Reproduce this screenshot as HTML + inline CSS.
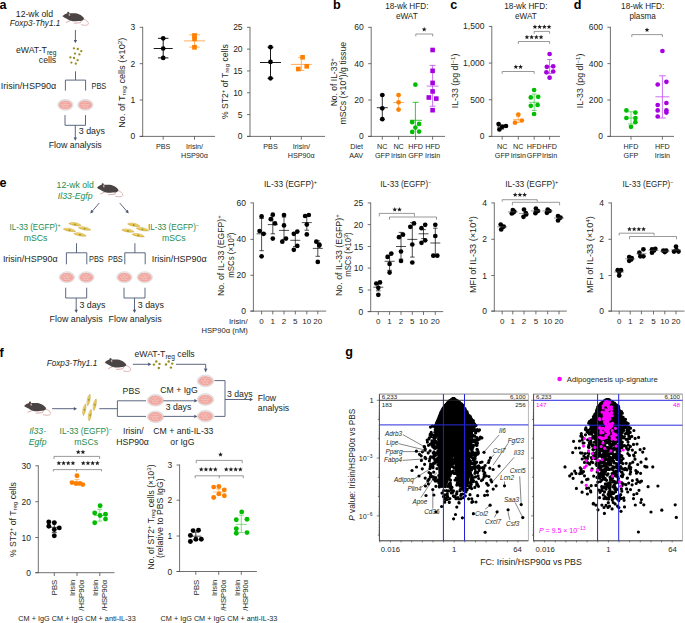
<!DOCTYPE html>
<html><head><meta charset="utf-8"><style>
html,body{margin:0;padding:0;background:#fff;width:685px;height:623px;overflow:hidden}
svg{display:block}
text{font-family:"Liberation Sans", sans-serif}
</style></head><body>
<svg width="685" height="623" viewBox="0 0 685 623">

<defs>
<polygon id="star" points="0.00,-2.25 0.65,-0.64 2.38,-0.52 1.05,0.59 1.47,2.27 0.00,1.35 -1.47,2.27 -1.05,0.59 -2.38,-0.52 -0.65,-0.64" fill="#231f20"/>
<g id="mouse">
<path d="M21.6,7.8 C24,8.6 26.6,10.4 26.4,12.4 C26.2,14 23.5,14.4 19,13.4" fill="none" stroke="#d6a2a2" stroke-width="0.8"/>
<path d="M12.3,11.9 L18.5,11.4 L19.5,9.3" fill="none" stroke="#d6a2a2" stroke-width="0.9" stroke-linecap="round" stroke-linejoin="round"/>
<path d="M4.3,11 L8.5,9.2" fill="none" stroke="#d6a2a2" stroke-width="0.9" stroke-linecap="round"/>
<path d="M0.7,4.7 C1.8,3.5 3,2.6 4.5,2.2 C6.5,1.9 8,2.0 9.5,2.0 C11.5,1.9 13.5,1.9 15,2.3 C17.5,3 20,4.4 21.5,6.2 C22.4,7.4 22,8.5 20.5,9.1 C19,9.6 17.5,9.7 16,9.8 C13.5,10.2 11,10.2 9,9.5 C7.5,9.1 6,8.3 4.8,7.4 C3.5,6.6 2,5.9 1.2,5.4 C0.8,5.2 0.6,5 0.7,4.7 Z" fill="#4a4444"/>
<ellipse cx="6.3" cy="1.8" rx="1.05" ry="1.25" fill="#4a4444"/>
<ellipse cx="7.4" cy="3.4" rx="0.8" ry="1.25" fill="#d99c9c" transform="rotate(-15 7.4 3.4)"/>
<circle cx="0.8" cy="4.9" r="0.45" fill="#d99c9c"/>
</g>
<g id="dish">
<ellipse cx="0" cy="0" rx="7.7" ry="5.5" fill="#eceff0" stroke="#c3cbd0" stroke-width="0.5"/>
<ellipse cx="0" cy="0.2" rx="6.9" ry="4.6" fill="#f2b0a9"/>
<path d="M-5.2,-1.2 q0.8,-1.2 1.6,0 t1.6,0 t1.6,0 t1.6,0 t1.6,0 t1.6,0 M-5.6,1.0 q0.8,-1.2 1.6,0 t1.6,0 t1.6,0 t1.6,0 t1.6,0 t1.6,0 t1.6,0 M-3.8,-3.1 q0.8,-1 1.6,0 t1.6,0 t1.6,0 t1.6,0 M-4.2,3.0 q0.8,-1 1.6,0 t1.6,0 t1.6,0 t1.6,0 t1.6,0" fill="none" stroke="#e58d87" stroke-width="0.45"/>
<path d="M-4.4,-0.1 q0.8,-1 1.6,0 t1.6,0 t1.6,0 t1.6,0 t1.6,0 M-2.8,-2.2 q0.8,-1 1.6,0 t1.6,0 t1.6,0 M-3.4,2.1 q0.8,-1 1.6,0 t1.6,0 t1.6,0 t1.6,0" fill="none" stroke="#fbe0dc" stroke-width="0.45"/>
<path d="M-6.6,2.2 q3,2.6 6.6,2.5 q3.6,0 6.6,-2.5" fill="none" stroke="#f7d6d2" stroke-width="0.5"/>
</g>
<g id="cell">
<path d="M-6.3,0.2 C-3.5,-2.1 3,-2.2 6.3,0.4 C3.2,1.9 -3,1.9 -6.3,0.2 Z" fill="#eac44c" stroke="#b3912b" stroke-width="0.35"/>
<path d="M-4.5,-0.2 C-2,-1.3 2,-1.3 4.5,-0.2" fill="none" stroke="#f7e08e" stroke-width="0.5"/>
<ellipse cx="0" cy="0.2" rx="0.9" ry="0.9" fill="#8c9a3c"/>
</g>
</defs>

<rect width="685" height="623" fill="#fff"/>
<text x="-0.60" y="8.90" font-size="12.6" text-anchor="start" fill="#000" font-weight="bold">a</text>
<text x="15.80" y="16.80" font-size="8.7" text-anchor="start" fill="#231f20" textLength="37.2" lengthAdjust="spacingAndGlyphs">12-wk old</text>
<text x="9.80" y="26.00" font-size="8.7" text-anchor="start" fill="#231f20" font-style="italic" textLength="50.5" lengthAdjust="spacingAndGlyphs">Foxp3-Thy1.1</text>
<use href="#mouse" transform="translate(62.00,11.30) scale(1.0)"/>
<line x1="75.40" y1="30.00" x2="75.40" y2="40.50" stroke="#4a5773" stroke-width="0.9"/>
<polygon points="75.40,43.20 73.70,40.00 77.10,40.00" fill="#4a5773"/>
<text x="16" y="52.5" font-size="8.7" fill="#231f20">eWAT-T<tspan font-size="6.6" dy="2.2">reg</tspan></text>
<text x="56.20" y="62.50" font-size="8.7" text-anchor="end" fill="#231f20">cells</text>
<circle cx="73.90" cy="48.30" r="1.15" fill="#978d22"/>
<circle cx="77.80" cy="49.00" r="1.15" fill="#978d22"/>
<circle cx="81.30" cy="51.20" r="1.15" fill="#978d22"/>
<circle cx="75.00" cy="53.60" r="1.15" fill="#978d22"/>
<circle cx="79.40" cy="54.40" r="1.15" fill="#978d22"/>
<circle cx="70.40" cy="57.40" r="1.15" fill="#978d22"/>
<circle cx="74.00" cy="58.00" r="1.15" fill="#978d22"/>
<circle cx="77.60" cy="60.20" r="1.15" fill="#978d22"/>
<circle cx="71.40" cy="62.60" r="1.15" fill="#978d22"/>
<circle cx="75.80" cy="63.70" r="1.15" fill="#978d22"/>
<line x1="75.50" y1="71.30" x2="75.50" y2="80.10" stroke="#4a5773" stroke-width="0.9"/>
<polyline points="65.40,90.60 65.40,80.10 85.60,80.10 85.60,90.60" fill="none" stroke="#4a5773" stroke-width="0.9"/>
<text x="0.80" y="89.00" font-size="8.7" text-anchor="start" fill="#231f20" textLength="55.4" lengthAdjust="spacingAndGlyphs">Irisin/HSP90α</text>
<text x="91.50" y="89.00" font-size="8.7" text-anchor="start" fill="#231f20" textLength="14.8" lengthAdjust="spacingAndGlyphs">PBS</text>
<use href="#dish" transform="translate(65.40,104.80) scale(1.0)"/>
<use href="#dish" transform="translate(85.40,104.80) scale(1.0)"/>
<polyline points="65.00,115.10 65.00,125.30 85.50,125.30 85.50,115.10" fill="none" stroke="#4a5773" stroke-width="0.9"/>
<line x1="75.30" y1="125.30" x2="75.30" y2="138.00" stroke="#4a5773" stroke-width="0.9"/>
<polygon points="75.30,140.70 73.60,137.50 77.00,137.50" fill="#4a5773"/>
<text x="78.80" y="134.30" font-size="8.7" text-anchor="start" fill="#231f20" textLength="26.1" lengthAdjust="spacingAndGlyphs">3 days</text>
<text x="48.70" y="147.80" font-size="8.7" text-anchor="start" fill="#231f20" textLength="53.1" lengthAdjust="spacingAndGlyphs">Flow analysis</text>
<line x1="142.70" y1="136.80" x2="142.70" y2="26.89" stroke="#4d4d4d" stroke-width="0.8"/>
<line x1="139.70" y1="136.40" x2="142.70" y2="136.40" stroke="#4d4d4d" stroke-width="0.8"/>
<text x="135.30" y="139.40" font-size="8.5" text-anchor="end" fill="#231f20">0</text>
<line x1="139.70" y1="100.03" x2="142.70" y2="100.03" stroke="#4d4d4d" stroke-width="0.8"/>
<text x="135.30" y="103.03" font-size="8.5" text-anchor="end" fill="#231f20">1</text>
<line x1="139.70" y1="63.66" x2="142.70" y2="63.66" stroke="#4d4d4d" stroke-width="0.8"/>
<text x="135.30" y="66.66" font-size="8.5" text-anchor="end" fill="#231f20">2</text>
<line x1="139.70" y1="27.29" x2="142.70" y2="27.29" stroke="#4d4d4d" stroke-width="0.8"/>
<text x="135.30" y="30.29" font-size="8.5" text-anchor="end" fill="#231f20">3</text>
<line x1="139.70" y1="136.40" x2="215.00" y2="136.40" stroke="#4d4d4d" stroke-width="0.8"/>
<line x1="163.20" y1="136.40" x2="163.20" y2="139.70" stroke="#4d4d4d" stroke-width="0.8"/>
<line x1="194.50" y1="136.40" x2="194.50" y2="139.70" stroke="#4d4d4d" stroke-width="0.8"/>
<text x="163.20" y="149.20" font-size="7.2" text-anchor="middle" fill="#231f20">PBS</text>
<text x="194.50" y="149.20" font-size="7.2" text-anchor="middle" fill="#231f20">Irisin/</text>
<text x="194.50" y="158.40" font-size="7.2" text-anchor="middle" fill="#231f20">HSP90α</text>
<text transform="translate(124.6,82.7) rotate(-90)" font-size="8.2" text-anchor="middle" textLength="90.2" lengthAdjust="spacingAndGlyphs" fill="#231f20">No. of T<tspan font-size="5.8" dy="1.8">reg</tspan><tspan dy="-1.8"> cells (×10</tspan><tspan font-size="5.8" dy="-3">2</tspan><tspan dy="3">)</tspan></text>
<line x1="163.20" y1="38.30" x2="163.20" y2="57.90" stroke="#000" stroke-width="0.9"/>
<line x1="153.70" y1="48.50" x2="172.70" y2="48.50" stroke="#000" stroke-width="0.9"/>
<line x1="157.95" y1="38.30" x2="168.45" y2="38.30" stroke="#000" stroke-width="0.9"/>
<line x1="157.95" y1="57.90" x2="168.45" y2="57.90" stroke="#000" stroke-width="0.9"/>
<circle cx="163.20" cy="38.30" r="2.35" fill="#000"/>
<circle cx="163.20" cy="48.50" r="2.35" fill="#000"/>
<circle cx="163.20" cy="57.90" r="2.35" fill="#000"/>
<line x1="194.50" y1="34.80" x2="194.50" y2="47.10" stroke="#ffa64d" stroke-width="0.9"/>
<line x1="184.00" y1="40.90" x2="205.00" y2="40.90" stroke="#ffa64d" stroke-width="0.9"/>
<line x1="189.25" y1="34.80" x2="199.75" y2="34.80" stroke="#ffa64d" stroke-width="0.9"/>
<line x1="189.25" y1="47.10" x2="199.75" y2="47.10" stroke="#ffa64d" stroke-width="0.9"/>
<rect x="192.15" y="33.15" width="4.7" height="4.7" fill="#ff7f00"/>
<rect x="192.15" y="36.45" width="4.7" height="4.7" fill="#ff7f00"/>
<rect x="192.15" y="44.95" width="4.7" height="4.7" fill="#ff7f00"/>
<line x1="250.00" y1="136.80" x2="250.00" y2="26.90" stroke="#4d4d4d" stroke-width="0.8"/>
<line x1="247.00" y1="136.40" x2="250.00" y2="136.40" stroke="#4d4d4d" stroke-width="0.8"/>
<text x="242.60" y="139.40" font-size="8.5" text-anchor="end" fill="#231f20">0</text>
<line x1="247.00" y1="114.58" x2="250.00" y2="114.58" stroke="#4d4d4d" stroke-width="0.8"/>
<text x="242.60" y="117.58" font-size="8.5" text-anchor="end" fill="#231f20">5</text>
<line x1="247.00" y1="92.76" x2="250.00" y2="92.76" stroke="#4d4d4d" stroke-width="0.8"/>
<text x="242.60" y="95.76" font-size="8.5" text-anchor="end" fill="#231f20">10</text>
<line x1="247.00" y1="70.94" x2="250.00" y2="70.94" stroke="#4d4d4d" stroke-width="0.8"/>
<text x="242.60" y="73.94" font-size="8.5" text-anchor="end" fill="#231f20">15</text>
<line x1="247.00" y1="49.12" x2="250.00" y2="49.12" stroke="#4d4d4d" stroke-width="0.8"/>
<text x="242.60" y="52.12" font-size="8.5" text-anchor="end" fill="#231f20">20</text>
<line x1="247.00" y1="27.30" x2="250.00" y2="27.30" stroke="#4d4d4d" stroke-width="0.8"/>
<text x="242.60" y="30.30" font-size="8.5" text-anchor="end" fill="#231f20">25</text>
<line x1="247.00" y1="136.40" x2="325.00" y2="136.40" stroke="#4d4d4d" stroke-width="0.8"/>
<line x1="270.50" y1="136.40" x2="270.50" y2="139.70" stroke="#4d4d4d" stroke-width="0.8"/>
<line x1="301.30" y1="136.40" x2="301.30" y2="139.70" stroke="#4d4d4d" stroke-width="0.8"/>
<text x="270.50" y="149.20" font-size="7.2" text-anchor="middle" fill="#231f20">PBS</text>
<text x="301.30" y="149.20" font-size="7.2" text-anchor="middle" fill="#231f20">Irisin/</text>
<text x="301.30" y="158.40" font-size="7.2" text-anchor="middle" fill="#231f20">HSP90α</text>
<text transform="translate(227.6,81.7) rotate(-90)" font-size="8.2" text-anchor="middle" textLength="74.8" lengthAdjust="spacingAndGlyphs" fill="#231f20">% ST2<tspan font-size="5.8" dy="-3">+</tspan><tspan dy="3"> of T</tspan><tspan font-size="5.8" dy="1.8">reg</tspan><tspan dy="-1.8"> cells</tspan></text>
<line x1="270.50" y1="47.20" x2="270.50" y2="78.30" stroke="#000" stroke-width="0.9"/>
<line x1="260.00" y1="62.50" x2="281.00" y2="62.50" stroke="#000" stroke-width="0.9"/>
<line x1="267.50" y1="47.20" x2="273.50" y2="47.20" stroke="#000" stroke-width="0.9"/>
<line x1="267.50" y1="78.30" x2="273.50" y2="78.30" stroke="#000" stroke-width="0.9"/>
<circle cx="270.50" cy="47.20" r="2.35" fill="#000"/>
<circle cx="270.50" cy="61.90" r="2.35" fill="#000"/>
<circle cx="270.50" cy="78.30" r="2.35" fill="#000"/>
<line x1="301.30" y1="57.30" x2="301.30" y2="70.40" stroke="#ffa64d" stroke-width="0.9"/>
<line x1="290.80" y1="64.40" x2="311.80" y2="64.40" stroke="#ffa64d" stroke-width="0.9"/>
<line x1="298.30" y1="57.30" x2="304.30" y2="57.30" stroke="#ffa64d" stroke-width="0.9"/>
<line x1="298.30" y1="70.40" x2="304.30" y2="70.40" stroke="#ffa64d" stroke-width="0.9"/>
<rect x="300.30" y="55.00" width="4.6" height="4.6" fill="#ff7f00"/>
<rect x="304.40" y="64.00" width="4.6" height="4.6" fill="#ff7f00"/>
<rect x="296.00" y="66.70" width="4.6" height="4.6" fill="#ff7f00"/>
<text x="333.10" y="8.80" font-size="12.6" text-anchor="start" fill="#000" font-weight="bold">b</text>
<text x="406.80" y="8.70" font-size="8.2" text-anchor="middle" fill="#231f20">18-wk HFD:</text>
<text x="406.80" y="18.80" font-size="8.2" text-anchor="middle" fill="#231f20">eWAT</text>
<line x1="371.20" y1="136.80" x2="371.20" y2="26.92" stroke="#4d4d4d" stroke-width="0.8"/>
<line x1="368.20" y1="136.40" x2="371.20" y2="136.40" stroke="#4d4d4d" stroke-width="0.8"/>
<text x="363.80" y="139.40" font-size="8.5" text-anchor="end" fill="#231f20">0</text>
<line x1="368.20" y1="100.04" x2="371.20" y2="100.04" stroke="#4d4d4d" stroke-width="0.8"/>
<text x="363.80" y="103.04" font-size="8.5" text-anchor="end" fill="#231f20">20</text>
<line x1="368.20" y1="63.68" x2="371.20" y2="63.68" stroke="#4d4d4d" stroke-width="0.8"/>
<text x="363.80" y="66.68" font-size="8.5" text-anchor="end" fill="#231f20">40</text>
<line x1="368.20" y1="27.32" x2="371.20" y2="27.32" stroke="#4d4d4d" stroke-width="0.8"/>
<text x="363.80" y="30.32" font-size="8.5" text-anchor="end" fill="#231f20">60</text>
<line x1="368.20" y1="136.40" x2="445.00" y2="136.40" stroke="#4d4d4d" stroke-width="0.8"/>
<line x1="382.30" y1="136.40" x2="382.30" y2="139.70" stroke="#4d4d4d" stroke-width="0.8"/>
<line x1="398.60" y1="136.40" x2="398.60" y2="139.70" stroke="#4d4d4d" stroke-width="0.8"/>
<line x1="415.60" y1="136.40" x2="415.60" y2="139.70" stroke="#4d4d4d" stroke-width="0.8"/>
<line x1="432.60" y1="136.40" x2="432.60" y2="139.70" stroke="#4d4d4d" stroke-width="0.8"/>
<text x="363.00" y="149.00" font-size="7.2" text-anchor="end" fill="#231f20">Diet</text>
<text x="363.00" y="158.30" font-size="7.2" text-anchor="end" fill="#231f20">AAV</text>
<text x="382.30" y="149.00" font-size="7.2" text-anchor="middle" fill="#231f20">NC</text>
<text x="382.30" y="158.30" font-size="7.2" text-anchor="middle" fill="#231f20">GFP</text>
<text x="398.60" y="149.00" font-size="7.2" text-anchor="middle" fill="#231f20">NC</text>
<text x="398.60" y="158.30" font-size="7.2" text-anchor="middle" fill="#231f20">Irisin</text>
<text x="415.60" y="149.00" font-size="7.2" text-anchor="middle" fill="#231f20">HFD</text>
<text x="415.60" y="158.30" font-size="7.2" text-anchor="middle" fill="#231f20">GFP</text>
<text x="432.60" y="149.00" font-size="7.2" text-anchor="middle" fill="#231f20">HFD</text>
<text x="432.60" y="158.30" font-size="7.2" text-anchor="middle" fill="#231f20">Irisin</text>
<text transform="translate(337.2,82.3) rotate(-90)" font-size="8.2" text-anchor="middle" textLength="48" lengthAdjust="spacingAndGlyphs" fill="#231f20">No. of IL-33<tspan font-size="5.8" dy="-3">+</tspan></text>
<text transform="translate(345.5,83.2) rotate(-90)" font-size="8.2" text-anchor="middle" textLength="82.8" lengthAdjust="spacingAndGlyphs" fill="#231f20">mSCs (×10<tspan font-size="5.8" dy="-3">4</tspan><tspan dy="3">)/g tissue</tspan></text>
<line x1="382.30" y1="95.00" x2="382.30" y2="119.20" stroke="#000" stroke-width="0.8"/>
<line x1="376.80" y1="107.70" x2="387.80" y2="107.70" stroke="#000" stroke-width="0.8"/>
<line x1="379.80" y1="95.00" x2="384.80" y2="95.00" stroke="#000" stroke-width="0.8"/>
<line x1="379.80" y1="119.20" x2="384.80" y2="119.20" stroke="#000" stroke-width="0.8"/>
<circle cx="382.30" cy="95.00" r="2.35" fill="#000"/>
<circle cx="382.30" cy="108.30" r="2.35" fill="#000"/>
<circle cx="382.30" cy="119.20" r="2.35" fill="#000"/>
<line x1="398.60" y1="95.00" x2="398.60" y2="109.60" stroke="#ffa64d" stroke-width="0.8"/>
<line x1="393.10" y1="102.50" x2="404.10" y2="102.50" stroke="#ffa64d" stroke-width="0.8"/>
<line x1="396.10" y1="95.00" x2="401.10" y2="95.00" stroke="#ffa64d" stroke-width="0.8"/>
<line x1="396.10" y1="109.60" x2="401.10" y2="109.60" stroke="#ffa64d" stroke-width="0.8"/>
<circle cx="398.60" cy="95.00" r="2.35" fill="#ff7f00"/>
<circle cx="398.60" cy="102.30" r="2.35" fill="#ff7f00"/>
<circle cx="398.60" cy="109.60" r="2.35" fill="#ff7f00"/>
<line x1="415.40" y1="102.30" x2="415.40" y2="136.40" stroke="#00bd00" stroke-width="0.8"/>
<line x1="409.80" y1="120.30" x2="421.90" y2="120.30" stroke="#00bd00" stroke-width="0.8"/>
<line x1="412.70" y1="102.30" x2="418.70" y2="102.30" stroke="#00bd00" stroke-width="0.8"/>
<circle cx="415.40" cy="84.70" r="2.35" fill="#00bd00"/>
<circle cx="412.20" cy="122.20" r="2.35" fill="#00bd00"/>
<circle cx="419.10" cy="123.90" r="2.35" fill="#00bd00"/>
<circle cx="415.40" cy="127.60" r="2.35" fill="#00bd00"/>
<circle cx="412.20" cy="131.90" r="2.35" fill="#00bd00"/>
<circle cx="419.10" cy="131.60" r="2.35" fill="#00bd00"/>
<line x1="432.60" y1="65.40" x2="432.60" y2="106.20" stroke="#c04df0" stroke-width="0.8"/>
<line x1="426.75" y1="86.10" x2="438.45" y2="86.10" stroke="#c04df0" stroke-width="0.8"/>
<line x1="429.60" y1="65.40" x2="435.60" y2="65.40" stroke="#c04df0" stroke-width="0.8"/>
<line x1="429.60" y1="106.20" x2="435.60" y2="106.20" stroke="#c04df0" stroke-width="0.8"/>
<rect x="430.30" y="47.70" width="4.6" height="4.6" fill="#a600e0"/>
<rect x="430.30" y="68.50" width="4.6" height="4.6" fill="#a600e0"/>
<rect x="430.30" y="80.60" width="4.6" height="4.6" fill="#a600e0"/>
<rect x="430.30" y="89.10" width="4.6" height="4.6" fill="#a600e0"/>
<rect x="426.50" y="95.20" width="4.6" height="4.6" fill="#a600e0"/>
<rect x="434.00" y="96.30" width="4.6" height="4.6" fill="#a600e0"/>
<rect x="430.30" y="107.90" width="4.6" height="4.6" fill="#a600e0"/>
<polyline points="415.80,36.40 415.80,34.00 432.70,34.00 432.70,36.40" fill="none" stroke="#555" stroke-width="0.6"/>
<use href="#star" x="424.20" y="29.20"/>
<text x="450.30" y="9.00" font-size="12.6" text-anchor="start" fill="#000" font-weight="bold">c</text>
<text x="525.90" y="8.70" font-size="8.2" text-anchor="middle" fill="#231f20">18-wk HFD:</text>
<text x="525.90" y="18.80" font-size="8.2" text-anchor="middle" fill="#231f20">eWAT</text>
<line x1="491.80" y1="136.80" x2="491.80" y2="26.05" stroke="#4d4d4d" stroke-width="0.8"/>
<line x1="488.80" y1="136.40" x2="491.80" y2="136.40" stroke="#4d4d4d" stroke-width="0.8"/>
<text x="484.40" y="139.40" font-size="8.5" text-anchor="end" fill="#231f20">0</text>
<line x1="488.80" y1="99.75" x2="491.80" y2="99.75" stroke="#4d4d4d" stroke-width="0.8"/>
<text x="484.40" y="102.75" font-size="8.5" text-anchor="end" fill="#231f20">500</text>
<line x1="488.80" y1="63.10" x2="491.80" y2="63.10" stroke="#4d4d4d" stroke-width="0.8"/>
<text x="484.40" y="66.10" font-size="8.5" text-anchor="end" fill="#231f20">1,000</text>
<line x1="488.80" y1="26.45" x2="491.80" y2="26.45" stroke="#4d4d4d" stroke-width="0.8"/>
<text x="484.40" y="29.45" font-size="8.5" text-anchor="end" fill="#231f20">1,500</text>
<line x1="488.80" y1="136.40" x2="560.00" y2="136.40" stroke="#4d4d4d" stroke-width="0.8"/>
<line x1="502.20" y1="136.40" x2="502.20" y2="139.70" stroke="#4d4d4d" stroke-width="0.8"/>
<line x1="518.30" y1="136.40" x2="518.30" y2="139.70" stroke="#4d4d4d" stroke-width="0.8"/>
<line x1="534.20" y1="136.40" x2="534.20" y2="139.70" stroke="#4d4d4d" stroke-width="0.8"/>
<line x1="549.60" y1="136.40" x2="549.60" y2="139.70" stroke="#4d4d4d" stroke-width="0.8"/>
<text x="502.20" y="149.00" font-size="7.2" text-anchor="middle" fill="#231f20">NC</text>
<text x="502.20" y="158.30" font-size="7.2" text-anchor="middle" fill="#231f20">GFP</text>
<text x="518.30" y="149.00" font-size="7.2" text-anchor="middle" fill="#231f20">NC</text>
<text x="518.30" y="158.30" font-size="7.2" text-anchor="middle" fill="#231f20">Irisin</text>
<text x="534.20" y="149.00" font-size="7.2" text-anchor="middle" fill="#231f20">HFD</text>
<text x="534.20" y="158.30" font-size="7.2" text-anchor="middle" fill="#231f20">GFP</text>
<text x="549.60" y="149.00" font-size="7.2" text-anchor="middle" fill="#231f20">HFD</text>
<text x="549.60" y="158.30" font-size="7.2" text-anchor="middle" fill="#231f20">Irisin</text>
<text transform="translate(458.4,80.9) rotate(-90)" font-size="8.2" text-anchor="middle" textLength="54.7" lengthAdjust="spacingAndGlyphs" fill="#231f20">IL-33 (pg dl<tspan font-size="5.8" dy="-3">−1</tspan><tspan dy="3">)</tspan></text>
<line x1="502.20" y1="125.00" x2="502.20" y2="129.00" stroke="#000" stroke-width="0.8"/>
<line x1="497.20" y1="127.00" x2="507.20" y2="127.00" stroke="#000" stroke-width="0.8"/>
<line x1="500.20" y1="125.00" x2="504.20" y2="125.00" stroke="#000" stroke-width="0.8"/>
<line x1="500.20" y1="129.00" x2="504.20" y2="129.00" stroke="#000" stroke-width="0.8"/>
<circle cx="498.60" cy="124.10" r="2.35" fill="#000"/>
<circle cx="506.00" cy="126.00" r="2.35" fill="#000"/>
<circle cx="499.40" cy="129.50" r="2.35" fill="#000"/>
<circle cx="502.20" cy="126.80" r="2.35" fill="#000"/>
<line x1="518.30" y1="116.50" x2="518.30" y2="122.50" stroke="#ffa64d" stroke-width="0.8"/>
<line x1="513.30" y1="119.50" x2="523.30" y2="119.50" stroke="#ffa64d" stroke-width="0.8"/>
<line x1="516.30" y1="116.50" x2="520.30" y2="116.50" stroke="#ffa64d" stroke-width="0.8"/>
<line x1="516.30" y1="122.50" x2="520.30" y2="122.50" stroke="#ffa64d" stroke-width="0.8"/>
<circle cx="518.30" cy="114.50" r="2.35" fill="#ff7f00"/>
<circle cx="521.80" cy="120.50" r="2.35" fill="#ff7f00"/>
<circle cx="515.00" cy="122.70" r="2.35" fill="#ff7f00"/>
<line x1="534.20" y1="94.00" x2="534.20" y2="110.50" stroke="#4dd24d" stroke-width="0.8"/>
<line x1="529.20" y1="102.30" x2="539.20" y2="102.30" stroke="#4dd24d" stroke-width="0.8"/>
<line x1="531.70" y1="94.00" x2="536.70" y2="94.00" stroke="#4dd24d" stroke-width="0.8"/>
<line x1="531.70" y1="110.50" x2="536.70" y2="110.50" stroke="#4dd24d" stroke-width="0.8"/>
<circle cx="534.10" cy="90.00" r="2.35" fill="#00bd00"/>
<circle cx="538.20" cy="96.80" r="2.35" fill="#00bd00"/>
<circle cx="530.80" cy="97.40" r="2.35" fill="#00bd00"/>
<circle cx="537.60" cy="105.00" r="2.35" fill="#00bd00"/>
<circle cx="530.80" cy="105.80" r="2.35" fill="#00bd00"/>
<circle cx="534.10" cy="114.00" r="2.35" fill="#00bd00"/>
<line x1="549.60" y1="59.50" x2="549.60" y2="73.60" stroke="#c04df0" stroke-width="0.8"/>
<line x1="544.60" y1="66.80" x2="554.60" y2="66.80" stroke="#c04df0" stroke-width="0.8"/>
<line x1="547.10" y1="59.50" x2="552.10" y2="59.50" stroke="#c04df0" stroke-width="0.8"/>
<line x1="547.10" y1="73.60" x2="552.10" y2="73.60" stroke="#c04df0" stroke-width="0.8"/>
<circle cx="549.60" cy="54.00" r="2.35" fill="#a600e0"/>
<circle cx="553.20" cy="66.30" r="2.35" fill="#a600e0"/>
<circle cx="546.90" cy="66.80" r="2.35" fill="#a600e0"/>
<circle cx="553.20" cy="71.50" r="2.35" fill="#a600e0"/>
<circle cx="546.40" cy="72.30" r="2.35" fill="#a600e0"/>
<circle cx="549.60" cy="77.70" r="2.35" fill="#a600e0"/>
<polyline points="502.20,73.90 502.20,71.50 534.20,71.50 534.20,73.90" fill="none" stroke="#555" stroke-width="0.6"/>
<use href="#star" x="515.85" y="66.70"/>
<use href="#star" x="520.55" y="66.70"/>
<polyline points="518.30,43.90 518.30,41.50 549.60,41.50 549.60,43.90" fill="none" stroke="#555" stroke-width="0.6"/>
<use href="#star" x="526.95" y="36.90"/>
<use href="#star" x="531.65" y="36.90"/>
<use href="#star" x="536.35" y="36.90"/>
<use href="#star" x="541.05" y="36.90"/>
<polyline points="534.20,33.80 534.20,31.40 549.60,31.40 549.60,33.80" fill="none" stroke="#555" stroke-width="0.6"/>
<use href="#star" x="534.95" y="26.70"/>
<use href="#star" x="539.65" y="26.70"/>
<use href="#star" x="544.35" y="26.70"/>
<use href="#star" x="549.05" y="26.70"/>
<text x="573.80" y="9.00" font-size="12.6" text-anchor="start" fill="#000" font-weight="bold">d</text>
<text x="642.70" y="8.70" font-size="8.2" text-anchor="middle" fill="#231f20">18-wk HFD:</text>
<text x="642.70" y="18.80" font-size="8.2" text-anchor="middle" fill="#231f20">plasma</text>
<line x1="610.40" y1="136.80" x2="610.40" y2="26.86" stroke="#4d4d4d" stroke-width="0.8"/>
<line x1="607.40" y1="136.40" x2="610.40" y2="136.40" stroke="#4d4d4d" stroke-width="0.8"/>
<text x="603.00" y="139.40" font-size="8.5" text-anchor="end" fill="#231f20">0</text>
<line x1="607.40" y1="100.02" x2="610.40" y2="100.02" stroke="#4d4d4d" stroke-width="0.8"/>
<text x="603.00" y="103.02" font-size="8.5" text-anchor="end" fill="#231f20">200</text>
<line x1="607.40" y1="63.64" x2="610.40" y2="63.64" stroke="#4d4d4d" stroke-width="0.8"/>
<text x="603.00" y="66.64" font-size="8.5" text-anchor="end" fill="#231f20">400</text>
<line x1="607.40" y1="27.26" x2="610.40" y2="27.26" stroke="#4d4d4d" stroke-width="0.8"/>
<text x="603.00" y="30.26" font-size="8.5" text-anchor="end" fill="#231f20">600</text>
<line x1="607.40" y1="136.40" x2="674.00" y2="136.40" stroke="#4d4d4d" stroke-width="0.8"/>
<line x1="631.00" y1="136.40" x2="631.00" y2="139.70" stroke="#4d4d4d" stroke-width="0.8"/>
<line x1="662.40" y1="136.40" x2="662.40" y2="139.70" stroke="#4d4d4d" stroke-width="0.8"/>
<text x="631.00" y="149.00" font-size="7.2" text-anchor="middle" fill="#231f20">HFD</text>
<text x="631.00" y="158.30" font-size="7.2" text-anchor="middle" fill="#231f20">GFP</text>
<text x="662.40" y="149.00" font-size="7.2" text-anchor="middle" fill="#231f20">HFD</text>
<text x="662.40" y="158.30" font-size="7.2" text-anchor="middle" fill="#231f20">Irisin</text>
<text transform="translate(582.5,80.9) rotate(-90)" font-size="8.2" text-anchor="middle" textLength="54.7" lengthAdjust="spacingAndGlyphs" fill="#231f20">IL-33 (pg dl<tspan font-size="5.8" dy="-3">−1</tspan><tspan dy="3">)</tspan></text>
<line x1="631.00" y1="111.80" x2="631.00" y2="124.00" stroke="#4dd24d" stroke-width="0.8"/>
<line x1="624.50" y1="118.00" x2="637.50" y2="118.00" stroke="#4dd24d" stroke-width="0.8"/>
<line x1="628.00" y1="111.80" x2="634.00" y2="111.80" stroke="#4dd24d" stroke-width="0.8"/>
<line x1="628.00" y1="124.00" x2="634.00" y2="124.00" stroke="#4dd24d" stroke-width="0.8"/>
<circle cx="626.40" cy="110.40" r="2.35" fill="#00bd00"/>
<circle cx="635.40" cy="112.60" r="2.35" fill="#00bd00"/>
<circle cx="626.40" cy="118.00" r="2.35" fill="#00bd00"/>
<circle cx="635.40" cy="118.00" r="2.35" fill="#00bd00"/>
<circle cx="635.40" cy="122.20" r="2.35" fill="#00bd00"/>
<circle cx="631.00" cy="126.80" r="2.35" fill="#00bd00"/>
<line x1="662.40" y1="75.80" x2="662.40" y2="118.00" stroke="#c04df0" stroke-width="0.8"/>
<line x1="655.40" y1="96.80" x2="669.40" y2="96.80" stroke="#c04df0" stroke-width="0.8"/>
<line x1="658.90" y1="75.80" x2="665.90" y2="75.80" stroke="#c04df0" stroke-width="0.8"/>
<line x1="658.90" y1="118.00" x2="665.90" y2="118.00" stroke="#c04df0" stroke-width="0.8"/>
<circle cx="662.40" cy="51.00" r="2.35" fill="#a600e0"/>
<circle cx="657.70" cy="84.50" r="2.35" fill="#a600e0"/>
<circle cx="666.40" cy="81.80" r="2.35" fill="#a600e0"/>
<circle cx="657.70" cy="105.00" r="2.35" fill="#a600e0"/>
<circle cx="666.40" cy="103.00" r="2.35" fill="#a600e0"/>
<circle cx="657.70" cy="110.40" r="2.35" fill="#a600e0"/>
<circle cx="666.40" cy="110.40" r="2.35" fill="#a600e0"/>
<circle cx="657.70" cy="116.50" r="2.35" fill="#a600e0"/>
<circle cx="666.40" cy="112.60" r="2.35" fill="#a600e0"/>
<polyline points="631.80,37.00 631.80,34.60 662.40,34.60 662.40,37.00" fill="none" stroke="#555" stroke-width="0.6"/>
<use href="#star" x="647.00" y="29.70"/>
<text x="-0.60" y="186.80" font-size="12.6" text-anchor="start" fill="#000" font-weight="bold">e</text>
<text x="75.20" y="188.30" font-size="8.7" text-anchor="middle" fill="#1c8c50">12-wk old</text>
<text x="75.20" y="198.60" font-size="8.7" text-anchor="middle" fill="#1c8c50" font-style="italic">Il33-Egfp</text>
<use href="#mouse" transform="translate(96.40,182.80) scale(1.0)"/>
<line x1="99.30" y1="203.00" x2="92.07" y2="211.36" stroke="#4a5773" stroke-width="0.9"/>
<polygon points="90.30,213.40 91.11,209.87 93.68,212.09" fill="#4a5773"/>
<line x1="119.70" y1="203.00" x2="126.93" y2="211.36" stroke="#4a5773" stroke-width="0.9"/>
<polygon points="128.70,213.40 125.32,212.09 127.89,209.87" fill="#4a5773"/>
<use href="#cell" transform="translate(75.00,224.20) rotate(8) scale(1.0)"/>
<use href="#cell" transform="translate(84.60,228.50) rotate(10) scale(1.0)"/>
<use href="#cell" transform="translate(69.50,229.90) rotate(10) scale(1.0)"/>
<use href="#cell" transform="translate(80.00,234.50) rotate(10) scale(1.0)"/>
<use href="#cell" transform="translate(133.80,224.80) rotate(10) scale(1.0)"/>
<use href="#cell" transform="translate(142.50,229.20) rotate(10) scale(1.0)"/>
<use href="#cell" transform="translate(128.00,230.60) rotate(8) scale(1.0)"/>
<use href="#cell" transform="translate(138.30,235.20) rotate(10) scale(1.0)"/>
<text x="9.6" y="230.4" font-size="8.7" textLength="51" lengthAdjust="spacingAndGlyphs" fill="#1c8c50">IL-33 (EGFP)<tspan font-size="5.8" dy="-3">+</tspan></text>
<text x="35.50" y="240.60" font-size="8.7" text-anchor="middle" fill="#1c8c50">mSCs</text>
<text x="148" y="230.4" font-size="8.7" textLength="51" lengthAdjust="spacingAndGlyphs" fill="#1c8c50">IL-33 (EGFP)<tspan font-size="5.8" dy="-3">−</tspan></text>
<text x="173.80" y="240.60" font-size="8.7" text-anchor="middle" fill="#1c8c50">mSCs</text>
<line x1="76.50" y1="243.20" x2="76.50" y2="252.80" stroke="#4a5773" stroke-width="0.9"/>
<polyline points="66.40,264.30 66.40,252.80 86.80,252.80 86.80,264.30" fill="none" stroke="#4a5773" stroke-width="0.9"/>
<line x1="134.90" y1="243.20" x2="134.90" y2="252.80" stroke="#4a5773" stroke-width="0.9"/>
<polyline points="124.80,264.30 124.80,252.80 145.20,252.80 145.20,264.30" fill="none" stroke="#4a5773" stroke-width="0.9"/>
<text x="2.90" y="261.50" font-size="8.7" text-anchor="start" fill="#231f20" textLength="54.8" lengthAdjust="spacingAndGlyphs">Irisin/HSP90α</text>
<text x="89.00" y="261.50" font-size="8.7" text-anchor="start" fill="#231f20" textLength="14.8" lengthAdjust="spacingAndGlyphs">PBS</text>
<text x="108.00" y="261.50" font-size="8.7" text-anchor="start" fill="#231f20" textLength="14.8" lengthAdjust="spacingAndGlyphs">PBS</text>
<text x="151.80" y="261.50" font-size="8.7" text-anchor="start" fill="#231f20" textLength="54.8" lengthAdjust="spacingAndGlyphs">Irisin/HSP90α</text>
<use href="#dish" transform="translate(66.90,277.20) scale(1.0)"/>
<use href="#dish" transform="translate(86.40,277.20) scale(1.0)"/>
<use href="#dish" transform="translate(124.40,277.20) scale(1.0)"/>
<use href="#dish" transform="translate(144.80,277.20) scale(1.0)"/>
<polyline points="65.70,287.70 65.70,298.00 86.70,298.00 86.70,287.70" fill="none" stroke="#4a5773" stroke-width="0.9"/>
<line x1="76.20" y1="298.00" x2="76.20" y2="310.30" stroke="#4a5773" stroke-width="0.9"/>
<polygon points="76.20,313.00 74.50,309.80 77.90,309.80" fill="#4a5773"/>
<polyline points="124.00,287.70 124.00,298.00 145.00,298.00 145.00,287.70" fill="none" stroke="#4a5773" stroke-width="0.9"/>
<line x1="134.50" y1="298.00" x2="134.50" y2="310.30" stroke="#4a5773" stroke-width="0.9"/>
<polygon points="134.50,313.00 132.80,309.80 136.20,309.80" fill="#4a5773"/>
<text x="79.40" y="307.80" font-size="8.7" text-anchor="start" fill="#231f20" textLength="26.1" lengthAdjust="spacingAndGlyphs">3 days</text>
<text x="137.80" y="307.80" font-size="8.7" text-anchor="start" fill="#231f20" textLength="26.1" lengthAdjust="spacingAndGlyphs">3 days</text>
<text x="49.60" y="321.50" font-size="8.7" text-anchor="start" fill="#231f20" textLength="53.1" lengthAdjust="spacingAndGlyphs">Flow analysis</text>
<text x="108.60" y="321.50" font-size="8.7" text-anchor="start" fill="#231f20" textLength="53.1" lengthAdjust="spacingAndGlyphs">Flow analysis</text>
<line x1="253.40" y1="311.50" x2="253.40" y2="202.50" stroke="#4d4d4d" stroke-width="0.8"/>
<line x1="250.40" y1="311.10" x2="253.40" y2="311.10" stroke="#4d4d4d" stroke-width="0.8"/>
<text x="246.00" y="314.10" font-size="8.5" text-anchor="end" fill="#231f20">0</text>
<line x1="250.40" y1="275.30" x2="253.40" y2="275.30" stroke="#4d4d4d" stroke-width="0.8"/>
<text x="246.00" y="278.30" font-size="8.5" text-anchor="end" fill="#231f20">20</text>
<line x1="250.40" y1="239.40" x2="253.40" y2="239.40" stroke="#4d4d4d" stroke-width="0.8"/>
<text x="246.00" y="242.40" font-size="8.5" text-anchor="end" fill="#231f20">40</text>
<line x1="250.40" y1="202.90" x2="253.40" y2="202.90" stroke="#4d4d4d" stroke-width="0.8"/>
<text x="246.00" y="205.90" font-size="8.5" text-anchor="end" fill="#231f20">60</text>
<line x1="250.40" y1="311.10" x2="326.20" y2="311.10" stroke="#4d4d4d" stroke-width="0.8"/>
<line x1="261.60" y1="311.10" x2="261.60" y2="314.40" stroke="#4d4d4d" stroke-width="0.8"/>
<line x1="272.80" y1="311.10" x2="272.80" y2="314.40" stroke="#4d4d4d" stroke-width="0.8"/>
<line x1="284.00" y1="311.10" x2="284.00" y2="314.40" stroke="#4d4d4d" stroke-width="0.8"/>
<line x1="295.30" y1="311.10" x2="295.30" y2="314.40" stroke="#4d4d4d" stroke-width="0.8"/>
<line x1="306.80" y1="311.10" x2="306.80" y2="314.40" stroke="#4d4d4d" stroke-width="0.8"/>
<line x1="317.80" y1="311.10" x2="317.80" y2="314.40" stroke="#4d4d4d" stroke-width="0.8"/>
<text x="261.60" y="324.40" font-size="8.0" text-anchor="middle" fill="#231f20">0</text>
<text x="272.80" y="324.40" font-size="8.0" text-anchor="middle" fill="#231f20">1</text>
<text x="284.00" y="324.40" font-size="8.0" text-anchor="middle" fill="#231f20">2</text>
<text x="295.30" y="324.40" font-size="8.0" text-anchor="middle" fill="#231f20">5</text>
<text x="306.80" y="324.40" font-size="8.0" text-anchor="middle" fill="#231f20">10</text>
<text x="317.80" y="324.40" font-size="8.0" text-anchor="middle" fill="#231f20">20</text>
<line x1="261.60" y1="218.40" x2="261.60" y2="250.70" stroke="#000" stroke-width="0.7"/>
<line x1="256.60" y1="233.80" x2="266.60" y2="233.80" stroke="#000" stroke-width="0.7"/>
<line x1="259.35" y1="218.40" x2="263.85" y2="218.40" stroke="#000" stroke-width="0.7"/>
<line x1="259.35" y1="250.70" x2="263.85" y2="250.70" stroke="#000" stroke-width="0.7"/>
<circle cx="261.60" cy="216.40" r="2.35" fill="#000"/>
<circle cx="259.60" cy="231.00" r="2.35" fill="#000"/>
<circle cx="263.60" cy="233.80" r="2.35" fill="#000"/>
<circle cx="261.60" cy="256.30" r="2.35" fill="#000"/>
<line x1="272.80" y1="215.60" x2="272.80" y2="233.80" stroke="#000" stroke-width="0.7"/>
<line x1="267.80" y1="224.60" x2="277.80" y2="224.60" stroke="#000" stroke-width="0.7"/>
<line x1="270.55" y1="215.60" x2="275.05" y2="215.60" stroke="#000" stroke-width="0.7"/>
<line x1="270.55" y1="233.80" x2="275.05" y2="233.80" stroke="#000" stroke-width="0.7"/>
<circle cx="272.80" cy="214.70" r="2.35" fill="#000"/>
<circle cx="270.80" cy="219.20" r="2.35" fill="#000"/>
<circle cx="275.00" cy="223.40" r="2.35" fill="#000"/>
<circle cx="272.80" cy="238.60" r="2.35" fill="#000"/>
<line x1="284.00" y1="217.00" x2="284.00" y2="239.40" stroke="#000" stroke-width="0.7"/>
<line x1="279.00" y1="230.40" x2="289.00" y2="230.40" stroke="#000" stroke-width="0.7"/>
<line x1="281.75" y1="217.00" x2="286.25" y2="217.00" stroke="#000" stroke-width="0.7"/>
<line x1="281.75" y1="239.40" x2="286.25" y2="239.40" stroke="#000" stroke-width="0.7"/>
<circle cx="284.00" cy="215.00" r="2.35" fill="#000"/>
<circle cx="284.00" cy="225.40" r="2.35" fill="#000"/>
<circle cx="286.00" cy="238.60" r="2.35" fill="#000"/>
<circle cx="282.30" cy="241.70" r="2.35" fill="#000"/>
<line x1="295.30" y1="233.30" x2="295.30" y2="246.50" stroke="#000" stroke-width="0.7"/>
<line x1="290.30" y1="240.30" x2="300.30" y2="240.30" stroke="#000" stroke-width="0.7"/>
<line x1="293.05" y1="233.30" x2="297.55" y2="233.30" stroke="#000" stroke-width="0.7"/>
<line x1="293.05" y1="246.50" x2="297.55" y2="246.50" stroke="#000" stroke-width="0.7"/>
<circle cx="293.80" cy="233.80" r="2.35" fill="#000"/>
<circle cx="297.30" cy="231.60" r="2.35" fill="#000"/>
<circle cx="297.30" cy="245.90" r="2.35" fill="#000"/>
<circle cx="293.80" cy="249.80" r="2.35" fill="#000"/>
<line x1="306.80" y1="215.60" x2="306.80" y2="230.20" stroke="#000" stroke-width="0.7"/>
<line x1="301.80" y1="222.60" x2="311.80" y2="222.60" stroke="#000" stroke-width="0.7"/>
<line x1="304.55" y1="215.60" x2="309.05" y2="215.60" stroke="#000" stroke-width="0.7"/>
<line x1="304.55" y1="230.20" x2="309.05" y2="230.20" stroke="#000" stroke-width="0.7"/>
<circle cx="305.10" cy="216.00" r="2.35" fill="#000"/>
<circle cx="308.80" cy="215.00" r="2.35" fill="#000"/>
<circle cx="306.80" cy="224.60" r="2.35" fill="#000"/>
<circle cx="306.80" cy="234.40" r="2.35" fill="#000"/>
<line x1="317.80" y1="240.80" x2="317.80" y2="256.30" stroke="#000" stroke-width="0.7"/>
<line x1="312.80" y1="248.40" x2="322.80" y2="248.40" stroke="#000" stroke-width="0.7"/>
<line x1="315.55" y1="240.80" x2="320.05" y2="240.80" stroke="#000" stroke-width="0.7"/>
<line x1="315.55" y1="256.30" x2="320.05" y2="256.30" stroke="#000" stroke-width="0.7"/>
<circle cx="316.30" cy="241.70" r="2.35" fill="#000"/>
<circle cx="319.30" cy="244.50" r="2.35" fill="#000"/>
<circle cx="319.30" cy="245.60" r="2.35" fill="#000"/>
<circle cx="317.80" cy="261.90" r="2.35" fill="#000"/>
<text x="290.50" y="186.20" font-size="7.8" text-anchor="start" fill="#231f20"></text>
<text x="290.5" y="186.6" font-size="8.3" text-anchor="middle" textLength="53" lengthAdjust="spacingAndGlyphs" fill="#231f20">IL-33 (EGFP)<tspan font-size="5.5" dy="-3">+</tspan></text>
<text x="247.60" y="324.40" font-size="7.8" text-anchor="end" fill="#231f20">Irisin/</text>
<text x="247.80" y="333.40" font-size="7.8" text-anchor="end" fill="#231f20" textLength="46.3" lengthAdjust="spacingAndGlyphs">HSP90α (nM)</text>
<text transform="translate(223.7,255.6) rotate(-90)" font-size="8.2" text-anchor="middle" textLength="80.8" lengthAdjust="spacingAndGlyphs" fill="#231f20">No. of IL-33 (EGFP)<tspan font-size="5.8" dy="-3">+</tspan></text>
<text transform="translate(234,255.1) rotate(-90)" font-size="8.2" text-anchor="middle" textLength="45.2" lengthAdjust="spacingAndGlyphs" fill="#231f20">mSCs (×10<tspan font-size="5.8" dy="-3">3</tspan><tspan dy="3">)</tspan></text>
<line x1="370.70" y1="312.00" x2="370.70" y2="202.50" stroke="#4d4d4d" stroke-width="0.8"/>
<line x1="367.70" y1="311.60" x2="370.70" y2="311.60" stroke="#4d4d4d" stroke-width="0.8"/>
<text x="363.30" y="314.60" font-size="8.5" text-anchor="end" fill="#231f20">0</text>
<line x1="367.70" y1="290.00" x2="370.70" y2="290.00" stroke="#4d4d4d" stroke-width="0.8"/>
<text x="363.30" y="293.00" font-size="8.5" text-anchor="end" fill="#231f20">5</text>
<line x1="367.70" y1="268.10" x2="370.70" y2="268.10" stroke="#4d4d4d" stroke-width="0.8"/>
<text x="363.30" y="271.10" font-size="8.5" text-anchor="end" fill="#231f20">10</text>
<line x1="367.70" y1="246.50" x2="370.70" y2="246.50" stroke="#4d4d4d" stroke-width="0.8"/>
<text x="363.30" y="249.50" font-size="8.5" text-anchor="end" fill="#231f20">15</text>
<line x1="367.70" y1="224.60" x2="370.70" y2="224.60" stroke="#4d4d4d" stroke-width="0.8"/>
<text x="363.30" y="227.60" font-size="8.5" text-anchor="end" fill="#231f20">20</text>
<line x1="367.70" y1="202.90" x2="370.70" y2="202.90" stroke="#4d4d4d" stroke-width="0.8"/>
<text x="363.30" y="205.90" font-size="8.5" text-anchor="end" fill="#231f20">25</text>
<line x1="367.70" y1="311.60" x2="443.20" y2="311.60" stroke="#4d4d4d" stroke-width="0.8"/>
<line x1="378.30" y1="311.60" x2="378.30" y2="314.90" stroke="#4d4d4d" stroke-width="0.8"/>
<line x1="389.60" y1="311.60" x2="389.60" y2="314.90" stroke="#4d4d4d" stroke-width="0.8"/>
<line x1="401.00" y1="311.60" x2="401.00" y2="314.90" stroke="#4d4d4d" stroke-width="0.8"/>
<line x1="412.30" y1="311.60" x2="412.30" y2="314.90" stroke="#4d4d4d" stroke-width="0.8"/>
<line x1="423.50" y1="311.60" x2="423.50" y2="314.90" stroke="#4d4d4d" stroke-width="0.8"/>
<line x1="435.30" y1="311.60" x2="435.30" y2="314.90" stroke="#4d4d4d" stroke-width="0.8"/>
<text x="378.30" y="324.40" font-size="8.0" text-anchor="middle" fill="#231f20">0</text>
<text x="389.60" y="324.40" font-size="8.0" text-anchor="middle" fill="#231f20">1</text>
<text x="401.00" y="324.40" font-size="8.0" text-anchor="middle" fill="#231f20">2</text>
<text x="412.30" y="324.40" font-size="8.0" text-anchor="middle" fill="#231f20">5</text>
<text x="423.50" y="324.40" font-size="8.0" text-anchor="middle" fill="#231f20">10</text>
<text x="435.30" y="324.40" font-size="8.0" text-anchor="middle" fill="#231f20">20</text>
<line x1="378.30" y1="283.00" x2="378.30" y2="290.80" stroke="#000" stroke-width="0.7"/>
<line x1="373.30" y1="287.20" x2="383.30" y2="287.20" stroke="#000" stroke-width="0.7"/>
<line x1="376.05" y1="283.00" x2="380.55" y2="283.00" stroke="#000" stroke-width="0.7"/>
<line x1="376.05" y1="290.80" x2="380.55" y2="290.80" stroke="#000" stroke-width="0.7"/>
<circle cx="376.30" cy="283.50" r="2.35" fill="#000"/>
<circle cx="380.00" cy="282.40" r="2.35" fill="#000"/>
<circle cx="378.30" cy="287.80" r="2.35" fill="#000"/>
<circle cx="378.30" cy="294.80" r="2.35" fill="#000"/>
<line x1="389.60" y1="255.40" x2="389.60" y2="270.30" stroke="#000" stroke-width="0.7"/>
<line x1="384.60" y1="261.30" x2="394.60" y2="261.30" stroke="#000" stroke-width="0.7"/>
<line x1="387.35" y1="255.40" x2="391.85" y2="255.40" stroke="#000" stroke-width="0.7"/>
<line x1="387.35" y1="270.30" x2="391.85" y2="270.30" stroke="#000" stroke-width="0.7"/>
<circle cx="387.60" cy="256.90" r="2.35" fill="#000"/>
<circle cx="391.30" cy="253.50" r="2.35" fill="#000"/>
<circle cx="389.60" cy="263.90" r="2.35" fill="#000"/>
<circle cx="389.60" cy="272.60" r="2.35" fill="#000"/>
<line x1="401.00" y1="232.40" x2="401.00" y2="259.10" stroke="#000" stroke-width="0.7"/>
<line x1="396.00" y1="246.50" x2="406.00" y2="246.50" stroke="#000" stroke-width="0.7"/>
<line x1="398.75" y1="232.40" x2="403.25" y2="232.40" stroke="#000" stroke-width="0.7"/>
<line x1="398.75" y1="259.10" x2="403.25" y2="259.10" stroke="#000" stroke-width="0.7"/>
<circle cx="399.00" cy="237.20" r="2.35" fill="#000"/>
<circle cx="403.00" cy="234.70" r="2.35" fill="#000"/>
<circle cx="401.00" cy="251.50" r="2.35" fill="#000"/>
<circle cx="401.00" cy="261.00" r="2.35" fill="#000"/>
<line x1="412.30" y1="222.60" x2="412.30" y2="257.10" stroke="#000" stroke-width="0.7"/>
<line x1="407.30" y1="239.40" x2="417.30" y2="239.40" stroke="#000" stroke-width="0.7"/>
<line x1="410.05" y1="222.60" x2="414.55" y2="222.60" stroke="#000" stroke-width="0.7"/>
<line x1="410.05" y1="257.10" x2="414.55" y2="257.10" stroke="#000" stroke-width="0.7"/>
<circle cx="410.30" cy="226.80" r="2.35" fill="#000"/>
<circle cx="414.00" cy="223.40" r="2.35" fill="#000"/>
<circle cx="412.30" cy="244.50" r="2.35" fill="#000"/>
<circle cx="412.30" cy="262.50" r="2.35" fill="#000"/>
<line x1="423.50" y1="229.60" x2="423.50" y2="238.60" stroke="#000" stroke-width="0.7"/>
<line x1="418.50" y1="233.80" x2="428.50" y2="233.80" stroke="#000" stroke-width="0.7"/>
<line x1="421.25" y1="229.60" x2="425.75" y2="229.60" stroke="#000" stroke-width="0.7"/>
<line x1="421.25" y1="238.60" x2="425.75" y2="238.60" stroke="#000" stroke-width="0.7"/>
<circle cx="421.50" cy="228.20" r="2.35" fill="#000"/>
<circle cx="425.20" cy="224.80" r="2.35" fill="#000"/>
<circle cx="421.50" cy="242.80" r="2.35" fill="#000"/>
<circle cx="425.20" cy="240.30" r="2.35" fill="#000"/>
<line x1="435.30" y1="228.20" x2="435.30" y2="256.30" stroke="#000" stroke-width="0.7"/>
<line x1="430.30" y1="243.00" x2="440.30" y2="243.00" stroke="#000" stroke-width="0.7"/>
<line x1="433.05" y1="228.20" x2="437.55" y2="228.20" stroke="#000" stroke-width="0.7"/>
<line x1="433.05" y1="256.30" x2="437.55" y2="256.30" stroke="#000" stroke-width="0.7"/>
<circle cx="435.30" cy="224.80" r="2.35" fill="#000"/>
<circle cx="435.30" cy="236.00" r="2.35" fill="#000"/>
<circle cx="433.30" cy="255.70" r="2.35" fill="#000"/>
<circle cx="437.30" cy="255.70" r="2.35" fill="#000"/>
<text x="405.8" y="186.6" font-size="8.3" text-anchor="middle" textLength="51" lengthAdjust="spacingAndGlyphs" fill="#231f20">IL-33 (EGFP)<tspan font-size="5.5" dy="-3">−</tspan></text>
<text transform="translate(341.5,255.1) rotate(-90)" font-size="8.2" text-anchor="middle" textLength="81.8" lengthAdjust="spacingAndGlyphs" fill="#231f20">No. of IL-33 (EGFP)<tspan font-size="5.8" dy="-3">+</tspan></text>
<text transform="translate(351,254.6) rotate(-90)" font-size="8.2" text-anchor="middle" textLength="44.2" lengthAdjust="spacingAndGlyphs" fill="#231f20">mSCs (×10<tspan font-size="5.8" dy="-3">3</tspan><tspan dy="3">)</tspan></text>
<polyline points="379.30,216.40 379.30,213.40 414.40,213.40 414.40,216.40" fill="none" stroke="#555" stroke-width="0.6"/>
<polyline points="389.50,219.70 389.50,217.00 436.50,217.00 436.50,219.70" fill="none" stroke="#555" stroke-width="0.6"/>
<use href="#star" x="394.75" y="209.30"/>
<use href="#star" x="399.45" y="209.30"/>
<line x1="494.30" y1="311.50" x2="494.30" y2="202.50" stroke="#4d4d4d" stroke-width="0.8"/>
<line x1="491.30" y1="311.10" x2="494.30" y2="311.10" stroke="#4d4d4d" stroke-width="0.8"/>
<text x="486.90" y="314.10" font-size="8.5" text-anchor="end" fill="#231f20">0</text>
<line x1="491.30" y1="275.50" x2="494.30" y2="275.50" stroke="#4d4d4d" stroke-width="0.8"/>
<text x="486.90" y="278.50" font-size="8.5" text-anchor="end" fill="#231f20">1</text>
<line x1="491.30" y1="239.30" x2="494.30" y2="239.30" stroke="#4d4d4d" stroke-width="0.8"/>
<text x="486.90" y="242.30" font-size="8.5" text-anchor="end" fill="#231f20">2</text>
<line x1="491.30" y1="202.90" x2="494.30" y2="202.90" stroke="#4d4d4d" stroke-width="0.8"/>
<text x="486.90" y="205.90" font-size="8.5" text-anchor="end" fill="#231f20">4</text>
<line x1="491.30" y1="311.10" x2="566.80" y2="311.10" stroke="#4d4d4d" stroke-width="0.8"/>
<line x1="502.20" y1="311.10" x2="502.20" y2="314.40" stroke="#4d4d4d" stroke-width="0.8"/>
<line x1="512.80" y1="311.10" x2="512.80" y2="314.40" stroke="#4d4d4d" stroke-width="0.8"/>
<line x1="524.00" y1="311.10" x2="524.00" y2="314.40" stroke="#4d4d4d" stroke-width="0.8"/>
<line x1="535.90" y1="311.10" x2="535.90" y2="314.40" stroke="#4d4d4d" stroke-width="0.8"/>
<line x1="547.70" y1="311.10" x2="547.70" y2="314.40" stroke="#4d4d4d" stroke-width="0.8"/>
<line x1="559.00" y1="311.10" x2="559.00" y2="314.40" stroke="#4d4d4d" stroke-width="0.8"/>
<text x="502.20" y="324.40" font-size="8.0" text-anchor="middle" fill="#231f20">0</text>
<text x="512.80" y="324.40" font-size="8.0" text-anchor="middle" fill="#231f20">1</text>
<text x="524.00" y="324.40" font-size="8.0" text-anchor="middle" fill="#231f20">2</text>
<text x="535.90" y="324.40" font-size="8.0" text-anchor="middle" fill="#231f20">5</text>
<text x="547.70" y="324.40" font-size="8.0" text-anchor="middle" fill="#231f20">10</text>
<text x="559.00" y="324.40" font-size="8.0" text-anchor="middle" fill="#231f20">20</text>
<circle cx="500.70" cy="224.50" r="2.35" fill="#000"/>
<circle cx="503.70" cy="226.50" r="2.35" fill="#000"/>
<circle cx="501.20" cy="229.50" r="2.35" fill="#000"/>
<circle cx="502.70" cy="227.00" r="2.35" fill="#000"/>
<line x1="497.20" y1="226.88" x2="507.20" y2="226.88" stroke="#555" stroke-width="0.6"/>
<circle cx="512.80" cy="210.00" r="2.35" fill="#000"/>
<circle cx="514.30" cy="211.50" r="2.35" fill="#000"/>
<circle cx="511.80" cy="213.50" r="2.35" fill="#000"/>
<circle cx="513.30" cy="212.50" r="2.35" fill="#000"/>
<line x1="507.80" y1="211.88" x2="517.80" y2="211.88" stroke="#555" stroke-width="0.6"/>
<circle cx="524.00" cy="209.50" r="2.35" fill="#000"/>
<circle cx="525.80" cy="213.00" r="2.35" fill="#000"/>
<circle cx="526.20" cy="214.50" r="2.35" fill="#000"/>
<circle cx="523.50" cy="216.80" r="2.35" fill="#000"/>
<line x1="519.00" y1="213.45" x2="529.00" y2="213.45" stroke="#555" stroke-width="0.6"/>
<circle cx="535.90" cy="208.50" r="2.35" fill="#000"/>
<circle cx="537.90" cy="211.00" r="2.35" fill="#000"/>
<circle cx="535.40" cy="213.20" r="2.35" fill="#000"/>
<circle cx="536.40" cy="210.80" r="2.35" fill="#000"/>
<line x1="530.90" y1="210.88" x2="540.90" y2="210.88" stroke="#555" stroke-width="0.6"/>
<circle cx="547.70" cy="209.50" r="2.35" fill="#000"/>
<circle cx="549.50" cy="211.00" r="2.35" fill="#000"/>
<circle cx="546.90" cy="212.80" r="2.35" fill="#000"/>
<circle cx="548.20" cy="210.50" r="2.35" fill="#000"/>
<line x1="542.70" y1="210.95" x2="552.70" y2="210.95" stroke="#555" stroke-width="0.6"/>
<circle cx="558.00" cy="216.00" r="2.35" fill="#000"/>
<circle cx="560.50" cy="217.50" r="2.35" fill="#000"/>
<circle cx="558.00" cy="220.50" r="2.35" fill="#000"/>
<circle cx="559.50" cy="218.00" r="2.35" fill="#000"/>
<line x1="554.00" y1="218.00" x2="564.00" y2="218.00" stroke="#555" stroke-width="0.6"/>
<text x="531.7" y="186.6" font-size="8.3" text-anchor="middle" textLength="53" lengthAdjust="spacingAndGlyphs" fill="#231f20">IL-33 (EGFP)<tspan font-size="5.5" dy="-3">+</tspan></text>
<text transform="translate(475.5,254.6) rotate(-90)" font-size="8.2" text-anchor="middle" textLength="76.9" lengthAdjust="spacingAndGlyphs" fill="#231f20">MFI of IL-33 (×10<tspan font-size="5.8" dy="-3">4</tspan><tspan dy="3">)</tspan></text>
<polyline points="502.20,201.70 502.20,199.70 537.20,199.70 537.20,201.70" fill="none" stroke="#555" stroke-width="0.6"/>
<polyline points="512.40,205.30 512.40,202.30 559.60,202.30 559.60,205.30" fill="none" stroke="#555" stroke-width="0.6"/>
<use href="#star" x="515.20" y="194.60"/>
<use href="#star" x="519.90" y="194.60"/>
<use href="#star" x="524.60" y="194.60"/>
<line x1="611.40" y1="311.50" x2="611.40" y2="202.50" stroke="#4d4d4d" stroke-width="0.8"/>
<line x1="608.40" y1="311.10" x2="611.40" y2="311.10" stroke="#4d4d4d" stroke-width="0.8"/>
<text x="604.00" y="314.10" font-size="8.5" text-anchor="end" fill="#231f20">0</text>
<line x1="608.40" y1="275.50" x2="611.40" y2="275.50" stroke="#4d4d4d" stroke-width="0.8"/>
<text x="604.00" y="278.50" font-size="8.5" text-anchor="end" fill="#231f20">1</text>
<line x1="608.40" y1="239.30" x2="611.40" y2="239.30" stroke="#4d4d4d" stroke-width="0.8"/>
<text x="604.00" y="242.30" font-size="8.5" text-anchor="end" fill="#231f20">2</text>
<line x1="608.40" y1="202.90" x2="611.40" y2="202.90" stroke="#4d4d4d" stroke-width="0.8"/>
<text x="604.00" y="205.90" font-size="8.5" text-anchor="end" fill="#231f20">4</text>
<line x1="608.40" y1="311.10" x2="684.50" y2="311.10" stroke="#4d4d4d" stroke-width="0.8"/>
<line x1="619.20" y1="311.10" x2="619.20" y2="314.40" stroke="#4d4d4d" stroke-width="0.8"/>
<line x1="630.20" y1="311.10" x2="630.20" y2="314.40" stroke="#4d4d4d" stroke-width="0.8"/>
<line x1="641.40" y1="311.10" x2="641.40" y2="314.40" stroke="#4d4d4d" stroke-width="0.8"/>
<line x1="653.50" y1="311.10" x2="653.50" y2="314.40" stroke="#4d4d4d" stroke-width="0.8"/>
<line x1="664.80" y1="311.10" x2="664.80" y2="314.40" stroke="#4d4d4d" stroke-width="0.8"/>
<line x1="676.00" y1="311.10" x2="676.00" y2="314.40" stroke="#4d4d4d" stroke-width="0.8"/>
<text x="619.20" y="324.40" font-size="8.0" text-anchor="middle" fill="#231f20">0</text>
<text x="630.20" y="324.40" font-size="8.0" text-anchor="middle" fill="#231f20">1</text>
<text x="641.40" y="324.40" font-size="8.0" text-anchor="middle" fill="#231f20">2</text>
<text x="653.50" y="324.40" font-size="8.0" text-anchor="middle" fill="#231f20">5</text>
<text x="664.80" y="324.40" font-size="8.0" text-anchor="middle" fill="#231f20">10</text>
<text x="676.00" y="324.40" font-size="8.0" text-anchor="middle" fill="#231f20">20</text>
<circle cx="617.70" cy="270.20" r="2.35" fill="#000"/>
<circle cx="621.00" cy="270.20" r="2.35" fill="#000"/>
<circle cx="619.20" cy="275.60" r="2.35" fill="#000"/>
<circle cx="619.20" cy="272.00" r="2.35" fill="#000"/>
<line x1="614.20" y1="272.00" x2="624.20" y2="272.00" stroke="#555" stroke-width="0.6"/>
<circle cx="629.20" cy="257.00" r="2.35" fill="#000"/>
<circle cx="631.70" cy="258.00" r="2.35" fill="#000"/>
<circle cx="629.20" cy="260.80" r="2.35" fill="#000"/>
<circle cx="631.20" cy="259.50" r="2.35" fill="#000"/>
<line x1="625.20" y1="258.82" x2="635.20" y2="258.82" stroke="#555" stroke-width="0.6"/>
<circle cx="639.40" cy="252.70" r="2.35" fill="#000"/>
<circle cx="643.40" cy="249.30" r="2.35" fill="#000"/>
<circle cx="640.40" cy="256.30" r="2.35" fill="#000"/>
<circle cx="643.40" cy="256.30" r="2.35" fill="#000"/>
<line x1="636.40" y1="253.65" x2="646.40" y2="253.65" stroke="#555" stroke-width="0.6"/>
<circle cx="652.00" cy="249.30" r="2.35" fill="#000"/>
<circle cx="655.30" cy="248.80" r="2.35" fill="#000"/>
<circle cx="652.00" cy="252.70" r="2.35" fill="#000"/>
<circle cx="654.00" cy="250.50" r="2.35" fill="#000"/>
<line x1="648.50" y1="250.32" x2="658.50" y2="250.32" stroke="#555" stroke-width="0.6"/>
<circle cx="663.30" cy="250.70" r="2.35" fill="#000"/>
<circle cx="666.30" cy="250.70" r="2.35" fill="#000"/>
<circle cx="664.80" cy="252.10" r="2.35" fill="#000"/>
<circle cx="665.30" cy="251.00" r="2.35" fill="#000"/>
<line x1="659.80" y1="251.12" x2="669.80" y2="251.12" stroke="#555" stroke-width="0.6"/>
<circle cx="676.00" cy="246.50" r="2.35" fill="#000"/>
<circle cx="674.00" cy="251.60" r="2.35" fill="#000"/>
<circle cx="678.50" cy="251.60" r="2.35" fill="#000"/>
<circle cx="676.50" cy="250.00" r="2.35" fill="#000"/>
<line x1="671.00" y1="249.93" x2="681.00" y2="249.93" stroke="#555" stroke-width="0.6"/>
<text x="647.9" y="186.6" font-size="8.3" text-anchor="middle" textLength="51" lengthAdjust="spacingAndGlyphs" fill="#231f20">IL-33 (EGFP)<tspan font-size="5.5" dy="-3">−</tspan></text>
<text transform="translate(592.5,254.6) rotate(-90)" font-size="8.2" text-anchor="middle" textLength="76.9" lengthAdjust="spacingAndGlyphs" fill="#231f20">MFI of IL-33 (×10<tspan font-size="5.8" dy="-3">4</tspan><tspan dy="3">)</tspan></text>
<polyline points="619.20,235.50 619.20,233.20 654.10,233.20 654.10,235.50" fill="none" stroke="#555" stroke-width="0.6"/>
<polyline points="629.50,239.30 629.50,236.50 676.50,236.50 676.50,239.30" fill="none" stroke="#555" stroke-width="0.6"/>
<use href="#star" x="629.45" y="228.90"/>
<use href="#star" x="634.15" y="228.90"/>
<use href="#star" x="638.85" y="228.90"/>
<use href="#star" x="643.55" y="228.90"/>
<text x="-0.60" y="356.80" font-size="12.6" text-anchor="start" fill="#000" font-weight="bold">f</text>
<text x="46.70" y="365.60" font-size="8.7" text-anchor="start" fill="#231f20" font-style="italic" textLength="50.5" lengthAdjust="spacingAndGlyphs">Foxp3-Thy1.1</text>
<use href="#mouse" transform="translate(104.20,357.50) scale(1.0)"/>
<line x1="132.80" y1="364.30" x2="148.70" y2="364.30" stroke="#4a5773" stroke-width="0.9"/>
<polygon points="151.40,364.30 148.20,366.00 148.20,362.60" fill="#4a5773"/>
<circle cx="156.30" cy="361.50" r="1.2" fill="#978d22"/>
<circle cx="159.50" cy="363.90" r="1.2" fill="#978d22"/>
<circle cx="153.90" cy="364.60" r="1.2" fill="#978d22"/>
<circle cx="158.80" cy="368.00" r="1.2" fill="#978d22"/>
<circle cx="168.70" cy="361.50" r="1.2" fill="#978d22"/>
<circle cx="172.20" cy="363.60" r="1.2" fill="#978d22"/>
<circle cx="166.00" cy="364.50" r="1.2" fill="#978d22"/>
<circle cx="170.90" cy="367.60" r="1.2" fill="#978d22"/>
<text x="134.5" y="357.2" font-size="8.7" fill="#231f20">eWAT-T<tspan font-size="6.6" dy="2.2">reg</tspan><tspan dy="-2.2"> cells</tspan></text>
<polyline points="176.00,364.30 205.70,364.30 205.70,368.50" fill="none" stroke="#4a5773" stroke-width="0.9"/>
<polygon points="205.7,372.4 204,368.6 207.4,368.6" fill="#4a5773"/>
<use href="#mouse" transform="translate(23.60,401.00) scale(1.02)"/>
<line x1="52.10" y1="408.70" x2="74.30" y2="408.70" stroke="#4a5773" stroke-width="0.9"/>
<polygon points="77.00,408.70 73.80,410.40 73.80,407.00" fill="#4a5773"/>
<use href="#cell" transform="translate(88.60,399.90) rotate(-80) scale(0.95)"/>
<use href="#cell" transform="translate(84.30,409.70) rotate(-80) scale(0.95)"/>
<use href="#cell" transform="translate(94.70,404.70) rotate(-80) scale(0.95)"/>
<use href="#cell" transform="translate(89.90,415.00) rotate(-81) scale(0.95)"/>
<line x1="99.30" y1="408.70" x2="117.40" y2="408.70" stroke="#4a5773" stroke-width="0.9"/>
<polyline points="146.00,400.80 117.40,400.80 117.40,416.40 146.00,416.40" fill="none" stroke="#4a5773" stroke-width="0.9"/>
<text x="131.30" y="394.40" font-size="8.7" text-anchor="middle" fill="#231f20">PBS</text>
<use href="#dish" transform="translate(155.50,400.30) scale(1.07)"/>
<use href="#dish" transform="translate(155.50,416.80) scale(1.07)"/>
<line x1="163.50" y1="400.80" x2="194.80" y2="400.80" stroke="#4a5773" stroke-width="0.9"/>
<polygon points="197.50,400.80 194.30,402.50 194.30,399.10" fill="#4a5773"/>
<line x1="163.50" y1="416.40" x2="194.80" y2="416.40" stroke="#4a5773" stroke-width="0.9"/>
<polygon points="197.50,416.40 194.30,418.10 194.30,414.70" fill="#4a5773"/>
<use href="#dish" transform="translate(205.50,380.90) scale(1.07)"/>
<use href="#dish" transform="translate(205.50,399.50) scale(1.07)"/>
<use href="#dish" transform="translate(205.50,416.10) scale(1.07)"/>
<text x="179.00" y="392.60" font-size="8.7" text-anchor="middle" fill="#231f20">CM + IgG</text>
<text x="178.50" y="410.20" font-size="8.7" text-anchor="middle" fill="#231f20">3 days</text>
<polyline points="214.50,380.60 225.00,380.60 225.00,416.40 214.50,416.40" fill="none" stroke="#4a5773" stroke-width="0.9"/>
<line x1="225.00" y1="399.50" x2="250.30" y2="399.50" stroke="#4a5773" stroke-width="0.9"/>
<polygon points="253.00,399.50 249.80,401.20 249.80,397.80" fill="#4a5773"/>
<text x="239.80" y="396.50" font-size="8.7" text-anchor="middle" fill="#231f20">3 days</text>
<text x="257.80" y="400.60" font-size="8.7" text-anchor="start" fill="#231f20">Flow</text>
<text x="257.80" y="411.20" font-size="8.7" text-anchor="start" fill="#231f20">analysis</text>
<text x="37.60" y="433.80" font-size="8.7" text-anchor="middle" fill="#1c8c50" font-style="italic">Il33-</text>
<text x="37.60" y="444.80" font-size="8.7" text-anchor="middle" fill="#1c8c50" font-style="italic">Egfp</text>
<text x="59.6" y="433.8" font-size="8.7" textLength="52.5" lengthAdjust="spacingAndGlyphs" fill="#1c8c50">IL-33 (EGFP)<tspan font-size="5.8" dy="-3">−</tspan></text>
<text x="86.20" y="444.80" font-size="8.7" text-anchor="middle" fill="#1c8c50">mSCs</text>
<text x="133.40" y="433.80" font-size="8.7" text-anchor="middle" fill="#231f20">Irisin/</text>
<text x="132.60" y="444.80" font-size="8.7" text-anchor="middle" fill="#231f20">HSP90α</text>
<text x="183.40" y="433.80" font-size="8.7" text-anchor="middle" fill="#231f20">CM + anti-IL-33</text>
<text x="182.40" y="444.80" font-size="8.7" text-anchor="middle" fill="#231f20">or IgG</text>
<line x1="38.30" y1="573.10" x2="38.30" y2="465.40" stroke="#4d4d4d" stroke-width="0.8"/>
<line x1="35.30" y1="572.70" x2="38.30" y2="572.70" stroke="#4d4d4d" stroke-width="0.8"/>
<text x="30.90" y="575.70" font-size="8.5" text-anchor="end" fill="#231f20">0</text>
<line x1="35.30" y1="537.50" x2="38.30" y2="537.50" stroke="#4d4d4d" stroke-width="0.8"/>
<text x="30.90" y="540.50" font-size="8.5" text-anchor="end" fill="#231f20">10</text>
<line x1="35.30" y1="501.70" x2="38.30" y2="501.70" stroke="#4d4d4d" stroke-width="0.8"/>
<text x="30.90" y="504.70" font-size="8.5" text-anchor="end" fill="#231f20">20</text>
<line x1="35.30" y1="465.80" x2="38.30" y2="465.80" stroke="#4d4d4d" stroke-width="0.8"/>
<text x="30.90" y="468.80" font-size="8.5" text-anchor="end" fill="#231f20">30</text>
<line x1="35.30" y1="572.70" x2="114.50" y2="572.70" stroke="#4d4d4d" stroke-width="0.8"/>
<line x1="54.30" y1="572.70" x2="54.30" y2="576.00" stroke="#4d4d4d" stroke-width="0.8"/>
<line x1="77.00" y1="572.70" x2="77.00" y2="576.00" stroke="#4d4d4d" stroke-width="0.8"/>
<line x1="99.80" y1="572.70" x2="99.80" y2="576.00" stroke="#4d4d4d" stroke-width="0.8"/>
<text x="57.20" y="579.80" font-size="7.7" text-anchor="end" fill="#231f20" transform="rotate(-90 57.20 579.80)">PBS</text>
<text x="75.40" y="579.80" font-size="7.7" text-anchor="end" fill="#231f20" transform="rotate(-90 75.40 579.80)">Irisin</text>
<text x="84.00" y="579.80" font-size="7.7" text-anchor="end" fill="#231f20" transform="rotate(-90 84.00 579.80)">/HSP90α</text>
<text x="98.20" y="579.80" font-size="7.7" text-anchor="end" fill="#231f20" transform="rotate(-90 98.20 579.80)">Irisin</text>
<text x="106.80" y="579.80" font-size="7.7" text-anchor="end" fill="#231f20" transform="rotate(-90 106.80 579.80)">/HSP90α</text>
<line x1="54.30" y1="522.20" x2="54.30" y2="532.40" stroke="#000" stroke-width="0.7"/>
<line x1="48.80" y1="527.30" x2="59.80" y2="527.30" stroke="#000" stroke-width="0.7"/>
<line x1="51.80" y1="522.20" x2="56.80" y2="522.20" stroke="#000" stroke-width="0.7"/>
<line x1="51.80" y1="532.40" x2="56.80" y2="532.40" stroke="#000" stroke-width="0.7"/>
<circle cx="48.80" cy="521.90" r="2.45" fill="#000"/>
<circle cx="54.30" cy="522.80" r="2.45" fill="#000"/>
<circle cx="48.80" cy="526.20" r="2.45" fill="#000"/>
<circle cx="59.30" cy="527.90" r="2.45" fill="#000"/>
<circle cx="54.30" cy="529.60" r="2.45" fill="#000"/>
<circle cx="54.30" cy="535.70" r="2.45" fill="#000"/>
<line x1="77.00" y1="479.60" x2="77.00" y2="485.50" stroke="#ffa64d" stroke-width="0.7"/>
<line x1="71.50" y1="482.60" x2="82.50" y2="482.60" stroke="#ffa64d" stroke-width="0.7"/>
<line x1="74.50" y1="479.60" x2="79.50" y2="479.60" stroke="#ffa64d" stroke-width="0.7"/>
<line x1="74.50" y1="485.50" x2="79.50" y2="485.50" stroke="#ffa64d" stroke-width="0.7"/>
<circle cx="77.00" cy="475.80" r="2.45" fill="#ff7f00"/>
<circle cx="72.00" cy="482.60" r="2.45" fill="#ff7f00"/>
<circle cx="76.00" cy="483.40" r="2.45" fill="#ff7f00"/>
<circle cx="80.00" cy="483.40" r="2.45" fill="#ff7f00"/>
<circle cx="82.80" cy="484.60" r="2.45" fill="#ff7f00"/>
<line x1="99.80" y1="509.30" x2="99.80" y2="521.10" stroke="#4dd24d" stroke-width="0.7"/>
<line x1="94.30" y1="515.50" x2="105.30" y2="515.50" stroke="#4dd24d" stroke-width="0.7"/>
<line x1="97.30" y1="509.30" x2="102.30" y2="509.30" stroke="#4dd24d" stroke-width="0.7"/>
<line x1="97.30" y1="521.10" x2="102.30" y2="521.10" stroke="#4dd24d" stroke-width="0.7"/>
<circle cx="100.10" cy="505.70" r="2.45" fill="#00bd00"/>
<circle cx="94.70" cy="513.00" r="2.45" fill="#00bd00"/>
<circle cx="100.10" cy="515.50" r="2.45" fill="#00bd00"/>
<circle cx="105.50" cy="514.20" r="2.45" fill="#00bd00"/>
<circle cx="105.50" cy="519.10" r="2.45" fill="#00bd00"/>
<circle cx="94.70" cy="522.80" r="2.45" fill="#00bd00"/>
<text transform="translate(15.6,519.6) rotate(-90)" font-size="8.2" text-anchor="middle" textLength="75" lengthAdjust="spacingAndGlyphs" fill="#231f20">% ST2<tspan font-size="5.8" dy="-3">+</tspan><tspan dy="3"> of T</tspan><tspan font-size="5.8" dy="1.8">reg</tspan><tspan dy="-1.8"> cells</tspan></text>
<polyline points="54.00,459.00 54.00,456.40 99.60,456.40 99.60,459.00" fill="none" stroke="#555" stroke-width="0.6"/>
<use href="#star" x="78.25" y="451.80"/>
<use href="#star" x="82.95" y="451.80"/>
<polyline points="53.30,471.50 53.30,469.60 101.60,469.60 101.60,471.50" fill="none" stroke="#555" stroke-width="0.6"/>
<line x1="76.60" y1="469.60" x2="76.60" y2="471.50" stroke="#555" stroke-width="0.6"/>
<use href="#star" x="58.85" y="463.00"/>
<use href="#star" x="63.55" y="463.00"/>
<use href="#star" x="68.25" y="463.00"/>
<use href="#star" x="72.95" y="463.00"/>
<use href="#star" x="83.25" y="463.00"/>
<use href="#star" x="87.95" y="463.00"/>
<use href="#star" x="92.65" y="463.00"/>
<use href="#star" x="97.35" y="463.00"/>
<text x="77.00" y="620.50" font-size="6.9" text-anchor="middle" fill="#231f20" textLength="117.4" lengthAdjust="spacingAndGlyphs">CM + IgG CM + IgG CM + anti-IL-33</text>
<line x1="179.60" y1="571.90" x2="179.60" y2="464.60" stroke="#4d4d4d" stroke-width="0.8"/>
<line x1="176.60" y1="571.50" x2="179.60" y2="571.50" stroke="#4d4d4d" stroke-width="0.8"/>
<text x="172.20" y="574.50" font-size="8.5" text-anchor="end" fill="#231f20">0</text>
<line x1="176.60" y1="536.00" x2="179.60" y2="536.00" stroke="#4d4d4d" stroke-width="0.8"/>
<text x="172.20" y="539.00" font-size="8.5" text-anchor="end" fill="#231f20">1</text>
<line x1="176.60" y1="500.20" x2="179.60" y2="500.20" stroke="#4d4d4d" stroke-width="0.8"/>
<text x="172.20" y="503.20" font-size="8.5" text-anchor="end" fill="#231f20">2</text>
<line x1="176.60" y1="465.00" x2="179.60" y2="465.00" stroke="#4d4d4d" stroke-width="0.8"/>
<text x="172.20" y="468.00" font-size="8.5" text-anchor="end" fill="#231f20">3</text>
<line x1="176.60" y1="571.50" x2="256.90" y2="571.50" stroke="#4d4d4d" stroke-width="0.8"/>
<line x1="195.80" y1="571.50" x2="195.80" y2="574.80" stroke="#4d4d4d" stroke-width="0.8"/>
<line x1="218.70" y1="571.50" x2="218.70" y2="574.80" stroke="#4d4d4d" stroke-width="0.8"/>
<line x1="241.30" y1="571.50" x2="241.30" y2="574.80" stroke="#4d4d4d" stroke-width="0.8"/>
<text x="198.70" y="579.80" font-size="7.7" text-anchor="end" fill="#231f20" transform="rotate(-90 198.70 579.80)">PBS</text>
<text x="217.10" y="579.80" font-size="7.7" text-anchor="end" fill="#231f20" transform="rotate(-90 217.10 579.80)">Irisin</text>
<text x="225.70" y="579.80" font-size="7.7" text-anchor="end" fill="#231f20" transform="rotate(-90 225.70 579.80)">/HSP90α</text>
<text x="239.70" y="579.80" font-size="7.7" text-anchor="end" fill="#231f20" transform="rotate(-90 239.70 579.80)">Irisin</text>
<text x="248.30" y="579.80" font-size="7.7" text-anchor="end" fill="#231f20" transform="rotate(-90 248.30 579.80)">/HSP90α</text>
<line x1="195.80" y1="532.00" x2="195.80" y2="540.00" stroke="#000" stroke-width="0.7"/>
<line x1="190.30" y1="536.20" x2="201.30" y2="536.20" stroke="#000" stroke-width="0.7"/>
<line x1="193.30" y1="532.00" x2="198.30" y2="532.00" stroke="#000" stroke-width="0.7"/>
<line x1="193.30" y1="540.00" x2="198.30" y2="540.00" stroke="#000" stroke-width="0.7"/>
<circle cx="193.10" cy="530.60" r="2.45" fill="#000"/>
<circle cx="198.50" cy="530.30" r="2.45" fill="#000"/>
<circle cx="190.40" cy="535.40" r="2.45" fill="#000"/>
<circle cx="195.90" cy="539.30" r="2.45" fill="#000"/>
<circle cx="201.30" cy="539.30" r="2.45" fill="#000"/>
<circle cx="190.40" cy="541.50" r="2.45" fill="#000"/>
<line x1="218.70" y1="489.00" x2="218.70" y2="494.50" stroke="#ffa64d" stroke-width="0.7"/>
<line x1="213.20" y1="491.90" x2="224.20" y2="491.90" stroke="#ffa64d" stroke-width="0.7"/>
<line x1="216.20" y1="489.00" x2="221.20" y2="489.00" stroke="#ffa64d" stroke-width="0.7"/>
<line x1="216.20" y1="494.50" x2="221.20" y2="494.50" stroke="#ffa64d" stroke-width="0.7"/>
<circle cx="213.70" cy="487.10" r="2.45" fill="#ff7f00"/>
<circle cx="218.90" cy="486.50" r="2.45" fill="#ff7f00"/>
<circle cx="224.30" cy="489.90" r="2.45" fill="#ff7f00"/>
<circle cx="218.90" cy="493.90" r="2.45" fill="#ff7f00"/>
<circle cx="213.70" cy="497.50" r="2.45" fill="#ff7f00"/>
<circle cx="224.30" cy="495.80" r="2.45" fill="#ff7f00"/>
<line x1="241.30" y1="515.20" x2="241.30" y2="532.50" stroke="#4dd24d" stroke-width="0.7"/>
<line x1="235.80" y1="524.40" x2="246.80" y2="524.40" stroke="#4dd24d" stroke-width="0.7"/>
<line x1="238.80" y1="515.20" x2="243.80" y2="515.20" stroke="#4dd24d" stroke-width="0.7"/>
<line x1="238.80" y1="532.50" x2="243.80" y2="532.50" stroke="#4dd24d" stroke-width="0.7"/>
<circle cx="241.70" cy="511.90" r="2.45" fill="#00bd00"/>
<circle cx="236.30" cy="519.70" r="2.45" fill="#00bd00"/>
<circle cx="247.00" cy="519.20" r="2.45" fill="#00bd00"/>
<circle cx="236.30" cy="528.70" r="2.45" fill="#00bd00"/>
<circle cx="236.30" cy="533.20" r="2.45" fill="#00bd00"/>
<circle cx="247.00" cy="532.60" r="2.45" fill="#00bd00"/>
<text transform="translate(153.6,517) rotate(-90)" font-size="8.2" text-anchor="middle" textLength="105" lengthAdjust="spacingAndGlyphs" fill="#231f20">No. of ST2<tspan font-size="5.8" dy="-3">+</tspan><tspan dy="3"> T</tspan><tspan font-size="5.8" dy="1.8">reg</tspan><tspan dy="-1.8"> cells (×10</tspan><tspan font-size="5.8" dy="-3">3</tspan><tspan dy="3">)</tspan></text>
<text transform="translate(162.6,518.2) rotate(-90)" font-size="8.2" text-anchor="middle" textLength="79.5" lengthAdjust="spacingAndGlyphs" fill="#231f20">(relative to PBS IgG)</text>
<polyline points="196.20,463.20 196.20,460.40 242.20,460.40 242.20,463.20" fill="none" stroke="#555" stroke-width="0.6"/>
<use href="#star" x="220.50" y="454.30"/>
<polyline points="195.20,478.20 195.20,475.80 243.30,475.80 243.30,478.20" fill="none" stroke="#555" stroke-width="0.6"/>
<line x1="219.20" y1="475.80" x2="219.20" y2="478.20" stroke="#555" stroke-width="0.6"/>
<use href="#star" x="201.25" y="469.20"/>
<use href="#star" x="205.95" y="469.20"/>
<use href="#star" x="210.65" y="469.20"/>
<use href="#star" x="215.35" y="469.20"/>
<use href="#star" x="226.25" y="469.20"/>
<use href="#star" x="230.95" y="469.20"/>
<use href="#star" x="235.65" y="469.20"/>
<use href="#star" x="240.35" y="469.20"/>
<text x="219.00" y="620.50" font-size="6.9" text-anchor="middle" fill="#231f20" textLength="116.8" lengthAdjust="spacingAndGlyphs">CM + IgG CM + IgG CM + anti-IL-33</text>
<rect x="379.40" y="394.1" width="148.90" height="146.70" fill="none" stroke="#9a9a9a" stroke-width="0.7"/>
<line x1="379.40" y1="394.10" x2="528.30" y2="394.10" stroke="#b0b0b0" stroke-width="1.3"/>
<line x1="379.40" y1="540.80" x2="528.30" y2="540.80" stroke="#333" stroke-width="0.8"/>
<line x1="379.40" y1="394.10" x2="379.40" y2="540.80" stroke="#333" stroke-width="0.8"/>
<line x1="379.79" y1="540.80" x2="379.79" y2="542.40" stroke="#333" stroke-width="0.6"/>
<line x1="390.42" y1="540.80" x2="390.42" y2="542.40" stroke="#333" stroke-width="0.6"/>
<line x1="401.05" y1="540.80" x2="401.05" y2="542.40" stroke="#333" stroke-width="0.6"/>
<line x1="411.68" y1="540.80" x2="411.68" y2="542.40" stroke="#333" stroke-width="0.6"/>
<line x1="422.31" y1="540.80" x2="422.31" y2="542.40" stroke="#333" stroke-width="0.6"/>
<line x1="432.94" y1="540.80" x2="432.94" y2="542.40" stroke="#333" stroke-width="0.6"/>
<line x1="443.57" y1="540.80" x2="443.57" y2="542.40" stroke="#333" stroke-width="0.6"/>
<line x1="454.20" y1="540.80" x2="454.20" y2="542.40" stroke="#333" stroke-width="0.6"/>
<line x1="464.83" y1="540.80" x2="464.83" y2="542.40" stroke="#333" stroke-width="0.6"/>
<line x1="475.46" y1="540.80" x2="475.46" y2="542.40" stroke="#333" stroke-width="0.6"/>
<line x1="486.09" y1="540.80" x2="486.09" y2="542.40" stroke="#333" stroke-width="0.6"/>
<line x1="496.72" y1="540.80" x2="496.72" y2="542.40" stroke="#333" stroke-width="0.6"/>
<line x1="507.35" y1="540.80" x2="507.35" y2="542.40" stroke="#333" stroke-width="0.6"/>
<line x1="517.98" y1="540.80" x2="517.98" y2="542.40" stroke="#333" stroke-width="0.6"/>
<line x1="376.80" y1="400.30" x2="379.40" y2="400.30" stroke="#333" stroke-width="0.6"/>
<line x1="378.50" y1="406.10" x2="379.40" y2="406.10" stroke="#333" stroke-width="0.35"/>
<line x1="378.50" y1="409.49" x2="379.40" y2="409.49" stroke="#333" stroke-width="0.35"/>
<line x1="378.50" y1="411.90" x2="379.40" y2="411.90" stroke="#333" stroke-width="0.35"/>
<line x1="378.50" y1="413.77" x2="379.40" y2="413.77" stroke="#333" stroke-width="0.35"/>
<line x1="378.50" y1="415.29" x2="379.40" y2="415.29" stroke="#333" stroke-width="0.35"/>
<line x1="378.50" y1="416.59" x2="379.40" y2="416.59" stroke="#333" stroke-width="0.35"/>
<line x1="378.50" y1="417.70" x2="379.40" y2="417.70" stroke="#333" stroke-width="0.35"/>
<line x1="378.50" y1="418.69" x2="379.40" y2="418.69" stroke="#333" stroke-width="0.35"/>
<line x1="377.80" y1="419.57" x2="379.40" y2="419.57" stroke="#333" stroke-width="0.6"/>
<line x1="378.50" y1="425.37" x2="379.40" y2="425.37" stroke="#333" stroke-width="0.35"/>
<line x1="378.50" y1="428.76" x2="379.40" y2="428.76" stroke="#333" stroke-width="0.35"/>
<line x1="378.50" y1="431.17" x2="379.40" y2="431.17" stroke="#333" stroke-width="0.35"/>
<line x1="378.50" y1="433.04" x2="379.40" y2="433.04" stroke="#333" stroke-width="0.35"/>
<line x1="378.50" y1="434.56" x2="379.40" y2="434.56" stroke="#333" stroke-width="0.35"/>
<line x1="378.50" y1="435.86" x2="379.40" y2="435.86" stroke="#333" stroke-width="0.35"/>
<line x1="378.50" y1="436.97" x2="379.40" y2="436.97" stroke="#333" stroke-width="0.35"/>
<line x1="378.50" y1="437.96" x2="379.40" y2="437.96" stroke="#333" stroke-width="0.35"/>
<line x1="377.80" y1="438.84" x2="379.40" y2="438.84" stroke="#333" stroke-width="0.6"/>
<line x1="378.50" y1="444.64" x2="379.40" y2="444.64" stroke="#333" stroke-width="0.35"/>
<line x1="378.50" y1="448.03" x2="379.40" y2="448.03" stroke="#333" stroke-width="0.35"/>
<line x1="378.50" y1="450.44" x2="379.40" y2="450.44" stroke="#333" stroke-width="0.35"/>
<line x1="378.50" y1="452.31" x2="379.40" y2="452.31" stroke="#333" stroke-width="0.35"/>
<line x1="378.50" y1="453.83" x2="379.40" y2="453.83" stroke="#333" stroke-width="0.35"/>
<line x1="378.50" y1="455.13" x2="379.40" y2="455.13" stroke="#333" stroke-width="0.35"/>
<line x1="378.50" y1="456.24" x2="379.40" y2="456.24" stroke="#333" stroke-width="0.35"/>
<line x1="378.50" y1="457.23" x2="379.40" y2="457.23" stroke="#333" stroke-width="0.35"/>
<line x1="376.80" y1="458.11" x2="379.40" y2="458.11" stroke="#333" stroke-width="0.6"/>
<line x1="378.50" y1="463.91" x2="379.40" y2="463.91" stroke="#333" stroke-width="0.35"/>
<line x1="378.50" y1="467.30" x2="379.40" y2="467.30" stroke="#333" stroke-width="0.35"/>
<line x1="378.50" y1="469.71" x2="379.40" y2="469.71" stroke="#333" stroke-width="0.35"/>
<line x1="378.50" y1="471.58" x2="379.40" y2="471.58" stroke="#333" stroke-width="0.35"/>
<line x1="378.50" y1="473.10" x2="379.40" y2="473.10" stroke="#333" stroke-width="0.35"/>
<line x1="378.50" y1="474.40" x2="379.40" y2="474.40" stroke="#333" stroke-width="0.35"/>
<line x1="378.50" y1="475.51" x2="379.40" y2="475.51" stroke="#333" stroke-width="0.35"/>
<line x1="378.50" y1="476.50" x2="379.40" y2="476.50" stroke="#333" stroke-width="0.35"/>
<line x1="377.80" y1="477.38" x2="379.40" y2="477.38" stroke="#333" stroke-width="0.6"/>
<line x1="378.50" y1="483.18" x2="379.40" y2="483.18" stroke="#333" stroke-width="0.35"/>
<line x1="378.50" y1="486.57" x2="379.40" y2="486.57" stroke="#333" stroke-width="0.35"/>
<line x1="378.50" y1="488.98" x2="379.40" y2="488.98" stroke="#333" stroke-width="0.35"/>
<line x1="378.50" y1="490.85" x2="379.40" y2="490.85" stroke="#333" stroke-width="0.35"/>
<line x1="378.50" y1="492.37" x2="379.40" y2="492.37" stroke="#333" stroke-width="0.35"/>
<line x1="378.50" y1="493.67" x2="379.40" y2="493.67" stroke="#333" stroke-width="0.35"/>
<line x1="378.50" y1="494.78" x2="379.40" y2="494.78" stroke="#333" stroke-width="0.35"/>
<line x1="378.50" y1="495.77" x2="379.40" y2="495.77" stroke="#333" stroke-width="0.35"/>
<line x1="377.80" y1="496.65" x2="379.40" y2="496.65" stroke="#333" stroke-width="0.6"/>
<line x1="378.50" y1="502.45" x2="379.40" y2="502.45" stroke="#333" stroke-width="0.35"/>
<line x1="378.50" y1="505.84" x2="379.40" y2="505.84" stroke="#333" stroke-width="0.35"/>
<line x1="378.50" y1="508.25" x2="379.40" y2="508.25" stroke="#333" stroke-width="0.35"/>
<line x1="378.50" y1="510.12" x2="379.40" y2="510.12" stroke="#333" stroke-width="0.35"/>
<line x1="378.50" y1="511.64" x2="379.40" y2="511.64" stroke="#333" stroke-width="0.35"/>
<line x1="378.50" y1="512.94" x2="379.40" y2="512.94" stroke="#333" stroke-width="0.35"/>
<line x1="378.50" y1="514.05" x2="379.40" y2="514.05" stroke="#333" stroke-width="0.35"/>
<line x1="378.50" y1="515.04" x2="379.40" y2="515.04" stroke="#333" stroke-width="0.35"/>
<line x1="376.80" y1="515.92" x2="379.40" y2="515.92" stroke="#333" stroke-width="0.6"/>
<line x1="378.50" y1="521.72" x2="379.40" y2="521.72" stroke="#333" stroke-width="0.35"/>
<line x1="378.50" y1="525.11" x2="379.40" y2="525.11" stroke="#333" stroke-width="0.35"/>
<line x1="378.50" y1="527.52" x2="379.40" y2="527.52" stroke="#333" stroke-width="0.35"/>
<line x1="378.50" y1="529.39" x2="379.40" y2="529.39" stroke="#333" stroke-width="0.35"/>
<line x1="378.50" y1="530.91" x2="379.40" y2="530.91" stroke="#333" stroke-width="0.35"/>
<line x1="378.50" y1="532.21" x2="379.40" y2="532.21" stroke="#333" stroke-width="0.35"/>
<line x1="378.50" y1="533.32" x2="379.40" y2="533.32" stroke="#333" stroke-width="0.35"/>
<line x1="378.50" y1="534.31" x2="379.40" y2="534.31" stroke="#333" stroke-width="0.35"/>
<line x1="377.80" y1="535.19" x2="379.40" y2="535.19" stroke="#333" stroke-width="0.6"/>
<path fill="#000" d="M453.2,398.3 L456.5,399.6 L459.5,401.8 L462.0,404.5 L464.0,407.5 L466.0,411.5 L468.5,415.5 L471.5,419.5 L474.0,423.5 L472.0,427.0 L470.0,431.0 L469.0,437.0 L469.0,445.0 L470.0,455.0 L471.0,465.0 L471.0,474.0 L468.5,482.0 L465.5,487.0 L461.0,488.0 L458.0,483.0 L456.0,474.0 L454.5,465.0 L453.2,456.0 L451.7,465.0 L450.2,474.0 L448.5,482.0 L446.0,486.0 L442.0,487.0 L439.5,482.0 L438.5,474.0 L438.0,465.0 L437.5,455.0 L437.5,445.0 L437.5,436.0 L436.5,430.0 L434.5,426.0 L435.5,422.0 L437.5,417.0 L439.5,412.0 L441.5,408.0 L444.0,404.5 L447.0,401.6 L450.0,399.6 Z"/>
<path stroke="#000" stroke-width="3.2" stroke-linecap="round" d="M454.0 445.2h0M454.8 413.2h0M459.8 404.5h0M466.4 469.9h0M453.6 399.1h0M446.8 413.8h0M464.2 452.0h0M453.0 471.1h0M441.9 477.4h0M473.4 513.7h0M467.7 415.7h0M445.4 405.4h0M456.1 412.5h0M461.3 413.8h0M446.8 416.1h0M443.9 428.8h0M455.7 404.5h0M444.7 462.8h0M448.9 463.1h0M457.1 400.6h0M438.0 462.2h0M472.6 423.3h0M452.7 399.2h0M449.8 402.1h0M464.5 475.1h0M467.7 435.8h0M475.2 442.1h0M452.4 414.6h0M439.8 460.4h0M453.0 411.7h0M451.8 416.2h0M455.8 400.1h0M463.6 477.5h0M442.2 418.6h0M465.2 430.7h0M455.2 399.9h0M439.5 457.4h0M461.1 450.0h0M453.7 422.1h0M441.0 446.6h0M461.1 417.6h0M461.0 431.8h0M443.8 420.0h0M445.6 441.6h0M463.2 418.1h0M437.6 480.0h0M452.0 407.6h0M452.4 399.3h0M430.5 474.3h0M458.8 451.5h0M445.8 413.2h0M459.3 402.3h0M448.6 451.5h0M454.1 399.0h0M453.1 412.9h0M435.4 437.8h0M466.8 467.9h0M454.0 399.6h0M451.2 420.7h0M450.7 414.3h0M470.1 420.1h0M455.4 403.4h0M457.4 401.0h0M455.2 439.7h0M442.1 433.0h0M450.6 400.9h0M459.8 403.2h0M433.9 444.0h0M453.0 471.9h0M436.0 481.1h0M441.5 432.3h0M450.1 400.6h0M461.2 440.2h0M452.9 433.9h0M448.3 403.2h0M478.7 465.8h0M457.0 428.4h0M461.6 405.1h0M455.1 403.9h0M449.6 403.4h0M450.8 403.8h0M438.8 475.5h0M466.9 432.1h0M458.8 406.8h0M472.8 441.8h0M446.5 433.0h0M444.8 502.2h0M457.0 451.6h0M454.4 402.4h0M447.0 404.0h0M460.3 409.3h0M444.8 419.5h0M452.2 415.2h0M457.4 406.6h0M441.9 412.7h0M489.1 460.5h0M447.7 406.1h0M462.5 418.4h0M444.1 417.2h0M461.5 412.0h0M434.1 447.4h0M455.2 453.1h0M453.4 398.9h0M445.3 410.5h0M469.2 421.0h0M453.9 398.5h0M479.2 439.2h0M445.3 426.8h0M452.9 426.1h0M464.7 432.3h0M470.0 494.7h0M466.1 434.4h0M451.3 457.9h0M438.0 464.8h0M438.6 454.7h0M463.7 436.2h0M461.6 414.7h0M471.7 429.1h0M444.4 409.0h0M465.3 495.8h0M443.1 417.5h0M454.2 440.4h0M449.9 429.1h0M452.9 399.3h0M430.3 466.3h0M457.7 419.4h0M463.8 408.5h0M459.5 457.5h0M472.3 424.2h0M421.2 455.8h0M457.5 421.5h0M447.5 445.8h0M448.6 402.9h0M446.1 449.9h0M459.6 475.6h0M449.5 426.2h0M446.3 425.4h0M459.1 432.0h0M455.9 400.1h0M458.6 415.0h0M449.6 403.6h0M460.6 418.4h0M455.3 442.1h0M454.4 401.0h0M466.3 420.1h0M465.8 423.8h0M456.7 423.1h0M470.2 444.7h0M466.1 456.8h0M452.8 418.4h0M444.5 412.7h0M448.9 449.1h0M466.6 421.4h0M458.0 465.5h0M447.6 411.9h0M452.6 402.2h0M470.0 416.4h0M453.1 409.3h0M451.5 400.6h0M451.6 409.0h0M427.2 440.1h0M446.3 417.8h0M449.7 416.3h0M453.6 416.2h0M456.7 403.1h0M465.5 410.2h0M452.8 399.4h0M460.4 403.9h0M460.2 486.2h0M438.4 436.4h0M456.7 409.9h0M450.8 426.9h0M459.2 408.5h0M472.1 479.9h0M447.7 415.2h0M447.7 417.4h0M439.6 416.4h0M459.5 418.3h0M446.8 440.5h0M444.0 435.2h0M440.1 423.2h0M440.4 418.9h0M453.0 399.6h0M452.6 402.3h0M459.6 449.0h0M441.8 428.4h0M461.5 421.3h0M448.5 438.5h0M439.7 450.5h0M460.9 417.7h0M453.5 398.5h0M454.7 418.8h0M464.1 455.8h0M434.0 454.0h0M438.0 428.3h0M444.4 407.6h0M458.4 405.5h0M451.0 401.6h0M463.0 420.2h0M433.7 472.1h0M461.6 439.5h0M425.2 478.1h0M450.5 407.1h0M452.9 455.1h0M449.9 423.7h0M446.1 409.5h0M450.4 407.1h0M443.4 422.6h0M440.6 433.1h0M458.8 402.4h0M449.0 403.5h0M467.1 470.4h0M441.1 412.3h0M444.9 407.0h0M453.6 398.9h0M466.1 437.4h0M451.0 417.6h0M443.7 467.8h0M467.3 429.4h0M443.2 412.5h0M450.6 431.2h0M446.5 449.9h0M457.6 409.7h0M458.4 450.2h0M449.8 471.5h0M458.3 417.9h0M459.6 442.9h0M458.5 402.5h0M466.4 420.1h0M460.8 423.2h0M451.2 412.9h0M450.8 471.9h0M444.5 430.0h0M459.1 423.1h0M443.8 412.8h0M428.5 445.3h0M446.4 481.4h0M465.5 430.8h0M470.2 424.0h0M452.7 402.4h0M472.0 475.6h0M452.0 420.2h0M451.7 404.4h0M453.4 467.1h0M453.3 402.6h0M450.4 415.7h0M468.2 436.5h0M458.4 411.5h0M481.4 480.6h0M456.3 431.3h0M460.3 406.3h0M444.8 408.0h0M467.2 424.8h0M457.3 443.5h0M455.5 514.5h0M462.4 410.2h0M451.3 399.9h0M452.7 401.1h0M453.9 428.7h0M465.7 425.4h0M450.2 433.3h0M450.4 432.2h0M456.9 401.3h0M457.6 453.2h0M441.3 417.1h0M453.7 427.1h0M457.3 483.2h0M481.9 437.9h0M444.4 462.4h0M463.1 463.9h0M449.3 401.6h0M466.9 422.2h0M456.6 401.9h0M465.0 483.7h0M451.0 434.5h0M450.3 406.9h0M448.4 403.0h0M460.9 471.6h0M462.6 407.4h0M453.1 400.1h0M459.2 405.8h0M450.3 411.2h0M445.5 452.1h0M464.4 480.5h0M457.9 402.4h0M452.6 444.0h0M458.9 458.4h0M444.7 416.6h0M453.6 399.4h0M443.3 424.7h0M437.7 447.7h0M463.8 410.8h0M439.3 486.9h0M453.2 418.2h0M442.5 458.2h0M455.6 405.5h0M455.8 402.2h0M455.2 413.2h0M452.7 439.2h0M451.1 400.1h0M453.0 398.5h0M446.3 429.5h0M444.5 412.3h0M473.0 446.9h0M460.3 418.7h0M446.6 413.2h0M466.3 428.8h0M462.1 489.0h0M441.7 434.7h0M453.5 399.1h0M459.1 402.5h0M443.6 414.0h0M445.1 443.7h0M472.9 422.5h0M450.0 413.2h0M439.3 426.3h0M457.0 453.0h0M449.5 403.8h0M450.4 485.1h0M445.6 411.1h0M432.2 445.2h0M444.7 465.2h0M440.4 465.9h0M451.2 454.8h0M460.5 411.9h0M457.7 430.9h0M453.5 398.5h0M465.7 459.2h0M454.1 404.5h0M466.3 418.3h0M470.2 420.5h0M452.2 448.3h0M445.8 414.4h0M455.9 402.4h0M460.1 413.3h0M445.3 448.6h0M452.0 399.6h0M460.0 417.7h0M458.7 475.5h0M441.8 422.5h0M445.2 486.7h0M453.0 452.5h0M447.6 402.9h0M447.9 438.9h0M450.6 403.0h0M455.5 401.1h0M453.3 401.7h0M452.3 403.1h0M459.6 447.9h0M466.9 416.9h0M466.1 420.8h0M444.8 443.1h0M441.4 443.7h0M463.9 417.4h0M453.2 399.2h0M459.3 421.0h0M464.9 482.8h0M457.5 422.6h0M452.8 491.3h0M468.6 431.5h0M463.5 425.5h0M456.4 432.2h0M463.1 434.1h0M443.1 419.9h0M459.2 404.1h0M454.4 421.5h0M455.2 399.9h0M461.1 415.9h0M474.8 429.7h0M440.8 446.3h0M451.2 430.2h0M450.3 411.9h0M450.1 417.5h0M458.0 402.3h0M421.4 460.4h0M454.3 399.5h0M461.7 422.4h0M452.8 428.0h0M443.1 457.5h0M447.3 419.9h0M452.9 399.2h0M454.3 445.7h0M446.9 438.7h0M455.5 445.6h0M452.6 399.5h0M465.4 413.9h0M446.7 443.9h0M472.1 426.6h0M452.5 399.1h0M462.1 461.6h0M452.9 416.5h0M458.7 429.7h0M452.5 399.3h0M440.8 416.2h0M457.0 405.4h0M447.0 409.0h0M458.3 413.2h0M472.8 435.1h0M446.7 413.4h0M467.8 472.1h0M457.3 478.7h0M445.3 448.6h0M444.4 433.7h0M433.6 458.0h0M451.5 400.2h0M476.7 484.9h0M430.1 434.9h0M450.6 400.5h0M442.9 413.8h0M444.6 454.2h0M455.4 458.4h0M449.5 414.1h0M466.1 435.2h0M445.6 423.7h0M451.3 413.3h0M451.9 409.3h0M460.8 408.1h0M465.1 433.0h0M453.3 398.5h0M442.3 439.7h0M466.4 426.9h0M461.1 413.1h0M449.9 498.6h0M451.5 400.0h0M447.3 493.9h0M453.4 398.9h0M456.2 462.9h0M449.4 402.0h0M452.6 424.4h0M446.4 447.5h0M445.3 409.9h0M459.1 415.6h0M437.9 427.5h0M445.4 406.9h0M446.8 432.9h0M449.0 434.1h0M443.7 469.0h0M448.1 420.1h0M432.0 434.5h0M464.8 420.5h0M448.0 414.9h0M464.4 423.0h0M443.1 413.9h0M467.1 489.3h0M460.0 443.7h0M453.0 400.3h0M446.3 405.1h0M451.5 426.6h0M453.6 398.5h0M454.9 438.7h0M446.8 405.9h0M460.3 453.8h0M461.6 412.6h0M440.1 431.5h0M451.4 444.1h0M457.9 428.5h0M452.5 401.0h0M450.8 400.2h0M448.0 427.4h0M456.4 408.6h0M435.2 435.0h0M454.3 399.1h0M482.7 479.6h0M449.0 413.6h0M482.0 462.0h0M463.4 419.5h0M439.9 417.6h0M456.5 438.6h0M437.8 458.0h0M440.8 434.5h0M445.2 425.1h0M453.4 400.0h0M468.1 430.5h0M460.1 453.9h0M470.0 448.2h0M461.9 422.5h0M449.8 429.3h0M446.0 417.7h0M465.4 468.5h0M453.6 518.8h0M448.8 404.6h0M455.8 422.3h0M461.6 428.2h0M456.5 402.2h0M462.1 433.3h0M461.2 473.6h0M453.4 398.6h0M445.3 417.5h0M455.0 399.5h0M453.1 398.9h0M472.2 439.9h0M451.8 402.5h0M449.6 401.8h0M456.0 410.6h0M443.9 421.0h0M455.6 404.5h0M463.1 405.3h0M460.1 478.7h0M454.6 399.9h0M459.0 406.8h0M468.6 428.8h0M455.2 438.8h0M471.8 424.0h0M447.8 486.3h0M454.0 398.5h0M442.3 411.1h0M445.1 418.2h0M453.5 399.9h0M461.2 494.3h0M454.1 400.0h0M455.6 401.4h0M451.1 402.6h0M449.3 502.1h0M437.9 431.9h0M469.1 464.8h0M451.1 419.3h0M453.6 398.6h0M444.6 417.2h0M457.0 423.4h0M450.2 475.4h0M459.1 404.0h0M445.5 408.6h0M449.6 408.6h0M456.6 401.8h0M452.7 403.7h0M447.3 458.6h0M452.8 403.6h0M435.2 461.5h0M445.2 415.4h0M455.2 399.9h0M466.2 424.3h0M460.6 420.8h0M440.5 419.1h0M460.5 409.1h0M448.3 428.2h0M434.5 479.1h0M468.6 456.4h0M433.6 456.4h0M457.9 424.7h0M449.4 404.1h0M445.0 415.1h0M465.8 462.7h0M438.4 464.3h0M475.4 455.9h0M450.3 433.9h0M446.1 465.5h0M453.8 399.3h0M467.5 455.8h0M457.4 404.5h0M454.6 411.4h0M464.8 411.3h0M462.5 443.1h0M450.4 411.2h0M438.7 448.0h0M452.6 418.0h0M441.5 429.5h0M465.2 441.6h0M447.2 441.9h0M457.5 452.5h0M442.0 493.1h0M454.2 412.4h0M452.2 399.4h0M451.6 401.6h0M450.3 418.9h0M463.1 406.2h0M454.2 414.8h0M458.4 422.5h0M443.7 419.1h0M430.1 450.8h0M422.3 468.8h0M454.8 404.0h0M465.4 421.4h0M465.3 419.8h0M454.4 407.8h0M443.1 452.8h0M451.3 420.4h0M454.1 405.8h0M448.2 406.9h0M450.2 402.7h0M441.9 413.2h0M461.1 452.7h0M440.4 419.7h0M459.1 419.8h0M449.6 463.6h0M445.2 427.6h0M457.1 439.3h0M454.5 412.6h0M462.0 424.3h0M453.8 420.6h0M458.8 431.4h0M440.6 420.3h0M471.8 452.8h0M472.2 423.9h0M451.3 410.4h0M447.2 429.4h0M466.1 431.7h0M459.3 438.7h0M444.5 432.9h0M454.0 398.8h0M458.9 418.4h0M456.2 419.2h0M448.8 412.5h0M437.5 424.0h0M473.3 452.7h0M458.6 404.8h0M454.0 408.9h0M473.1 435.9h0M456.0 441.1h0M453.5 462.8h0M451.8 400.8h0M456.8 485.1h0M462.9 430.4h0M448.4 448.3h0M450.8 401.7h0M457.1 422.3h0M434.1 438.6h0M460.2 489.7h0M467.3 412.8h0M450.7 450.6h0M442.2 421.8h0M454.7 400.8h0M466.7 483.0h0M467.4 465.6h0M467.3 433.0h0M452.8 400.6h0M433.0 466.7h0M462.5 415.5h0M451.1 400.4h0M439.5 485.0h0M454.1 399.9h0M435.4 441.8h0M467.4 432.7h0M451.0 402.4h0M469.5 425.1h0M453.4 399.1h0M454.1 399.9h0M439.3 452.5h0M453.8 410.4h0M469.6 460.7h0M457.5 415.2h0M459.9 421.8h0M442.9 412.4h0M441.9 453.7h0M449.5 401.5h0M469.9 434.8h0M464.1 429.9h0M447.5 403.5h0M459.3 404.6h0M444.5 411.9h0M456.1 401.3h0M462.8 405.6h0M462.4 462.0h0M452.8 403.3h0M448.8 402.9h0M464.4 426.8h0M455.1 496.4h0M460.3 424.5h0M445.0 413.4h0M433.6 463.2h0M433.4 456.5h0M446.6 404.0h0M453.3 398.7h0M453.3 399.3h0M445.7 481.9h0M454.9 420.2h0M440.0 425.5h0M465.0 426.8h0M453.2 398.6h0M464.5 436.7h0M456.3 404.6h0M459.7 424.5h0M439.3 479.9h0M447.7 412.1h0M436.6 428.1h0M484.1 474.3h0M477.9 454.0h0M448.6 402.2h0M473.8 460.7h0M450.8 404.5h0M437.1 429.3h0M452.8 408.7h0M449.0 407.7h0M456.8 401.9h0M456.9 406.9h0M456.4 443.3h0M462.1 415.7h0M444.7 416.0h0M459.0 446.0h0M467.3 438.3h0M437.2 443.8h0M438.3 429.8h0M451.4 400.7h0M464.0 412.8h0M484.6 495.4h0M452.6 399.9h0M453.2 398.7h0M464.1 412.2h0M435.6 442.0h0M432.9 467.5h0M471.8 482.0h0M453.3 454.7h0M454.1 398.6h0M441.9 486.5h0M458.4 440.5h0M470.0 426.9h0M433.5 477.1h0M458.4 404.8h0M454.5 424.6h0M452.5 404.6h0M462.5 405.8h0M439.8 419.3h0M432.0 440.8h0M450.7 401.8h0M446.2 427.2h0M466.4 425.0h0M471.6 456.8h0M450.6 405.5h0M452.6 464.2h0M458.4 415.6h0M445.7 405.5h0M467.3 468.2h0M451.0 404.5h0M473.7 445.5h0M470.9 431.7h0M446.5 465.8h0M442.3 424.5h0M447.4 404.3h0M453.6 399.3h0M446.1 406.7h0M434.2 446.4h0M489.0 476.5h0M453.0 399.0h0M459.8 416.6h0M450.2 424.0h0M433.9 495.0h0M458.3 410.3h0M465.0 410.8h0M447.8 442.5h0M456.1 400.3h0M448.0 461.5h0M451.1 400.4h0M469.1 432.1h0M453.4 402.9h0M430.8 473.6h0M468.1 433.4h0M468.2 474.2h0M458.8 499.0h0M458.4 473.5h0M458.1 420.0h0M456.4 465.0h0M441.6 445.1h0M440.3 417.4h0M456.5 464.1h0M452.8 411.3h0M461.4 455.2h0M472.0 478.4h0M448.8 411.5h0M449.7 436.0h0M442.3 417.2h0M457.0 454.3h0M465.4 443.6h0M460.0 420.1h0M458.6 442.3h0M454.2 402.5h0M455.8 432.7h0M453.3 426.0h0M454.9 413.0h0M468.9 416.1h0M450.6 425.9h0M466.1 415.9h0M462.9 455.7h0M453.4 406.5h0M459.0 477.5h0M464.6 418.4h0M439.4 449.6h0M456.9 435.1h0M446.5 414.6h0M454.2 400.5h0M452.2 399.3h0M463.6 474.8h0M490.4 457.8h0M444.5 428.9h0M470.7 486.3h0M453.9 399.4h0M454.9 456.1h0M454.2 403.0h0M443.7 454.0h0M452.5 422.2h0M451.9 403.4h0M443.1 427.4h0M464.7 424.5h0M456.4 422.7h0M465.5 451.9h0M471.0 480.7h0M454.4 398.9h0M460.8 421.5h0M455.7 412.6h0M463.5 407.3h0M456.8 437.3h0M449.2 424.6h0M451.3 400.6h0M443.5 464.1h0M458.4 408.0h0M455.3 430.4h0M446.8 431.3h0M437.5 459.1h0M440.0 417.3h0M452.0 402.2h0M440.7 424.2h0M460.8 411.5h0M454.6 400.4h0M467.8 426.5h0M443.8 434.0h0M449.9 408.3h0M458.4 413.6h0M446.8 452.9h0M449.3 433.1h0M453.1 418.2h0M445.9 475.0h0M456.1 400.7h0M458.8 418.0h0M458.9 502.7h0M450.4 400.5h0M448.6 412.3h0M454.1 496.6h0M466.6 421.8h0M460.0 415.5h0M465.0 419.4h0M453.6 442.7h0M439.3 421.4h0M445.9 410.2h0M443.4 427.1h0M443.1 412.3h0M461.0 498.7h0M461.6 431.9h0M454.5 399.9h0M445.3 415.7h0M457.8 401.1h0M450.7 457.6h0M450.5 411.1h0M475.1 468.8h0M467.2 458.1h0M450.6 401.1h0M452.1 411.5h0M454.5 420.9h0M447.6 405.8h0M445.7 422.3h0M470.6 475.1h0M458.6 478.9h0M455.6 439.1h0M446.5 425.4h0M449.4 411.0h0M439.4 431.5h0M458.5 402.8h0M452.8 399.3h0M444.3 416.0h0M452.4 399.4h0M464.1 455.2h0M452.2 399.4h0M464.7 416.8h0M447.2 408.5h0M458.0 411.3h0M462.9 413.9h0M459.9 412.5h0M471.5 421.8h0M457.2 437.2h0M457.9 412.5h0M464.0 410.8h0M451.5 444.4h0M443.7 418.8h0M435.5 455.3h0M450.5 441.9h0M451.7 400.9h0M467.0 443.9h0M454.0 422.6h0M446.6 406.0h0M447.2 421.4h0M470.1 419.1h0M457.2 480.4h0M454.8 431.7h0M453.8 406.7h0M451.6 407.0h0M464.2 413.3h0M456.4 433.3h0M443.8 433.3h0M446.1 413.5h0M445.4 499.3h0M443.0 416.8h0M443.6 422.3h0M434.4 456.2h0M451.7 399.7h0M446.2 407.9h0M453.3 403.4h0M458.7 428.0h0M449.5 426.1h0M460.3 403.1h0M456.7 424.0h0M453.7 398.5h0M453.5 410.4h0M458.2 404.3h0M453.2 462.3h0M449.2 455.6h0M435.8 477.5h0M445.1 407.1h0M453.5 403.4h0M437.1 447.6h0M467.4 425.6h0M460.8 404.1h0M459.9 412.2h0M450.8 463.3h0M449.4 452.3h0M454.3 399.7h0M456.4 416.5h0M453.6 402.2h0M439.6 424.5h0M440.1 434.5h0M460.3 439.0h0M462.2 475.5h0M460.8 495.4h0M466.9 444.3h0M473.3 420.5h0M444.9 416.7h0M440.4 472.3h0M466.1 478.4h0M443.0 466.4h0M457.7 413.5h0M462.9 417.1h0M457.0 459.0h0M453.6 399.1h0M463.8 410.8h0M462.2 448.6h0M435.2 481.0h0M471.8 502.3h0M456.4 410.4h0M457.5 403.0h0M450.7 462.1h0M441.6 506.5h0M445.8 462.8h0M453.9 433.0h0M454.2 406.4h0M455.2 403.6h0M456.5 431.0h0M440.5 454.8h0M452.0 399.5h0M453.2 401.1h0M447.6 415.2h0M449.9 415.5h0M444.6 427.9h0M452.4 405.1h0M457.7 402.4h0M459.8 403.1h0M467.4 419.6h0M438.7 447.4h0M456.6 420.1h0M452.3 399.2h0M454.3 443.0h0M443.1 420.5h0M455.3 427.5h0M477.0 437.6h0M455.7 413.6h0M460.5 442.0h0M461.9 405.8h0M457.2 404.6h0M455.0 402.1h0M465.9 412.6h0M452.1 399.2h0M465.2 414.0h0M459.3 403.9h0M453.2 444.7h0M475.4 461.9h0M448.3 424.3h0M460.1 404.2h0M444.8 432.5h0M457.9 405.9h0M472.1 447.8h0M455.1 439.8h0M447.8 426.6h0M450.3 456.0h0M456.7 404.5h0M445.5 416.9h0M448.8 407.1h0M461.2 405.5h0M463.4 416.0h0M458.3 451.4h0M472.4 445.5h0M449.5 420.5h0M443.1 448.2h0M467.4 420.5h0M459.0 424.7h0M453.9 401.3h0M456.5 400.5h0M440.7 421.3h0M445.9 413.0h0M451.5 446.3h0M459.0 420.2h0M448.2 415.9h0M461.9 482.2h0M476.0 444.6h0M439.7 422.8h0M461.6 474.3h0M449.0 407.8h0M455.0 400.9h0M458.6 438.6h0M486.6 483.3h0M469.3 423.4h0M452.6 398.9h0M456.7 436.8h0M450.1 401.9h0M449.0 446.1h0M465.8 449.7h0M463.1 436.6h0M459.0 430.0h0M447.2 409.2h0M452.9 415.4h0M436.4 423.6h0M449.2 410.3h0M443.7 429.4h0M471.5 450.3h0M441.7 433.1h0M440.8 423.3h0M454.6 425.8h0M450.1 460.4h0M445.6 426.7h0M453.0 399.2h0M461.4 411.7h0M455.8 412.6h0M493.2 489.1h0M450.5 409.6h0M444.2 415.1h0M447.8 411.8h0M441.8 416.0h0M435.2 429.8h0M455.6 401.0h0M458.5 403.9h0M462.8 431.4h0M469.3 418.1h0M449.5 437.3h0M457.7 405.6h0M446.8 423.0h0M450.1 455.8h0M463.9 411.0h0M444.7 415.8h0M448.8 419.9h0M455.0 399.7h0M456.1 418.9h0M459.3 418.4h0M453.7 398.8h0M463.4 407.1h0M453.5 410.1h0M440.6 415.8h0M458.7 415.4h0M444.6 444.6h0M456.9 407.9h0M456.1 457.8h0M447.6 428.0h0M441.6 422.6h0M448.0 403.9h0M449.8 432.3h0M445.8 459.0h0M468.3 433.8h0M454.1 399.5h0M450.6 413.8h0M457.9 449.0h0M439.3 418.3h0M446.2 419.7h0M443.4 408.9h0M454.0 407.4h0M455.8 473.5h0M462.1 414.7h0M447.2 406.8h0M473.7 422.7h0M461.5 405.6h0M456.3 403.0h0M461.0 422.7h0M459.1 402.5h0M446.5 409.6h0M443.3 430.9h0M450.5 416.3h0M451.8 399.8h0M465.2 432.9h0M458.9 402.3h0M465.1 468.5h0M452.9 409.7h0M453.5 444.9h0M448.1 407.0h0M452.9 398.6h0M478.4 431.0h0M454.8 415.4h0M456.3 409.5h0M444.9 440.4h0M454.6 438.2h0M453.4 400.4h0M451.7 403.4h0M453.2 412.1h0M456.4 408.8h0M455.0 407.6h0M452.2 440.3h0M443.6 424.8h0M462.3 440.8h0M453.6 399.1h0M442.1 420.4h0M454.7 418.4h0M440.6 485.7h0M464.9 488.7h0M469.7 487.6h0M446.3 418.5h0M447.3 417.1h0M447.8 451.0h0M464.6 415.5h0M470.2 424.4h0M448.4 476.8h0M455.5 408.2h0M453.5 401.8h0M458.8 407.7h0M443.7 441.9h0M451.0 438.0h0M444.2 409.7h0M441.6 415.3h0M460.5 414.3h0M450.2 438.3h0M469.6 418.7h0M455.0 416.0h0M442.8 437.7h0M455.3 439.4h0M461.1 480.6h0M446.7 430.1h0M449.0 422.5h0M447.6 415.9h0M454.4 407.3h0M454.9 399.5h0M438.9 419.4h0M468.3 460.8h0M449.6 405.4h0M460.4 439.0h0M454.5 399.2h0M454.5 408.2h0M446.8 411.9h0M463.9 411.6h0M462.4 407.6h0M454.3 447.2h0M453.9 399.4h0M456.2 402.8h0M461.6 416.6h0M472.7 463.4h0M449.8 435.5h0M460.9 403.7h0M450.9 415.1h0M463.1 475.2h0M444.6 407.1h0M453.7 402.3h0M465.8 467.0h0M477.8 440.1h0M439.2 434.6h0M460.2 409.9h0M469.4 432.9h0M460.6 407.6h0M454.0 401.4h0M474.5 468.3h0M453.2 398.7h0M461.9 415.7h0M470.6 445.2h0M455.2 417.5h0M452.3 401.4h0M460.5 452.6h0M438.3 425.0h0M451.7 401.3h0M483.6 468.7h0M455.9 414.2h0M445.5 411.0h0M449.8 413.3h0M453.2 398.6h0M449.8 412.5h0M450.5 402.4h0M450.3 483.1h0M477.2 429.5h0M456.6 405.2h0M469.5 435.6h0M452.4 409.1h0M464.3 417.3h0M476.4 445.3h0M453.9 401.3h0M450.5 400.6h0M451.5 401.4h0M445.0 494.9h0M469.8 439.6h0M454.3 401.3h0M448.8 406.4h0M456.3 401.5h0M466.9 489.9h0M453.1 404.8h0M439.3 443.1h0M453.5 401.8h0M490.9 479.9h0M447.2 499.5h0M451.6 400.5h0M449.7 410.4h0M448.9 409.2h0M472.1 436.1h0M453.0 399.1h0M444.7 433.8h0M453.6 406.1h0M461.0 439.9h0M452.6 401.7h0M451.3 454.8h0M453.0 414.0h0M444.5 419.3h0M463.9 451.6h0M452.3 440.2h0M451.8 403.2h0M454.6 414.9h0M461.8 430.2h0M453.7 401.4h0M471.1 448.9h0M466.0 422.9h0M445.5 408.8h0M460.7 421.8h0M450.7 401.0h0M474.8 439.8h0M493.1 469.5h0M464.9 420.9h0M458.5 416.3h0M452.9 399.1h0M449.2 401.9h0M454.1 425.0h0M450.3 433.9h0M451.9 411.3h0M450.4 413.4h0M471.4 428.9h0M449.3 427.9h0M440.7 417.7h0M471.4 453.4h0M465.9 415.7h0M456.6 401.5h0M465.5 436.2h0M454.0 399.0h0M456.8 458.3h0M483.4 468.6h0M454.5 432.1h0M448.1 403.7h0M463.3 433.3h0M458.3 474.2h0M448.5 407.8h0M455.4 414.2h0M453.5 398.7h0M457.3 469.6h0M427.4 442.1h0M460.1 419.9h0M433.9 447.8h0M468.4 444.5h0M456.8 402.4h0M475.1 455.6h0M463.4 434.5h0M441.1 424.2h0M451.0 440.3h0M453.1 398.5h0M453.7 426.4h0M441.7 412.9h0M439.0 420.0h0M441.6 413.2h0M453.4 495.9h0M456.5 400.9h0M440.8 432.6h0M454.6 448.0h0M439.6 456.7h0M477.0 445.3h0M450.3 416.1h0M459.6 404.5h0M442.7 430.7h0M448.8 403.6h0M449.3 406.0h0M455.4 432.8h0M453.3 408.6h0M450.0 411.9h0M424.2 446.6h0M453.9 424.2h0M454.9 428.3h0M469.0 419.3h0M452.1 400.3h0M450.9 400.0h0M441.4 416.6h0M447.2 405.9h0M464.6 434.2h0M449.2 401.8h0M450.6 415.0h0M467.9 426.4h0M443.2 441.1h0M462.6 494.0h0M449.3 410.0h0M450.6 400.4h0M448.1 408.7h0M462.1 482.9h0M448.8 484.2h0M457.9 403.0h0M452.9 398.7h0M442.9 451.7h0M455.0 419.4h0M471.3 421.9h0M450.8 418.1h0M449.9 408.1h0M459.5 462.8h0M439.7 418.7h0M469.6 429.5h0M448.5 417.1h0M455.2 409.8h0M458.4 404.1h0M456.6 426.9h0M458.0 468.1h0M470.1 486.2h0M439.6 477.0h0M452.3 401.0h0M459.3 411.0h0M454.6 399.1h0M453.5 400.7h0M444.2 439.3h0M452.4 404.4h0M463.9 412.4h0M466.8 479.0h0M441.3 423.1h0M447.1 424.2h0M442.2 421.2h0M460.9 414.5h0M456.6 421.2h0M441.5 414.5h0M454.4 404.9h0M453.1 401.5h0M454.7 399.1h0M445.2 440.5h0M443.1 420.0h0M448.5 419.4h0M477.2 466.8h0M457.1 431.8h0M462.7 406.3h0M452.2 401.2h0M439.7 425.8h0M429.9 458.6h0M452.4 400.0h0M461.8 404.1h0M449.0 402.1h0M431.9 443.0h0M444.7 437.2h0M448.3 406.7h0M454.1 398.7h0M446.5 430.8h0M443.5 409.2h0M446.8 409.1h0M445.5 409.4h0M451.7 401.2h0M453.8 436.2h0M461.0 406.3h0M453.5 463.2h0M467.4 416.5h0M455.6 416.8h0M472.4 454.6h0M442.2 421.6h0M444.5 419.3h0M449.7 400.9h0M439.7 425.1h0M457.8 415.9h0M439.1 456.1h0M446.3 433.7h0M451.0 472.7h0M465.1 414.9h0M437.3 421.6h0M450.6 417.5h0M464.7 423.6h0M441.9 426.1h0M453.9 416.0h0M447.4 405.5h0M463.0 412.6h0M441.5 457.8h0M472.7 501.7h0M456.0 469.9h0M452.6 398.9h0M470.9 418.1h0M444.3 421.9h0M454.0 399.8h0M452.0 399.5h0M462.0 462.1h0M457.6 401.3h0M467.1 489.8h0M441.0 443.5h0M466.7 436.4h0M445.0 407.4h0M451.0 400.2h0M451.2 462.6h0M456.6 423.8h0M443.1 431.0h0M453.2 400.4h0M446.1 498.0h0M487.5 495.0h0M457.6 414.4h0M458.3 406.4h0M453.5 398.9h0M456.7 400.4h0M456.8 461.3h0M458.1 401.9h0M434.4 435.4h0M452.5 435.9h0M447.4 408.8h0M455.0 402.9h0M442.0 412.4h0M453.7 399.9h0M454.8 399.2h0M455.7 402.1h0M453.3 398.5h0M451.7 445.9h0M486.2 475.8h0M438.4 435.7h0M466.5 433.6h0M461.4 410.8h0M470.5 436.8h0M452.2 409.3h0M465.0 421.6h0M452.4 400.3h0M459.7 429.8h0M477.0 449.4h0M447.6 408.8h0M442.4 423.9h0M449.9 412.7h0M455.7 407.6h0M452.6 406.4h0M477.1 438.9h0M467.8 442.7h0M452.9 399.8h0M442.5 441.8h0M463.2 408.9h0M450.3 423.9h0M455.0 414.0h0M458.8 447.6h0M446.8 406.3h0M462.0 465.6h0M466.0 415.6h0M450.8 404.0h0M452.7 399.5h0M452.3 399.4h0M455.0 413.0h0M458.0 406.8h0M453.3 398.6h0M449.0 477.9h0M464.4 437.8h0M453.1 399.7h0M450.3 412.1h0M443.5 496.7h0M464.1 418.0h0M450.2 409.2h0M442.7 448.3h0M453.9 398.6h0M463.9 415.3h0M453.1 415.7h0M446.6 405.6h0M451.1 419.0h0M435.6 441.0h0M451.4 410.8h0M453.0 400.2h0M454.7 402.4h0M450.0 418.7h0M456.3 402.6h0M468.0 423.6h0M468.3 438.9h0M466.9 412.2h0M457.4 422.4h0M464.4 443.6h0M461.3 409.0h0M452.9 400.3h0M453.7 403.3h0M448.0 410.6h0M449.4 439.4h0M454.3 407.4h0M443.9 442.5h0M448.2 408.8h0M434.0 451.9h0M465.8 447.9h0M475.5 471.4h0M457.7 407.7h0M445.4 421.7h0M465.0 408.8h0M452.8 400.5h0M464.0 441.2h0M454.8 443.4h0M468.7 416.2h0M460.8 483.6h0M441.8 419.8h0M460.3 418.6h0M460.5 452.2h0M450.3 416.4h0M450.5 426.6h0M449.7 423.1h0M474.3 430.6h0M457.6 429.8h0M472.3 449.5h0M468.5 423.4h0M463.0 408.7h0M453.6 400.5h0M473.3 424.7h0M463.6 497.6h0M457.1 458.0h0M441.1 414.4h0M453.7 399.1h0M454.9 399.4h0M454.9 443.9h0M442.4 414.5h0M453.2 398.5h0M460.9 427.3h0M468.1 462.3h0M452.9 404.7h0M454.3 409.5h0M448.9 451.3h0M457.1 407.0h0M454.6 399.2h0M453.4 406.5h0M456.5 431.3h0M438.8 482.8h0M462.0 433.2h0M462.0 439.3h0M452.0 400.3h0M453.4 414.8h0M453.2 427.8h0M455.6 443.9h0M469.4 455.7h0M460.9 444.6h0M460.5 424.5h0M470.2 423.0h0M448.5 416.6h0M460.7 468.2h0M435.6 425.2h0M449.9 433.1h0M465.3 421.8h0M475.6 433.0h0M453.9 401.2h0M449.6 413.5h0M466.4 489.3h0M465.9 492.0h0M436.4 425.8h0M440.0 417.5h0M450.3 437.7h0M454.7 404.7h0M466.8 469.2h0M470.4 461.4h0M455.2 400.0h0M451.8 413.2h0M454.1 400.2h0M460.8 447.5h0M446.4 410.5h0M472.5 480.9h0M453.6 401.9h0M454.5 407.4h0M456.9 401.3h0M460.3 412.2h0M449.9 406.9h0M464.6 442.3h0M465.8 421.9h0M452.2 406.5h0M446.3 432.7h0M450.2 439.4h0M465.5 416.4h0M460.0 405.9h0M451.9 401.7h0M446.3 405.8h0M453.4 398.6h0M439.5 479.4h0M461.1 452.6h0M450.0 401.2h0M432.4 426.1h0M454.1 434.1h0M460.7 406.5h0M453.1 398.6h0M456.2 406.0h0M449.8 411.7h0M461.4 453.8h0M445.0 444.5h0M453.0 450.6h0M456.6 425.3h0M466.1 474.8h0M464.5 433.8h0M454.6 451.5h0M477.6 472.6h0M463.6 407.2h0M464.0 410.0h0M444.9 445.9h0M451.2 405.4h0M441.9 427.8h0M461.8 456.8h0M473.5 458.2h0M455.8 436.3h0M453.6 398.9h0M454.8 399.5h0M466.4 417.3h0M451.3 400.2h0M476.6 462.1h0M445.8 447.7h0M450.1 401.0h0M465.9 429.6h0M441.3 445.9h0M457.8 406.5h0M469.0 441.0h0M456.8 493.8h0M456.3 478.1h0M443.0 425.3h0M455.5 400.0h0M440.7 424.4h0M462.4 517.8h0M457.1 402.0h0M466.2 481.3h0M453.2 408.9h0M440.2 442.8h0M451.0 401.3h0M457.3 459.2h0M431.1 436.5h0M450.6 416.2h0M456.7 404.1h0M452.4 403.4h0M488.5 462.5h0M454.7 439.3h0M451.3 411.9h0M460.7 434.7h0M457.1 401.6h0M457.0 413.9h0M453.1 403.8h0M449.8 409.8h0M479.5 429.9h0M442.2 420.0h0M460.7 412.2h0M452.3 412.8h0M455.8 404.1h0M451.2 407.7h0M449.3 402.4h0M480.4 437.0h0M454.6 424.7h0M448.2 412.8h0M449.4 440.7h0M460.6 441.8h0M456.4 439.9h0M441.6 420.4h0M454.8 429.9h0M448.0 431.4h0M463.5 446.8h0M462.3 453.6h0M459.7 411.6h0M466.6 436.6h0M454.1 400.7h0M461.8 442.0h0M480.4 462.5h0M451.0 402.2h0M466.5 417.2h0M456.7 410.6h0M472.0 430.2h0M454.3 400.7h0M468.6 483.1h0M471.2 484.5h0M441.6 485.0h0M461.3 432.6h0M453.3 408.5h0M462.6 426.0h0M450.5 418.3h0M442.6 458.7h0M453.6 398.5h0M464.5 426.8h0M449.9 444.4h0M438.8 451.9h0M440.6 433.1h0M445.7 418.0h0M483.2 471.0h0M450.0 487.5h0M467.6 441.4h0M460.3 404.3h0M454.8 405.2h0M444.7 459.7h0M452.9 398.8h0M451.3 406.5h0M482.5 467.7h0M442.9 418.6h0M456.3 410.7h0M443.8 410.3h0M455.5 416.8h0M452.3 421.3h0M457.9 401.3h0M443.6 419.7h0M465.0 408.7h0M458.8 419.3h0M464.3 416.1h0M445.1 445.6h0M459.1 404.5h0M446.1 428.0h0M451.5 411.1h0M459.5 473.5h0M448.0 402.8h0M454.6 401.0h0M464.7 449.5h0M453.6 433.9h0M444.4 409.3h0M455.4 415.9h0M450.7 400.5h0M457.1 409.8h0M453.0 405.6h0M455.1 403.3h0M465.0 441.8h0M437.2 423.2h0M453.5 400.1h0M466.8 425.2h0M470.4 416.7h0M478.4 453.1h0M454.7 399.7h0M432.0 441.0h0M447.1 434.6h0M453.5 419.5h0M447.0 472.6h0M440.4 445.2h0M455.3 405.7h0M447.1 409.4h0M461.8 416.6h0M475.4 430.3h0M437.4 428.1h0M453.3 417.9h0M457.6 442.0h0M449.3 476.4h0M454.0 440.2h0M462.0 412.1h0M435.2 448.4h0M452.6 472.6h0M452.6 407.1h0M453.9 398.5h0M444.2 436.3h0M430.4 434.0h0M463.4 410.4h0M453.7 399.2h0M457.8 417.0h0M462.0 412.1h0M439.1 444.5h0M453.8 399.5h0M443.4 427.5h0M450.4 483.7h0M450.7 413.4h0M441.1 478.2h0M439.3 482.9h0M448.6 402.4h0M445.0 426.9h0M452.2 402.1h0M469.4 420.1h0M455.2 401.3h0M461.8 408.1h0M454.2 398.7h0M460.6 407.2h0M460.2 411.5h0M448.3 434.7h0M448.1 404.9h0M441.3 418.1h0M454.1 400.0h0M464.0 432.2h0M441.9 431.8h0M453.5 399.9h0M453.1 414.2h0M474.0 467.2h0M460.3 485.8h0M453.4 398.7h0M455.9 400.7h0M450.0 400.6h0M445.8 471.5h0M456.7 400.9h0M460.6 415.7h0M464.7 413.4h0M447.7 409.8h0M447.6 452.2h0M460.0 483.3h0M450.7 434.3h0M458.6 436.2h0M453.1 402.9h0M472.6 448.0h0M454.0 414.1h0M451.7 419.1h0M467.9 477.5h0M468.7 418.9h0M467.6 430.3h0M453.8 401.2h0M447.7 412.6h0M453.5 399.3h0M447.2 417.8h0M469.8 436.3h0M450.6 400.6h0M468.8 441.2h0M452.2 440.8h0M437.3 443.8h0M452.7 399.0h0M442.0 446.5h0M454.2 399.2h0M456.5 403.9h0M454.4 400.3h0M436.3 453.0h0M431.2 457.1h0M449.1 401.2h0M466.5 481.8h0M447.7 417.3h0M453.2 399.1h0M471.7 432.1h0M433.5 441.7h0M458.6 416.7h0M453.2 421.5h0M471.5 470.1h0M456.1 406.5h0M450.6 401.7h0M450.0 411.9h0M453.4 398.6h0M455.5 420.2h0M451.6 404.1h0M444.3 436.1h0M459.3 446.7h0M448.3 404.0h0M452.2 400.2h0M446.4 451.5h0M451.9 401.0h0M460.9 429.2h0M454.7 401.0h0M449.0 401.8h0M466.9 425.2h0M454.6 400.1h0M460.3 404.7h0M440.0 432.4h0M429.0 472.5h0M441.2 419.4h0M474.7 436.2h0M430.3 476.9h0M451.4 492.9h0M462.7 456.9h0M459.7 420.8h0M469.5 453.5h0M465.8 444.3h0M463.4 419.9h0M456.7 448.1h0M454.8 406.3h0M439.4 440.4h0M435.1 463.1h0M459.1 425.7h0M461.6 405.1h0M455.9 409.2h0M430.6 464.1h0M476.0 502.0h0M467.3 485.7h0M454.1 423.8h0M463.9 466.9h0M457.9 437.0h0M451.4 401.8h0M465.8 425.1h0M450.2 417.4h0M422.4 451.8h0M448.8 412.4h0M450.5 480.2h0M434.6 426.8h0M478.1 475.8h0M445.0 435.2h0M458.9 407.8h0M457.4 400.9h0M449.8 400.6h0M454.3 406.9h0M453.7 399.2h0M454.5 399.8h0M444.2 420.1h0M454.6 400.6h0M468.1 432.5h0M450.7 431.4h0M457.2 431.5h0M453.6 398.6h0M448.3 402.6h0M450.1 402.0h0M449.9 434.9h0M455.0 401.7h0M444.1 416.0h0M470.3 447.3h0M447.2 450.1h0M443.2 438.7h0M453.2 399.8h0M459.6 466.2h0M462.7 442.7h0M451.7 401.4h0M455.4 401.0h0M460.9 406.3h0M462.9 432.0h0M457.6 401.4h0M451.2 401.6h0M440.0 445.4h0M460.3 413.2h0M448.9 405.3h0M467.3 418.1h0M463.2 452.1h0M475.1 458.4h0M442.6 436.8h0M440.7 436.8h0M458.3 414.7h0M437.0 432.4h0M469.3 415.6h0M449.9 408.2h0M454.6 410.5h0M449.1 411.8h0M479.9 467.7h0M454.1 399.4h0M464.8 430.9h0M458.0 409.2h0M446.4 412.1h0M453.3 399.9h0M441.9 451.4h0M462.3 475.8h0M449.5 466.1h0M470.9 427.5h0M457.0 403.3h0M433.8 437.7h0M440.7 446.4h0M456.8 422.5h0M458.5 402.5h0M441.4 457.3h0M450.5 421.2h0M453.0 403.5h0M458.9 410.2h0M473.1 477.5h0M436.6 446.4h0M461.8 410.6h0M440.6 454.4h0M447.9 402.7h0M460.0 403.8h0M464.0 443.6h0M453.4 413.8h0M462.9 425.9h0M454.2 400.5h0M455.4 437.7h0M459.2 415.2h0M444.7 426.1h0M452.4 407.6h0M453.1 398.7h0M470.0 446.5h0M455.0 418.1h0M468.1 423.9h0M439.4 427.4h0M474.9 464.2h0M468.2 456.7h0M460.2 403.5h0M436.9 468.6h0M465.3 417.6h0M464.8 410.9h0M452.7 400.2h0M460.8 409.3h0M444.9 410.0h0M465.7 465.4h0M434.8 459.7h0M453.4 416.8h0M470.6 473.2h0M442.5 411.3h0M458.6 414.8h0M448.0 417.1h0M459.1 467.7h0M457.0 412.4h0M449.5 410.1h0M460.1 490.7h0M441.9 436.3h0M467.7 471.8h0M450.2 412.9h0M447.6 406.0h0M449.6 430.3h0M428.2 453.0h0M452.5 452.9h0M467.3 417.2h0M447.8 417.6h0M453.7 424.5h0M459.7 422.9h0M441.7 413.1h0M432.5 446.3h0M478.1 451.5h0M460.2 421.5h0M454.3 398.9h0M457.7 406.2h0M452.3 399.3h0M469.7 431.3h0M441.0 422.3h0M447.9 413.1h0M452.8 399.3h0M451.4 407.2h0M466.4 422.6h0M468.0 474.3h0M456.3 410.6h0M427.9 480.7h0M478.5 486.3h0M443.5 427.2h0M452.4 399.0h0M454.2 408.4h0M441.1 440.1h0M469.4 445.4h0M443.1 432.0h0M445.1 414.1h0M468.4 429.6h0M453.1 427.7h0M459.4 402.5h0M447.2 403.7h0M440.9 430.4h0M458.5 415.0h0M474.9 466.1h0M448.5 421.6h0M450.2 447.9h0M458.4 404.1h0M453.6 413.4h0M445.6 412.2h0M439.4 420.4h0M465.3 436.4h0M457.2 457.2h0M434.3 443.5h0M463.3 428.1h0M456.5 416.6h0M455.2 410.8h0M448.9 433.3h0M453.2 403.6h0M461.3 414.1h0M453.9 401.5h0M449.7 402.6h0M452.6 453.7h0M449.7 402.4h0M459.3 433.8h0M454.5 407.6h0M449.7 401.5h0M452.9 401.1h0M438.2 431.6h0M450.6 421.9h0M471.5 467.6h0M455.4 406.3h0M446.7 438.6h0M468.6 453.7h0M458.3 403.6h0M444.9 446.2h0M458.3 404.7h0M459.5 442.6h0M450.1 432.2h0M456.0 400.0h0M451.8 408.0h0M448.3 460.0h0M455.6 401.3h0M449.3 413.2h0M444.2 467.3h0M455.5 401.8h0M458.4 437.3h0M454.7 403.3h0M446.2 422.1h0M437.8 451.3h0M450.8 400.5h0M454.2 402.1h0M447.3 405.4h0M458.6 412.9h0M428.9 479.4h0M464.9 413.9h0M474.8 487.4h0M462.4 414.7h0M453.2 398.5h0M453.1 398.6h0M449.1 410.9h0M451.6 437.4h0M452.7 399.5h0M454.6 424.7h0M461.5 408.5h0M468.2 419.7h0M453.3 398.5h0M443.1 415.0h0M463.7 417.6h0M459.9 432.5h0M457.7 405.5h0M449.7 401.5h0M464.3 444.2h0M453.2 406.2h0M458.8 436.8h0M453.8 398.8h0M452.7 402.6h0M444.3 445.1h0M450.1 456.3h0M467.4 436.6h0M463.8 490.6h0M443.0 424.6h0M446.8 432.4h0M446.7 416.6h0M470.7 481.8h0M454.2 407.1h0M476.3 482.2h0M444.9 425.8h0M450.0 414.1h0M451.8 430.9h0M452.9 398.7h0M445.5 412.5h0M462.4 428.8h0M458.7 403.0h0M437.3 428.2h0M440.1 425.7h0M459.4 405.6h0M453.7 398.5h0M466.9 432.5h0M474.3 462.1h0M453.1 427.2h0M462.8 411.4h0M465.9 440.8h0M470.1 447.5h0M457.6 428.4h0M455.6 403.3h0M455.1 399.4h0M458.7 407.5h0M454.4 403.6h0M440.2 424.0h0M465.1 487.4h0M460.6 458.3h0M457.9 430.5h0M453.7 405.6h0M463.3 406.5h0M460.8 412.7h0M447.8 404.9h0M447.7 409.3h0M457.9 422.5h0M460.4 403.4h0M449.1 416.2h0M454.1 429.6h0M467.3 421.8h0M452.6 400.9h0M441.3 478.4h0M456.5 408.8h0M461.8 427.0h0M447.2 418.1h0M447.4 412.7h0M448.7 405.8h0M440.7 420.1h0M447.1 450.6h0M453.6 398.6h0M436.9 459.1h0M450.6 442.1h0M458.4 437.5h0M468.9 457.2h0M453.9 421.3h0M476.3 430.7h0M448.8 439.5h0M467.2 449.1h0M457.0 407.5h0M451.5 400.2h0M461.3 413.5h0M455.8 402.3h0M449.3 411.1h0M447.1 446.4h0M454.2 400.1h0M457.9 402.8h0M449.9 402.0h0M441.9 419.3h0M461.1 405.2h0M438.6 434.2h0M448.2 412.6h0M443.8 427.7h0M456.3 409.5h0M458.3 403.9h0M462.1 432.7h0M454.2 399.4h0M455.8 437.7h0M447.5 413.8h0M456.7 435.1h0M450.6 416.1h0M452.7 412.3h0M454.0 405.8h0M463.6 413.1h0M452.2 399.9h0M461.6 445.1h0M459.4 413.4h0M455.9 400.8h0M456.1 411.9h0M440.1 415.8h0M469.6 423.5h0M461.6 417.4h0M452.5 446.3h0M436.5 426.8h0M454.7 400.2h0M459.6 405.7h0M451.0 419.5h0M462.0 443.5h0M462.6 420.7h0M457.0 491.8h0M452.3 466.6h0M452.2 418.1h0M450.0 416.2h0M465.4 421.9h0M456.8 401.4h0M461.6 405.7h0M430.4 444.0h0M455.2 401.5h0M461.2 411.1h0M461.6 433.5h0M458.6 404.3h0M452.6 400.3h0M442.2 450.7h0M449.3 502.4h0M442.3 418.3h0M449.5 414.2h0M478.3 468.0h0M483.3 469.8h0M443.6 419.4h0M455.6 399.9h0M453.6 402.5h0M462.0 429.8h0M471.4 434.2h0M448.7 404.6h0M475.5 476.9h0M456.3 403.9h0M432.5 476.6h0M466.2 437.9h0M447.4 408.7h0M456.6 406.6h0M444.0 436.1h0M454.1 399.5h0M439.4 431.4h0M462.4 429.2h0M451.2 400.0h0M460.2 406.5h0M445.0 410.1h0M459.2 423.4h0M449.0 415.0h0M475.3 440.8h0M441.2 428.6h0M455.6 415.7h0M484.0 467.7h0M452.9 400.2h0M455.0 480.0h0M462.7 407.8h0M462.5 422.4h0M455.0 402.0h0M455.3 415.7h0M448.2 405.6h0M437.0 435.4h0M461.9 423.5h0M452.6 447.3h0M454.6 446.3h0M449.3 401.6h0M433.9 445.6h0M443.7 490.5h0M440.1 480.1h0M464.2 414.8h0M461.9 418.0h0M463.3 441.5h0M452.7 400.9h0M440.5 456.5h0M442.1 440.8h0M425.2 448.9h0M453.9 411.5h0M459.1 402.4h0M454.0 422.2h0M457.1 402.8h0M467.0 447.4h0M450.9 419.1h0M453.6 415.7h0M453.2 399.1h0M451.1 404.3h0M456.8 407.9h0M439.0 421.1h0M458.3 402.8h0M443.4 425.7h0M463.5 415.1h0M458.1 416.4h0M455.1 413.3h0M438.2 428.2h0M473.5 480.6h0M462.5 418.9h0M424.6 464.3h0M471.1 480.2h0M463.6 408.9h0M464.3 466.7h0M449.0 410.1h0M449.1 418.2h0M441.3 421.0h0M458.3 420.1h0M453.2 409.1h0M452.6 399.8h0M454.4 399.1h0M454.3 440.4h0M457.1 423.1h0M453.6 398.6h0M454.6 408.5h0M460.9 419.3h0M465.7 427.1h0M467.2 418.9h0M440.5 420.4h0M466.0 420.2h0M444.3 416.4h0M466.5 463.9h0M436.1 424.5h0M459.7 420.1h0M443.0 421.7h0M453.2 419.9h0M455.9 440.6h0M471.2 455.9h0M437.7 421.3h0M458.9 450.1h0M468.0 428.5h0M448.8 490.9h0M452.7 413.8h0M439.0 430.2h0M455.7 445.1h0M476.1 452.9h0M448.3 443.7h0M438.9 439.0h0M447.8 418.6h0M466.1 451.2h0M439.2 438.7h0M458.6 403.3h0M469.1 427.1h0M440.7 456.7h0M429.4 460.8h0M453.1 399.0h0M442.0 428.2h0M468.7 415.8h0M444.4 431.8h0M455.2 419.0h0M448.2 437.8h0M458.7 417.9h0M447.6 496.4h0M446.2 442.4h0M463.5 464.4h0M467.5 422.8h0M457.6 404.8h0M477.4 449.7h0M445.2 413.3h0M451.9 404.7h0M460.3 468.0h0M452.2 399.7h0M450.3 403.9h0M445.7 420.3h0M456.7 404.1h0M466.8 447.8h0M446.3 420.8h0M463.3 424.8h0M447.4 413.3h0M436.1 424.9h0M450.5 407.5h0M453.8 422.4h0M448.4 412.0h0M441.3 434.4h0M443.4 496.5h0M428.9 479.3h0M452.8 412.4h0M448.1 406.4h0M459.7 415.4h0M430.6 466.8h0M460.5 417.3h0M471.0 464.0h0M454.7 414.6h0M444.3 419.7h0M453.8 402.6h0M451.6 409.7h0M457.6 422.7h0M446.9 413.0h0M467.2 427.5h0M459.3 402.2h0M471.8 498.8h0M465.4 441.9h0M474.2 427.3h0M451.5 399.7h0M442.6 410.8h0M446.0 408.7h0M449.6 401.1h0M453.4 398.8h0M473.2 459.9h0M450.7 473.7h0M459.5 403.0h0M435.1 459.5h0M464.6 424.8h0M469.9 419.0h0M431.9 445.2h0M455.6 407.7h0M454.7 399.4h0M451.9 408.6h0M455.3 407.0h0M451.8 399.8h0M452.3 434.7h0M451.6 401.6h0M461.5 409.0h0M470.4 430.0h0M454.5 399.2h0M454.9 412.9h0M471.9 436.9h0M464.7 416.9h0M456.0 498.7h0M441.9 412.2h0M466.0 430.1h0M438.7 441.8h0M470.0 423.3h0M429.0 439.0h0M433.6 479.1h0M460.8 408.8h0M455.1 399.7h0M468.5 420.3h0M458.8 439.4h0M468.6 498.8h0M471.9 468.8h0M438.8 435.0h0M442.9 423.3h0M446.3 411.3h0M445.2 408.2h0M450.7 425.2h0M455.9 405.8h0M450.6 404.0h0M449.3 451.7h0M455.6 448.2h0M454.6 459.1h0M466.1 477.8h0M457.1 417.5h0M455.2 415.7h0M448.2 404.2h0M453.4 413.3h0M454.2 398.8h0M429.3 437.8h0M447.9 404.5h0M458.0 411.7h0M459.0 409.9h0M454.4 461.8h0M454.1 399.1h0M453.2 437.5h0M469.4 425.9h0M453.8 400.1h0M451.3 406.7h0M452.8 399.0h0M462.8 480.6h0M468.6 415.8h0M452.3 401.2h0M453.6 408.2h0M466.2 413.6h0M438.9 425.7h0M476.0 462.9h0M439.8 421.1h0M466.2 416.6h0M474.2 441.1h0M447.1 414.2h0M453.4 401.5h0M451.4 433.5h0M442.8 438.9h0M451.5 407.6h0M454.7 429.2h0M457.4 412.3h0M470.3 467.5h0M465.9 468.5h0M465.2 426.7h0M452.7 400.3h0M447.8 432.1h0M463.4 437.7h0M451.6 406.8h0M456.7 433.1h0M430.5 427.1h0M448.6 430.3h0M451.8 399.5h0M431.2 432.4h0M478.7 478.5h0M468.1 425.7h0M469.8 469.8h0M451.7 417.3h0M454.2 468.0h0M464.7 419.2h0M453.1 398.5h0M450.8 400.5h0M458.6 410.4h0M463.3 413.3h0M452.8 400.1h0M446.0 408.9h0M447.8 453.2h0M452.4 398.9h0M477.7 485.1h0M445.8 465.9h0M467.5 419.8h0M463.9 441.3h0M425.1 457.4h0M453.8 399.5h0M453.7 398.5h0M440.5 432.9h0M439.9 432.7h0M457.3 444.3h0M467.8 422.9h0M453.2 400.9h0M456.5 440.1h0M452.2 401.9h0M451.7 456.9h0M456.5 409.1h0M452.8 451.9h0M468.3 417.1h0M451.9 410.4h0M457.0 416.5h0M470.8 443.0h0M449.7 423.5h0M457.9 475.0h0M449.3 402.9h0M441.1 465.4h0M455.2 473.1h0M454.0 444.9h0M461.3 424.8h0M471.5 477.8h0M464.7 433.9h0M455.1 416.6h0M439.9 422.8h0M455.6 423.1h0M443.3 414.4h0M447.3 403.7h0M455.8 407.4h0M444.7 425.3h0M445.8 406.6h0M437.2 425.0h0M461.6 437.0h0M445.4 405.3h0M451.5 399.8h0M460.4 415.9h0M454.3 410.9h0M453.2 413.7h0M459.1 413.7h0M457.2 407.1h0M464.6 452.2h0M458.3 439.4h0M457.8 408.7h0M455.6 409.4h0M461.5 411.1h0M465.6 415.2h0M452.1 399.5h0M470.1 440.4h0M448.2 410.2h0M458.2 431.2h0M457.9 426.4h0M451.9 423.0h0M467.6 416.9h0M430.6 456.8h0M446.0 417.6h0M447.6 466.9h0M452.6 399.2h0M466.8 428.3h0M449.5 402.0h0M467.7 424.9h0M454.2 473.4h0M449.7 401.4h0M464.0 458.1h0M443.5 409.4h0M452.5 417.7h0M449.8 402.9h0M453.0 399.1h0M461.0 411.3h0M449.5 400.8h0M470.5 426.8h0M447.2 406.6h0M451.3 489.7h0M465.0 408.8h0M462.4 421.9h0M463.0 407.5h0M433.0 467.7h0M453.4 401.1h0M444.2 454.4h0M444.5 428.0h0M456.7 403.9h0M453.5 490.8h0M443.1 418.0h0M470.2 448.6h0M463.9 410.9h0M450.3 408.6h0M450.5 415.0h0M463.3 418.6h0M446.4 426.1h0M473.6 427.4h0M459.5 428.0h0M460.8 430.9h0M449.5 416.5h0M446.7 455.4h0M452.0 487.3h0M458.9 407.2h0M470.4 437.1h0M446.8 404.7h0M452.5 399.3h0M460.9 437.1h0M445.8 443.3h0M459.7 407.6h0M469.5 421.7h0M455.8 440.5h0M455.7 410.2h0M461.1 429.6h0M457.2 402.3h0M457.9 451.5h0M477.4 443.2h0M451.3 399.7h0M433.2 452.8h0M455.0 422.0h0M453.0 400.9h0M472.2 449.0h0M439.6 419.9h0M454.0 398.8h0M444.1 428.6h0M453.2 400.4h0M463.0 488.3h0M451.1 427.4h0M463.4 425.4h0M456.7 410.9h0M450.1 419.9h0M459.4 446.4h0M452.8 492.3h0M419.5 454.3h0M444.6 411.2h0M468.1 421.3h0M463.9 415.5h0M444.8 427.5h0M447.8 420.4h0M437.1 480.7h0M455.4 406.3h0M453.6 448.7h0M454.2 405.0h0M449.2 441.0h0M462.1 458.1h0M443.3 413.2h0M459.2 412.2h0M454.7 403.7h0M437.4 461.3h0M447.3 419.2h0M455.2 406.9h0M455.9 403.8h0M443.5 438.8h0M433.1 440.8h0M452.2 400.8h0M464.3 421.9h0M460.9 443.2h0M458.3 408.0h0M454.8 399.9h0M453.2 404.1h0M453.9 424.1h0M440.7 429.3h0M445.3 423.9h0M470.9 423.0h0M455.0 400.6h0M456.6 493.7h0M452.0 459.7h0M454.9 461.8h0M450.4 404.5h0M467.1 432.9h0M459.8 402.7h0M461.8 423.3h0M451.2 414.1h0M441.6 466.4h0M456.2 411.9h0M460.2 413.3h0M467.7 460.8h0M451.6 399.6h0M470.0 461.8h0M456.4 465.3h0M448.2 431.3h0M464.5 437.8h0M451.0 419.5h0M451.9 399.7h0M437.6 430.3h0M449.2 409.3h0M453.7 400.6h0M458.0 403.2h0M448.8 412.4h0M452.1 433.4h0M442.6 412.5h0M453.8 425.7h0M462.6 442.9h0M456.3 452.5h0M445.4 409.0h0M450.1 408.0h0M459.4 463.6h0M450.2 412.5h0M466.3 423.8h0M458.7 415.8h0M460.5 421.1h0M449.1 404.4h0M453.3 398.5h0M447.4 405.2h0M456.9 424.0h0M439.8 484.4h0M434.7 447.4h0M451.1 412.4h0M473.9 453.4h0M469.2 442.2h0M453.0 401.2h0M451.5 401.4h0M455.8 414.2h0M457.1 418.7h0M439.9 425.2h0M464.6 489.6h0M450.6 400.3h0M476.0 425.4h0M445.9 407.2h0M444.7 429.7h0M461.4 412.1h0M452.9 399.2h0M452.0 400.2h0M453.1 398.6h0M438.6 423.5h0M463.4 406.4h0M459.1 402.4h0M444.2 442.8h0M467.0 411.7h0M465.9 419.5h0M446.5 468.5h0M454.6 409.9h0M444.7 421.5h0M452.1 441.8h0M460.6 414.3h0M472.2 457.4h0M466.2 415.9h0M450.3 403.2h0M453.8 401.2h0M442.6 444.9h0M449.8 422.8h0M460.1 403.1h0M454.3 404.6h0M466.7 477.3h0M452.8 398.9h0M453.4 398.8h0M453.9 431.6h0M445.5 468.7h0M473.8 462.7h0M442.1 419.4h0M453.2 402.8h0M462.0 447.9h0M459.1 502.9h0M457.4 414.4h0M446.1 440.8h0M447.3 478.5h0M457.0 430.8h0M451.3 416.8h0M451.5 410.3h0M458.3 432.2h0M458.0 402.4h0M446.3 457.0h0M460.4 412.7h0M452.5 399.3h0M463.8 449.1h0M466.7 439.9h0M454.8 402.0h0M473.0 454.2h0M465.6 424.3h0M456.7 467.5h0M446.7 426.8h0M455.9 420.4h0M450.5 437.7h0M439.7 430.6h0M459.6 404.6h0M442.8 411.1h0M447.1 409.6h0M445.0 440.4h0M457.6 484.7h0M461.0 414.0h0M455.6 402.8h0M447.4 403.8h0M452.9 407.0h0M455.0 415.6h0M441.1 424.6h0M444.3 412.3h0M440.6 416.1h0M453.0 413.3h0M445.7 440.0h0M450.3 400.6h0M450.2 400.8h0M432.9 464.7h0M446.5 419.8h0M452.8 398.7h0M465.6 422.9h0M458.8 415.4h0M437.9 426.9h0M452.0 434.1h0M459.1 451.8h0M460.3 412.6h0M459.3 435.3h0M446.4 420.3h0M453.6 399.3h0M468.8 415.7h0M484.8 472.9h0M457.9 423.2h0M471.5 419.1h0M458.0 418.4h0M467.1 442.5h0M460.9 405.4h0M473.4 466.8h0M456.3 403.0h0M450.2 400.8h0M474.5 424.1h0M474.9 473.3h0M437.4 427.2h0M449.1 416.1h0M449.4 460.5h0M458.0 407.3h0M436.9 425.6h0M462.4 472.8h0M443.7 452.0h0M479.1 470.5h0M449.9 448.4h0M453.7 398.6h0M454.4 400.5h0M453.2 399.4h0M453.7 446.5h0M471.7 488.6h0M447.5 427.6h0M452.7 399.0h0M445.0 419.5h0M460.2 436.4h0M456.3 410.5h0M455.2 416.1h0M447.0 411.0h0M477.7 495.7h0M446.3 409.7h0M448.2 410.8h0M463.6 452.7h0M434.8 432.3h0M477.2 483.9h0M447.7 403.7h0M451.2 400.6h0M466.1 421.6h0M457.3 408.7h0M467.6 481.9h0M456.4 417.5h0M465.4 417.9h0M458.0 497.5h0M448.1 427.9h0M453.1 402.8h0M461.9 406.6h0M448.5 405.1h0M489.8 468.2h0M455.0 401.4h0M454.2 399.0h0M450.9 425.8h0M439.6 429.3h0M460.1 404.1h0M451.1 424.9h0M453.2 401.0h0M452.9 443.8h0M459.9 404.2h0M439.7 438.6h0M449.6 445.1h0M458.8 428.4h0M456.9 402.7h0M473.2 481.7h0M457.9 407.8h0M439.5 479.0h0M467.0 417.0h0M443.4 417.3h0M451.2 403.3h0M458.4 401.8h0M463.5 415.3h0M445.4 409.7h0M439.6 421.0h0M463.0 426.7h0M463.4 410.2h0M453.8 431.0h0M443.7 446.1h0M458.4 401.7h0M461.6 407.7h0M476.7 454.5h0M451.8 403.7h0M460.4 414.5h0M479.2 469.9h0M455.3 473.1h0M441.3 464.7h0M454.4 433.6h0M462.4 452.6h0M459.8 416.0h0M451.9 464.1h0M458.6 404.9h0M451.9 400.3h0M456.0 400.8h0M468.4 464.5h0M449.7 404.8h0M476.2 444.6h0M454.5 407.8h0M463.9 408.6h0M457.1 427.5h0M452.9 398.6h0M445.7 448.6h0M460.5 427.3h0M470.0 444.9h0M447.0 424.3h0M469.3 422.1h0M445.1 484.5h0M454.1 399.4h0M452.2 455.6h0M440.6 419.0h0M455.4 434.7h0M444.4 412.8h0M440.9 423.4h0M454.3 406.5h0M467.0 450.6h0M453.6 398.8h0M467.5 413.3h0M442.9 448.0h0M460.6 430.8h0M453.4 398.6h0M448.1 404.4h0M457.1 430.2h0M452.9 400.4h0M446.4 421.9h0M456.3 411.8h0M445.1 409.3h0M454.0 402.7h0M451.2 412.1h0M446.5 490.7h0M452.1 404.6h0M452.0 419.1h0M447.0 438.6h0M447.2 437.7h0M464.0 440.7h0M454.9 399.4h0M454.5 403.3h0M459.4 450.8h0M448.6 485.0h0M447.1 448.7h0M465.3 460.3h0M439.3 420.2h0M452.9 399.1h0M465.0 411.8h0M466.8 461.7h0M450.7 485.7h0M465.1 417.9h0M460.2 418.0h0M460.6 404.8h0M455.2 431.3h0M452.0 403.4h0M462.4 425.5h0M466.7 411.7h0M452.2 399.1h0M451.7 399.9h0M451.4 409.4h0M452.6 402.1h0M454.3 413.4h0M463.2 422.7h0M451.6 399.6h0M446.6 456.7h0M446.3 407.0h0M458.0 483.3h0M466.0 411.7h0M467.4 417.4h0M457.8 414.9h0M463.6 438.2h0M466.2 412.1h0M465.9 436.3h0M450.9 452.8h0M458.6 408.2h0M451.0 424.1h0M449.9 406.7h0M447.4 407.3h0M442.4 454.5h0M445.7 409.9h0M451.1 400.1h0M463.5 425.0h0M463.5 406.9h0M448.0 412.7h0M453.8 399.0h0M438.5 427.8h0M453.2 398.7h0M468.0 442.7h0M484.0 477.2h0M448.4 418.9h0M456.8 507.1h0M449.1 412.1h0M469.5 424.8h0M437.9 459.5h0M454.2 399.9h0M454.9 412.3h0M460.7 420.0h0M467.5 420.8h0M455.3 401.0h0M453.1 398.5h0M471.3 421.8h0M444.8 413.9h0M462.4 484.6h0M456.0 401.9h0M449.0 401.7h0M459.9 404.6h0M454.7 462.8h0M453.9 407.5h0M435.9 486.3h0M442.2 448.2h0M444.3 433.6h0M442.3 452.5h0M451.5 487.8h0M459.9 450.4h0M451.5 410.2h0M438.6 439.1h0M444.9 486.2h0M465.0 453.9h0M432.7 446.6h0M448.4 429.2h0M455.5 401.1h0M449.5 429.9h0M470.9 419.3h0M443.3 469.7h0M455.0 437.4h0M446.4 430.6h0M442.4 412.9h0M443.7 411.2h0M459.8 456.1h0M452.4 399.1h0M447.5 404.1h0M428.4 483.9h0M453.3 400.0h0M473.0 440.1h0M455.5 408.3h0M457.0 406.1h0M454.4 401.2h0M442.8 414.6h0M455.1 400.3h0M453.2 398.6h0M444.5 466.8h0M440.6 429.3h0M460.2 404.9h0M456.0 412.8h0M446.0 405.4h0M456.6 431.5h0M451.1 431.0h0M452.3 403.4h0M472.0 421.6h0M446.2 416.0h0M449.6 400.8h0"/>
<line x1="379.40" y1="400.30" x2="528.30" y2="400.30" stroke="#222" stroke-width="0.9"/>
<line x1="379.40" y1="424.90" x2="528.30" y2="424.90" stroke="#2b2bdd" stroke-width="1.0"/>
<line x1="443.40" y1="394.10" x2="443.40" y2="540.80" stroke="#2121d9" stroke-width="1.0"/>
<line x1="464.50" y1="394.10" x2="464.50" y2="540.80" stroke="#2121d9" stroke-width="1.0"/>
<text x="381.70" y="399.30" font-size="6.2" text-anchor="start" fill="#231f20">6,233</text>
<text x="525.60" y="399.30" font-size="6.2" text-anchor="end" fill="#231f20">6,100</text>
<text x="381.70" y="406.90" font-size="6.2" text-anchor="start" fill="#231f20">183</text>
<text x="525.60" y="406.90" font-size="6.2" text-anchor="end" fill="#231f20">256</text>
<text x="385.00" y="435.50" font-size="6.4" text-anchor="start" fill="#231f20" font-style="italic">Adrb3</text>
<line x1="402.80" y1="434.60" x2="424.00" y2="446.50" stroke="#222" stroke-width="0.55"/>
<circle cx="424.50" cy="446.80" r="1.6" fill="#000"/>
<text x="386.30" y="444.60" font-size="6.4" text-anchor="start" fill="#231f20" font-style="italic">Lipe</text>
<line x1="398.40" y1="443.60" x2="424.00" y2="449.80" stroke="#222" stroke-width="0.55"/>
<circle cx="425.00" cy="450.00" r="1.6" fill="#000"/>
<text x="385.50" y="453.50" font-size="6.4" text-anchor="start" fill="#231f20" font-style="italic">Pparg</text>
<line x1="402.60" y1="451.60" x2="430.00" y2="451.60" stroke="#222" stroke-width="0.55"/>
<circle cx="416.40" cy="451.20" r="1.6" fill="#000"/>
<text x="384.00" y="462.30" font-size="6.4" text-anchor="start" fill="#231f20" font-style="italic">Fabp4</text>
<line x1="402.60" y1="460.40" x2="425.60" y2="458.80" stroke="#222" stroke-width="0.55"/>
<circle cx="425.80" cy="458.60" r="1.6" fill="#000"/>
<text x="394.00" y="482.30" font-size="6.4" text-anchor="start" fill="#231f20" font-style="italic">Adipoq</text>
<line x1="413.80" y1="479.20" x2="430.00" y2="468.80" stroke="#222" stroke-width="0.55"/>
<circle cx="430.00" cy="468.60" r="1.6" fill="#000"/>
<text x="407.40" y="491.00" font-size="6.4" text-anchor="start" fill="#231f20" font-style="italic">Plin4</text>
<line x1="421.60" y1="487.40" x2="437.00" y2="472.60" stroke="#222" stroke-width="0.55"/>
<text x="412.40" y="503.50" font-size="6.4" text-anchor="start" fill="#231f20" font-style="italic">Apoe</text>
<line x1="421.00" y1="497.60" x2="434.00" y2="477.50" stroke="#222" stroke-width="0.55"/>
<text x="424.20" y="514.00" font-size="6.4" text-anchor="start" fill="#231f20" font-style="italic">Cd36</text>
<line x1="432.80" y1="508.60" x2="432.80" y2="489.50" stroke="#222" stroke-width="0.55"/>
<circle cx="432.80" cy="489.50" r="1.6" fill="#000"/>
<text x="499.10" y="433.30" font-size="6.4" text-anchor="start" fill="#231f20" font-style="italic">Il6</text>
<line x1="499.10" y1="435.00" x2="484.00" y2="452.00" stroke="#222" stroke-width="0.55"/>
<circle cx="484.00" cy="452.30" r="1.6" fill="#000"/>
<text x="507.70" y="442.80" font-size="6.4" text-anchor="start" fill="#231f20" font-style="italic">Fgf23</text>
<line x1="508.10" y1="443.40" x2="493.10" y2="465.10" stroke="#222" stroke-width="0.55"/>
<circle cx="499.10" cy="466.10" r="1.6" fill="#000"/>
<text x="492.70" y="453.40" font-size="6.4" text-anchor="start" fill="#231f20" font-style="italic">Ccl7</text>
<line x1="494.10" y1="454.40" x2="485.10" y2="465.10" stroke="#222" stroke-width="0.55"/>
<circle cx="485.10" cy="465.50" r="1.6" fill="#000"/>
<text x="513.70" y="455.40" font-size="6.4" text-anchor="start" fill="#231f20" font-style="italic">Il33</text>
<line x1="514.10" y1="457.30" x2="493.10" y2="481.20" stroke="#222" stroke-width="0.55"/>
<circle cx="491.70" cy="481.80" r="1.6" fill="#000"/>
<text x="500.10" y="480.20" font-size="6.4" text-anchor="start" fill="#231f20" font-style="italic">Lcn2</text>
<line x1="504.50" y1="481.40" x2="504.50" y2="485.60" stroke="#222" stroke-width="0.55"/>
<circle cx="504.50" cy="485.80" r="1.6" fill="#000"/>
<text x="509.70" y="473.40" font-size="6.4" text-anchor="start" fill="#231f20" font-style="italic">Cxcl5</text>
<line x1="519.70" y1="476.30" x2="521.20" y2="504.20" stroke="#222" stroke-width="0.55"/>
<circle cx="521.20" cy="504.60" r="1.6" fill="#000"/>
<text x="504.10" y="501.90" font-size="6.4" text-anchor="start" fill="#231f20" font-style="italic">Saa3</text>
<line x1="515.10" y1="502.40" x2="522.60" y2="517.20" stroke="#222" stroke-width="0.55"/>
<circle cx="522.80" cy="517.60" r="1.6" fill="#000"/>
<text x="475.00" y="516.00" font-size="6.4" text-anchor="start" fill="#231f20" font-style="italic">Col2</text>
<line x1="485.10" y1="509.20" x2="490.10" y2="505.40" stroke="#222" stroke-width="0.55"/>
<circle cx="490.10" cy="505.20" r="1.6" fill="#000"/>
<text x="485.10" y="523.60" font-size="6.4" text-anchor="start" fill="#231f20" font-style="italic">Cxcl7</text>
<line x1="494.50" y1="517.40" x2="497.10" y2="512.20" stroke="#222" stroke-width="0.55"/>
<circle cx="497.10" cy="511.80" r="1.6" fill="#000"/>
<text x="506.10" y="525.60" font-size="6.4" text-anchor="start" fill="#231f20" font-style="italic">Csf3</text>
<line x1="509.70" y1="519.80" x2="508.10" y2="512.20" stroke="#222" stroke-width="0.55"/>
<circle cx="508.10" cy="509.80" r="1.6" fill="#000"/>
<circle cx="485.10" cy="532.30" r="1.6" fill="#000"/>
<circle cx="496.10" cy="485.80" r="1.6" fill="#000"/>
<circle cx="488.10" cy="485.20" r="1.6" fill="#000"/>
<circle cx="487.10" cy="491.20" r="1.6" fill="#000"/>
<circle cx="416.50" cy="467.00" r="1.6" fill="#000"/>
<circle cx="412.00" cy="470.50" r="1.6" fill="#000"/>
<circle cx="419.00" cy="476.00" r="1.6" fill="#000"/>
<circle cx="425.50" cy="486.00" r="1.6" fill="#000"/>
<circle cx="426.00" cy="495.50" r="1.6" fill="#000"/>
<circle cx="436.00" cy="512.00" r="1.6" fill="#000"/>
<text x="373.80" y="403.40" font-size="7.6" text-anchor="end" fill="#231f20">1</text>
<text x="372.5" y="461" font-size="7.2" text-anchor="end" fill="#231f20">10<tspan font-size="5" dy="-3">−3</tspan></text>
<text x="372.5" y="519" font-size="7.2" text-anchor="end" fill="#231f20">10<tspan font-size="5" dy="-3">−6</tspan></text>
<text x="390.40" y="551.60" font-size="7.7" text-anchor="middle" fill="#231f20">0.016</text>
<text x="454.20" y="551.60" font-size="7.7" text-anchor="middle" fill="#231f20">1</text>
<text x="517.50" y="551.60" font-size="7.7" text-anchor="middle" fill="#231f20">64</text>
<text transform="translate(355,464.7) rotate(-90)" font-size="8.2" text-anchor="middle" textLength="112" lengthAdjust="spacingAndGlyphs" fill="#231f20"><tspan font-style="italic">P</tspan> value: Irisin/HSP90α vs PBS</text>
<text x="531.00" y="565.40" font-size="8.4" text-anchor="middle" fill="#231f20" textLength="101.7" lengthAdjust="spacingAndGlyphs">FC: Irisin/HSP90α vs PBS</text>
<text x="345.30" y="356.40" font-size="12.6" text-anchor="start" fill="#000" font-weight="bold">g</text>
<rect x="533.60" y="394.1" width="148.90" height="146.70" fill="none" stroke="#9a9a9a" stroke-width="0.7"/>
<line x1="533.60" y1="394.10" x2="682.50" y2="394.10" stroke="#b0b0b0" stroke-width="1.3"/>
<line x1="533.60" y1="540.80" x2="682.50" y2="540.80" stroke="#333" stroke-width="0.8"/>
<line x1="533.60" y1="394.10" x2="533.60" y2="540.80" stroke="#333" stroke-width="0.8"/>
<line x1="533.99" y1="540.80" x2="533.99" y2="542.40" stroke="#333" stroke-width="0.6"/>
<line x1="544.62" y1="540.80" x2="544.62" y2="542.40" stroke="#333" stroke-width="0.6"/>
<line x1="555.25" y1="540.80" x2="555.25" y2="542.40" stroke="#333" stroke-width="0.6"/>
<line x1="565.88" y1="540.80" x2="565.88" y2="542.40" stroke="#333" stroke-width="0.6"/>
<line x1="576.51" y1="540.80" x2="576.51" y2="542.40" stroke="#333" stroke-width="0.6"/>
<line x1="587.14" y1="540.80" x2="587.14" y2="542.40" stroke="#333" stroke-width="0.6"/>
<line x1="597.77" y1="540.80" x2="597.77" y2="542.40" stroke="#333" stroke-width="0.6"/>
<line x1="608.40" y1="540.80" x2="608.40" y2="542.40" stroke="#333" stroke-width="0.6"/>
<line x1="619.03" y1="540.80" x2="619.03" y2="542.40" stroke="#333" stroke-width="0.6"/>
<line x1="629.66" y1="540.80" x2="629.66" y2="542.40" stroke="#333" stroke-width="0.6"/>
<line x1="640.29" y1="540.80" x2="640.29" y2="542.40" stroke="#333" stroke-width="0.6"/>
<line x1="650.92" y1="540.80" x2="650.92" y2="542.40" stroke="#333" stroke-width="0.6"/>
<line x1="661.55" y1="540.80" x2="661.55" y2="542.40" stroke="#333" stroke-width="0.6"/>
<line x1="672.18" y1="540.80" x2="672.18" y2="542.40" stroke="#333" stroke-width="0.6"/>
<line x1="531.00" y1="400.30" x2="533.60" y2="400.30" stroke="#333" stroke-width="0.6"/>
<line x1="532.70" y1="406.10" x2="533.60" y2="406.10" stroke="#333" stroke-width="0.35"/>
<line x1="532.70" y1="409.49" x2="533.60" y2="409.49" stroke="#333" stroke-width="0.35"/>
<line x1="532.70" y1="411.90" x2="533.60" y2="411.90" stroke="#333" stroke-width="0.35"/>
<line x1="532.70" y1="413.77" x2="533.60" y2="413.77" stroke="#333" stroke-width="0.35"/>
<line x1="532.70" y1="415.29" x2="533.60" y2="415.29" stroke="#333" stroke-width="0.35"/>
<line x1="532.70" y1="416.59" x2="533.60" y2="416.59" stroke="#333" stroke-width="0.35"/>
<line x1="532.70" y1="417.70" x2="533.60" y2="417.70" stroke="#333" stroke-width="0.35"/>
<line x1="532.70" y1="418.69" x2="533.60" y2="418.69" stroke="#333" stroke-width="0.35"/>
<line x1="532.00" y1="419.57" x2="533.60" y2="419.57" stroke="#333" stroke-width="0.6"/>
<line x1="532.70" y1="425.37" x2="533.60" y2="425.37" stroke="#333" stroke-width="0.35"/>
<line x1="532.70" y1="428.76" x2="533.60" y2="428.76" stroke="#333" stroke-width="0.35"/>
<line x1="532.70" y1="431.17" x2="533.60" y2="431.17" stroke="#333" stroke-width="0.35"/>
<line x1="532.70" y1="433.04" x2="533.60" y2="433.04" stroke="#333" stroke-width="0.35"/>
<line x1="532.70" y1="434.56" x2="533.60" y2="434.56" stroke="#333" stroke-width="0.35"/>
<line x1="532.70" y1="435.86" x2="533.60" y2="435.86" stroke="#333" stroke-width="0.35"/>
<line x1="532.70" y1="436.97" x2="533.60" y2="436.97" stroke="#333" stroke-width="0.35"/>
<line x1="532.70" y1="437.96" x2="533.60" y2="437.96" stroke="#333" stroke-width="0.35"/>
<line x1="532.00" y1="438.84" x2="533.60" y2="438.84" stroke="#333" stroke-width="0.6"/>
<line x1="532.70" y1="444.64" x2="533.60" y2="444.64" stroke="#333" stroke-width="0.35"/>
<line x1="532.70" y1="448.03" x2="533.60" y2="448.03" stroke="#333" stroke-width="0.35"/>
<line x1="532.70" y1="450.44" x2="533.60" y2="450.44" stroke="#333" stroke-width="0.35"/>
<line x1="532.70" y1="452.31" x2="533.60" y2="452.31" stroke="#333" stroke-width="0.35"/>
<line x1="532.70" y1="453.83" x2="533.60" y2="453.83" stroke="#333" stroke-width="0.35"/>
<line x1="532.70" y1="455.13" x2="533.60" y2="455.13" stroke="#333" stroke-width="0.35"/>
<line x1="532.70" y1="456.24" x2="533.60" y2="456.24" stroke="#333" stroke-width="0.35"/>
<line x1="532.70" y1="457.23" x2="533.60" y2="457.23" stroke="#333" stroke-width="0.35"/>
<line x1="531.00" y1="458.11" x2="533.60" y2="458.11" stroke="#333" stroke-width="0.6"/>
<line x1="532.70" y1="463.91" x2="533.60" y2="463.91" stroke="#333" stroke-width="0.35"/>
<line x1="532.70" y1="467.30" x2="533.60" y2="467.30" stroke="#333" stroke-width="0.35"/>
<line x1="532.70" y1="469.71" x2="533.60" y2="469.71" stroke="#333" stroke-width="0.35"/>
<line x1="532.70" y1="471.58" x2="533.60" y2="471.58" stroke="#333" stroke-width="0.35"/>
<line x1="532.70" y1="473.10" x2="533.60" y2="473.10" stroke="#333" stroke-width="0.35"/>
<line x1="532.70" y1="474.40" x2="533.60" y2="474.40" stroke="#333" stroke-width="0.35"/>
<line x1="532.70" y1="475.51" x2="533.60" y2="475.51" stroke="#333" stroke-width="0.35"/>
<line x1="532.70" y1="476.50" x2="533.60" y2="476.50" stroke="#333" stroke-width="0.35"/>
<line x1="532.00" y1="477.38" x2="533.60" y2="477.38" stroke="#333" stroke-width="0.6"/>
<line x1="532.70" y1="483.18" x2="533.60" y2="483.18" stroke="#333" stroke-width="0.35"/>
<line x1="532.70" y1="486.57" x2="533.60" y2="486.57" stroke="#333" stroke-width="0.35"/>
<line x1="532.70" y1="488.98" x2="533.60" y2="488.98" stroke="#333" stroke-width="0.35"/>
<line x1="532.70" y1="490.85" x2="533.60" y2="490.85" stroke="#333" stroke-width="0.35"/>
<line x1="532.70" y1="492.37" x2="533.60" y2="492.37" stroke="#333" stroke-width="0.35"/>
<line x1="532.70" y1="493.67" x2="533.60" y2="493.67" stroke="#333" stroke-width="0.35"/>
<line x1="532.70" y1="494.78" x2="533.60" y2="494.78" stroke="#333" stroke-width="0.35"/>
<line x1="532.70" y1="495.77" x2="533.60" y2="495.77" stroke="#333" stroke-width="0.35"/>
<line x1="532.00" y1="496.65" x2="533.60" y2="496.65" stroke="#333" stroke-width="0.6"/>
<line x1="532.70" y1="502.45" x2="533.60" y2="502.45" stroke="#333" stroke-width="0.35"/>
<line x1="532.70" y1="505.84" x2="533.60" y2="505.84" stroke="#333" stroke-width="0.35"/>
<line x1="532.70" y1="508.25" x2="533.60" y2="508.25" stroke="#333" stroke-width="0.35"/>
<line x1="532.70" y1="510.12" x2="533.60" y2="510.12" stroke="#333" stroke-width="0.35"/>
<line x1="532.70" y1="511.64" x2="533.60" y2="511.64" stroke="#333" stroke-width="0.35"/>
<line x1="532.70" y1="512.94" x2="533.60" y2="512.94" stroke="#333" stroke-width="0.35"/>
<line x1="532.70" y1="514.05" x2="533.60" y2="514.05" stroke="#333" stroke-width="0.35"/>
<line x1="532.70" y1="515.04" x2="533.60" y2="515.04" stroke="#333" stroke-width="0.35"/>
<line x1="531.00" y1="515.92" x2="533.60" y2="515.92" stroke="#333" stroke-width="0.6"/>
<line x1="532.70" y1="521.72" x2="533.60" y2="521.72" stroke="#333" stroke-width="0.35"/>
<line x1="532.70" y1="525.11" x2="533.60" y2="525.11" stroke="#333" stroke-width="0.35"/>
<line x1="532.70" y1="527.52" x2="533.60" y2="527.52" stroke="#333" stroke-width="0.35"/>
<line x1="532.70" y1="529.39" x2="533.60" y2="529.39" stroke="#333" stroke-width="0.35"/>
<line x1="532.70" y1="530.91" x2="533.60" y2="530.91" stroke="#333" stroke-width="0.35"/>
<line x1="532.70" y1="532.21" x2="533.60" y2="532.21" stroke="#333" stroke-width="0.35"/>
<line x1="532.70" y1="533.32" x2="533.60" y2="533.32" stroke="#333" stroke-width="0.35"/>
<line x1="532.70" y1="534.31" x2="533.60" y2="534.31" stroke="#333" stroke-width="0.35"/>
<line x1="532.00" y1="535.19" x2="533.60" y2="535.19" stroke="#333" stroke-width="0.6"/>
<path fill="#000" d="M607.4,399.3 L610.5,400.5 L613.5,402.5 L616.0,405.0 L618.0,408.0 L620.0,411.5 L622.0,415.0 L624.5,419.0 L627.5,423.0 L628.0,426.5 L624.0,430.0 L620.0,433.0 L614.0,436.0 L606.0,436.0 L598.0,434.0 L593.0,431.0 L589.5,427.0 L590.0,423.0 L592.5,419.0 L594.5,415.0 L596.5,411.0 L598.5,407.5 L601.0,404.5 L603.5,402.0 L605.5,400.3 Z"/>
<path stroke="#000" stroke-width="3.2" stroke-linecap="round" d="M610.3 406.2h0M604.1 401.1h0M609.2 442.2h0M612.9 436.2h0M627.3 431.0h0M598.4 409.0h0M612.6 425.7h0M600.2 431.9h0M606.6 403.7h0M607.5 405.5h0M609.1 408.0h0M600.6 421.7h0M612.2 459.0h0M605.7 458.9h0M615.2 418.0h0M602.0 445.5h0M613.4 456.3h0M630.5 428.2h0M599.1 427.5h0M612.9 448.9h0M607.6 408.7h0M625.0 424.0h0M618.3 412.2h0M593.4 503.4h0M592.8 462.6h0M616.6 407.0h0M618.1 435.4h0M606.5 402.3h0M615.2 483.5h0M605.0 472.5h0M619.4 455.9h0M603.4 471.2h0M612.1 453.3h0M607.6 404.7h0M598.5 425.0h0M616.6 408.7h0M614.4 405.9h0M632.4 480.6h0M610.9 404.1h0M619.7 418.5h0M598.4 411.8h0M596.0 452.5h0M602.5 407.6h0M612.3 499.9h0M585.5 457.6h0M614.8 403.5h0M610.6 401.1h0M602.9 411.9h0M596.1 440.0h0M606.6 400.1h0M608.0 405.9h0M611.3 407.1h0M615.3 412.3h0M641.0 462.2h0M597.3 409.3h0M606.9 409.2h0M612.6 432.1h0M581.0 470.8h0M612.3 414.8h0M601.3 406.3h0M616.8 418.9h0M624.4 436.5h0M622.2 425.1h0M601.3 407.1h0M593.5 422.7h0M635.4 452.5h0M610.2 402.8h0M607.1 399.5h0M613.4 439.4h0M598.3 408.6h0M604.3 403.3h0M615.5 407.2h0M611.0 401.7h0M620.6 413.2h0M618.7 416.4h0M607.4 405.4h0M608.0 400.5h0M601.8 486.7h0M596.5 433.3h0M601.6 422.8h0M599.7 425.4h0M614.1 443.5h0M605.3 400.3h0M613.8 406.9h0M615.4 428.1h0M606.4 412.6h0M593.8 421.0h0M604.5 411.7h0M622.4 476.7h0M630.5 489.6h0M595.8 425.5h0M618.0 468.4h0M601.8 409.1h0M606.5 405.8h0M611.7 418.6h0M614.2 436.7h0M603.7 436.9h0M610.6 453.5h0M599.9 451.7h0M604.4 473.5h0M592.1 419.8h0M599.7 435.1h0M599.8 417.8h0M596.0 427.4h0M618.6 417.1h0M604.8 455.8h0M607.4 402.7h0M607.3 400.6h0M610.5 421.0h0M615.3 421.5h0M610.5 422.8h0M606.6 425.7h0M595.3 414.8h0M604.3 405.3h0M597.3 431.8h0M619.3 421.0h0M619.7 411.9h0M615.5 448.0h0M599.9 404.8h0M617.3 449.5h0M617.8 415.5h0M603.3 407.3h0M607.1 418.9h0M603.9 403.2h0M609.4 400.4h0M612.3 452.7h0M602.4 413.7h0M593.3 431.9h0M611.8 453.1h0M612.3 413.1h0M613.0 405.3h0M603.2 412.3h0M598.6 415.3h0M607.1 466.6h0M610.5 404.2h0M597.3 439.2h0M629.3 465.9h0M607.0 399.7h0M601.3 424.3h0M598.3 421.9h0M603.2 410.2h0M630.4 446.4h0M604.5 401.8h0M612.4 401.7h0M604.3 401.7h0M607.8 453.7h0M618.1 412.4h0M607.5 423.8h0M608.9 400.3h0M616.4 488.9h0M608.5 405.1h0M611.0 402.3h0M605.7 413.5h0M595.0 425.4h0M608.4 399.6h0M600.5 410.1h0M599.0 410.6h0M610.5 476.9h0M620.5 432.1h0M604.2 438.7h0M609.2 450.2h0M596.5 413.1h0M607.0 399.7h0M602.2 446.2h0M609.1 404.4h0M607.5 416.1h0M609.8 443.9h0M615.3 457.8h0M613.8 424.2h0M610.1 401.7h0M620.8 429.3h0M612.0 411.8h0M595.5 433.4h0M602.1 411.6h0M605.3 401.4h0M602.8 429.6h0M612.7 435.3h0M595.7 414.8h0M602.4 405.2h0M606.3 410.4h0M604.0 401.9h0M605.8 454.7h0M611.5 418.8h0M605.2 423.5h0M608.7 406.4h0M619.8 435.1h0M603.4 453.7h0M613.1 404.3h0M594.3 423.1h0M608.0 400.3h0M608.8 458.4h0M612.2 416.0h0M571.7 473.9h0M606.6 453.1h0M597.1 426.9h0M613.6 454.8h0M609.8 424.0h0M608.9 410.7h0M604.9 413.7h0M606.2 410.9h0M596.2 416.0h0M594.3 428.2h0M598.8 449.9h0M607.5 401.9h0M600.5 449.6h0M598.4 441.6h0M600.2 413.1h0M603.5 405.8h0M612.5 415.4h0M612.1 508.9h0M607.6 399.6h0M590.7 441.0h0M609.0 413.9h0M599.0 422.6h0M600.3 462.1h0M606.4 399.5h0M597.1 443.8h0M608.5 400.9h0M612.5 402.2h0M619.2 470.3h0M612.7 413.4h0M614.1 487.4h0M619.8 439.2h0M608.7 400.6h0M597.9 416.5h0M601.9 487.7h0M597.8 429.8h0M617.4 409.6h0M588.8 445.2h0M619.4 468.0h0M608.2 430.7h0M620.3 440.6h0M622.2 432.9h0M614.4 406.1h0M600.4 468.5h0M600.1 414.5h0M602.0 475.4h0M591.4 461.8h0M618.0 409.0h0M603.7 406.0h0M605.3 432.8h0M640.1 449.6h0M620.3 437.9h0M605.6 400.0h0M621.8 436.1h0M603.5 419.4h0M613.7 411.0h0M611.2 405.2h0M615.0 430.1h0M611.5 401.5h0M612.4 403.2h0M602.8 413.7h0M617.5 416.5h0M591.7 424.8h0M599.5 410.0h0M600.5 408.8h0M616.9 415.6h0M605.3 404.0h0M608.1 400.3h0M605.3 416.5h0M612.5 426.4h0M597.7 409.3h0M640.0 482.2h0M619.9 416.3h0M591.6 434.1h0M610.7 405.0h0M611.7 406.3h0M618.5 406.3h0M599.1 449.7h0M613.6 430.8h0M617.8 477.2h0M596.6 410.4h0M616.3 406.4h0M603.6 448.9h0M600.4 418.0h0M612.1 420.0h0M608.7 429.5h0M618.1 435.0h0M627.2 478.2h0M597.1 431.8h0M615.5 408.0h0M612.7 460.2h0M616.4 435.3h0M603.5 409.3h0M605.1 469.5h0M609.8 401.5h0M619.2 423.2h0M625.5 433.7h0M594.4 419.6h0M613.2 502.5h0M596.4 412.6h0M603.9 403.4h0M617.5 455.8h0M610.7 412.7h0M604.8 415.4h0M608.0 409.7h0M591.0 428.1h0M621.9 418.0h0M608.6 412.5h0M611.9 428.1h0M590.0 438.7h0M622.9 446.0h0M612.6 403.0h0M611.4 404.2h0M612.8 434.3h0M623.3 421.4h0M617.5 418.4h0M619.0 411.4h0M611.4 451.2h0M579.5 441.0h0M617.9 430.4h0M606.9 422.9h0M626.7 448.4h0M610.4 420.7h0M618.4 413.5h0M605.0 401.7h0M610.8 411.2h0M613.9 407.0h0M615.0 444.2h0M616.3 405.1h0M597.2 455.4h0M613.4 414.0h0M610.5 435.1h0M604.3 417.2h0M599.2 406.4h0M593.7 476.1h0M614.1 408.8h0M606.1 488.2h0M600.4 406.2h0M610.2 458.4h0M605.5 404.4h0M613.4 403.1h0M623.8 497.8h0M618.8 500.5h0M602.5 406.3h0M616.3 407.0h0M609.7 401.2h0M615.4 441.2h0M604.7 400.7h0M609.6 482.6h0M618.3 419.7h0M611.5 405.1h0M608.0 473.8h0M609.8 400.4h0M608.1 404.8h0M627.7 430.3h0M617.8 424.9h0M613.0 443.0h0M618.8 428.4h0M618.1 449.3h0M590.5 441.6h0M622.1 422.5h0M598.7 461.1h0M598.5 423.0h0M607.8 422.2h0M597.3 424.3h0M608.9 413.8h0M621.4 416.6h0M597.1 464.5h0M600.2 406.3h0M604.5 404.0h0M618.6 413.7h0M598.1 446.0h0M611.5 402.7h0M604.2 415.9h0M604.1 455.7h0M623.8 430.5h0M608.2 404.6h0M608.7 405.0h0M600.4 450.5h0M592.9 431.6h0M607.8 419.5h0M610.8 418.1h0M623.7 425.6h0M621.5 411.5h0M603.4 476.6h0M597.7 407.1h0M607.4 407.2h0M598.3 415.0h0M612.5 409.1h0M609.5 400.6h0M615.5 407.8h0M627.5 478.1h0M605.3 417.8h0M597.3 434.9h0M589.3 421.5h0M612.1 425.6h0M604.7 400.6h0M616.3 409.5h0M610.5 407.6h0M615.5 423.2h0M605.3 441.8h0M616.2 409.4h0M597.2 445.8h0M608.3 400.9h0M601.0 408.1h0M613.3 409.0h0M611.0 476.6h0M615.6 404.8h0M606.3 401.2h0M605.4 405.8h0M605.5 414.2h0M613.8 472.1h0M595.7 414.1h0M600.1 473.9h0M575.7 448.0h0M610.4 479.8h0M622.9 437.2h0M614.9 430.2h0M624.0 422.9h0M603.3 436.2h0M623.2 417.4h0M605.9 403.5h0M604.3 401.1h0M619.3 419.7h0M613.0 407.7h0M602.6 411.5h0M610.2 457.1h0M629.7 438.4h0M614.3 422.8h0M612.5 404.1h0M610.3 493.4h0M617.4 439.8h0M614.7 423.8h0M607.0 455.9h0M595.9 428.6h0M596.1 412.8h0M608.8 431.6h0M606.2 407.5h0M599.8 406.4h0M614.0 405.7h0M606.5 405.7h0M600.9 415.8h0M620.6 455.4h0M608.5 406.3h0M607.0 405.4h0M595.3 455.9h0M604.9 432.6h0M590.5 490.8h0M603.0 450.3h0M602.6 450.5h0M601.0 432.3h0M608.7 411.2h0M595.1 448.1h0M610.9 426.5h0M617.0 410.5h0M607.5 419.0h0M607.4 400.6h0M617.3 406.0h0M615.5 416.6h0M619.8 439.7h0M598.4 456.6h0M614.4 407.1h0M593.2 426.0h0M614.1 404.2h0M599.3 411.1h0M602.0 413.5h0M612.9 410.7h0M617.9 457.4h0M604.0 421.6h0M610.0 406.2h0M603.7 424.3h0M602.9 419.8h0M601.5 472.8h0M591.5 444.5h0M605.4 446.9h0M591.3 457.6h0M612.0 418.2h0M595.2 433.5h0M620.8 413.3h0M606.4 438.3h0M604.5 402.9h0M623.9 420.7h0M600.9 414.3h0M619.8 413.3h0M622.3 413.2h0M606.6 480.3h0M597.0 457.4h0M603.3 494.9h0M613.2 405.0h0M605.4 437.7h0M597.8 410.0h0M604.3 461.3h0M603.3 444.8h0M599.0 466.2h0M615.9 449.3h0M609.0 402.0h0M604.5 409.6h0M607.3 469.4h0M617.1 413.5h0M616.6 414.5h0M602.0 430.8h0M596.2 433.2h0M598.5 422.4h0M618.4 433.0h0M616.6 428.0h0M608.3 405.7h0M602.7 458.6h0M612.1 473.5h0M611.4 449.1h0M598.3 406.2h0M590.8 492.0h0M583.5 471.6h0M599.5 419.8h0M596.6 439.2h0M605.5 404.8h0M618.3 434.6h0M600.2 415.9h0M605.5 440.4h0M603.0 401.8h0M588.8 453.5h0M627.3 423.9h0M617.0 450.9h0M600.8 429.5h0M609.4 410.4h0M605.8 405.1h0M613.2 415.6h0M609.6 418.1h0M600.4 424.9h0M616.2 410.1h0M630.5 469.4h0M600.4 442.7h0M596.8 426.0h0M612.7 469.4h0M617.0 454.2h0M607.2 411.1h0M607.4 417.0h0M603.0 403.3h0M608.9 426.4h0M615.2 420.5h0M612.1 402.7h0M601.4 405.7h0M597.1 441.8h0M611.9 412.6h0M610.2 404.2h0M603.5 410.6h0M608.2 399.9h0M608.8 422.6h0M599.9 462.9h0M605.4 443.3h0M611.8 445.6h0M619.6 454.4h0M600.9 417.8h0M618.3 408.8h0M620.5 433.1h0M626.1 428.0h0M609.8 444.4h0M599.9 420.4h0M603.5 402.7h0M609.0 440.1h0M610.6 415.2h0M612.2 402.0h0M594.5 429.2h0M603.2 424.7h0M608.9 400.9h0M597.8 407.1h0M619.9 411.3h0M608.7 416.7h0M601.9 465.8h0M603.5 435.1h0M599.4 405.6h0M594.8 414.3h0M597.8 439.6h0M613.4 404.6h0M615.1 442.4h0M603.8 401.9h0M601.7 410.4h0M597.4 435.6h0M601.9 403.1h0M603.2 401.9h0M597.2 471.9h0M600.7 416.8h0M620.6 412.9h0M610.2 485.0h0M616.3 408.7h0M576.0 473.4h0M609.2 402.2h0M618.3 414.5h0M604.7 458.3h0M599.8 408.6h0M599.8 461.6h0M599.0 429.7h0M592.0 458.7h0M600.6 406.0h0M620.7 432.5h0M608.5 403.6h0M613.9 487.2h0M609.6 425.1h0M612.8 416.6h0M604.2 466.2h0M601.0 408.6h0M602.0 490.4h0M633.5 444.4h0M618.2 413.3h0M597.5 411.5h0M608.0 401.6h0M611.9 402.0h0M594.2 436.3h0M605.6 425.9h0M618.1 419.3h0M581.0 471.6h0M603.4 412.6h0M601.5 473.3h0M612.0 418.2h0M608.3 400.0h0M603.2 406.5h0M608.4 438.9h0M614.9 404.1h0M600.6 415.1h0M599.7 423.9h0M607.2 422.5h0M610.0 435.3h0M608.3 401.8h0M615.4 418.0h0M609.0 411.0h0M600.3 404.1h0M611.9 401.8h0M618.7 408.9h0M623.2 418.5h0M581.9 482.2h0M646.9 466.9h0M600.2 405.8h0M600.3 441.1h0M609.0 405.0h0M616.0 455.6h0M625.5 419.3h0M612.9 420.0h0M602.8 407.3h0M605.7 401.0h0M599.3 408.0h0M597.2 412.9h0M615.9 417.3h0M622.4 422.5h0M605.7 401.3h0M622.7 429.1h0M598.0 441.0h0M609.5 448.1h0M598.7 420.9h0M596.9 450.0h0M617.4 433.7h0M616.4 412.1h0M603.1 412.2h0M594.0 429.6h0M624.1 421.5h0M597.0 445.3h0M609.2 403.5h0M612.4 418.1h0M608.1 399.7h0M621.1 433.9h0M618.7 407.4h0M614.7 408.0h0M605.6 400.6h0M608.8 495.6h0M644.8 466.3h0M606.9 406.4h0M598.9 407.3h0M585.9 427.9h0M612.1 421.3h0M607.6 425.5h0M617.6 416.7h0M610.7 459.9h0M608.0 423.6h0M603.6 447.2h0M607.5 400.5h0M603.0 415.9h0M627.4 430.5h0M619.2 461.0h0M616.6 474.7h0M604.2 404.6h0M605.3 451.5h0M615.9 454.2h0M614.6 424.7h0M606.3 418.8h0M608.8 400.5h0M626.0 446.3h0M599.3 408.6h0M619.1 409.5h0M592.1 468.8h0M611.6 413.6h0M620.6 412.7h0M599.7 409.2h0M595.3 425.5h0M599.8 453.9h0M598.5 434.6h0M610.0 477.3h0M603.6 415.0h0M613.9 448.0h0M594.5 429.9h0M604.1 403.9h0M615.1 503.9h0M618.2 455.9h0M597.3 424.0h0M601.0 428.9h0M596.0 431.4h0M614.8 424.6h0M615.7 471.0h0M606.7 400.0h0M636.2 483.5h0M615.4 404.2h0M603.3 428.0h0M616.0 447.8h0M628.0 441.9h0M611.0 404.0h0M611.0 411.2h0M597.0 410.1h0M611.8 433.9h0M586.7 488.3h0M588.6 488.0h0M609.3 411.0h0M630.1 474.0h0M600.9 403.2h0M604.1 415.5h0M573.6 441.3h0M597.4 426.7h0M615.2 482.0h0M609.6 401.5h0M609.5 400.7h0M614.2 418.4h0M600.2 405.7h0M608.7 417.6h0M602.6 422.1h0M597.9 439.3h0M610.1 404.2h0M603.9 411.8h0M599.9 417.2h0M601.0 406.5h0M599.3 415.8h0M619.5 454.7h0M596.4 421.7h0M616.8 434.9h0M593.2 454.5h0M596.2 416.2h0M597.6 409.3h0M612.3 469.0h0M596.8 465.4h0M602.8 412.8h0M610.1 447.7h0M611.3 426.3h0M596.9 431.1h0M604.7 488.0h0M615.3 483.2h0M600.7 434.0h0M605.2 407.5h0M608.5 447.3h0M628.8 448.9h0M609.2 450.4h0M604.5 415.8h0M620.3 417.0h0M617.5 471.1h0M604.8 449.3h0M609.4 488.3h0M604.1 449.8h0M610.1 417.7h0M606.9 417.7h0M617.0 410.2h0M609.9 410.7h0M616.8 440.1h0M614.8 421.6h0M607.7 421.6h0M611.2 468.8h0M609.8 489.3h0M611.2 402.2h0M613.3 412.2h0M615.5 427.7h0M597.4 411.1h0M617.8 407.3h0M599.6 497.7h0M608.6 499.1h0M600.0 425.3h0M608.7 402.0h0M613.5 475.3h0M599.8 450.0h0M617.8 445.6h0M609.4 488.2h0M605.3 400.2h0M606.0 418.1h0M611.8 406.4h0M597.7 441.1h0M608.5 405.4h0M622.1 485.6h0M615.2 445.1h0M612.6 411.4h0M620.0 413.3h0M608.9 404.8h0M611.6 402.5h0M594.1 457.1h0M605.8 404.1h0M599.4 422.5h0M613.9 436.2h0M620.5 418.3h0M621.2 422.1h0M598.6 413.9h0M603.0 470.1h0M618.8 412.4h0M612.7 414.1h0M608.3 402.9h0M580.2 467.8h0M593.3 449.6h0M603.9 486.9h0M611.7 478.1h0M588.2 456.0h0M616.8 435.4h0M606.9 418.2h0M615.3 423.0h0M599.6 461.2h0M611.4 414.2h0M617.1 438.0h0M609.6 487.0h0M623.6 420.7h0M641.4 499.6h0M621.9 455.8h0M619.9 438.3h0M614.8 489.2h0M598.8 430.0h0M614.1 426.5h0M597.3 420.9h0M608.2 462.0h0M601.3 419.8h0M623.1 422.0h0M620.8 461.9h0M614.9 414.4h0M609.0 413.3h0M598.7 475.6h0M608.0 436.2h0M620.8 417.7h0M609.4 458.4h0M604.9 403.3h0M612.3 406.2h0M616.6 421.0h0M608.9 399.8h0M610.5 402.2h0M617.6 426.8h0M607.4 431.8h0M593.3 419.7h0M607.0 453.7h0M604.9 413.6h0M611.2 401.8h0M609.9 450.9h0M610.7 496.1h0M627.1 431.0h0M600.6 428.2h0M605.1 400.6h0M636.9 493.6h0M600.5 433.5h0M609.5 405.8h0M603.7 404.8h0M588.0 479.2h0M602.4 422.3h0M608.4 399.6h0M605.1 431.9h0M624.5 469.6h0M605.4 400.2h0M612.2 409.5h0M613.5 493.4h0M608.2 400.8h0M618.1 408.3h0M580.8 436.0h0M595.9 485.4h0M611.9 401.7h0M600.7 414.2h0M587.0 430.0h0M594.8 419.6h0M614.6 403.2h0M616.8 412.9h0M609.4 407.7h0M593.7 428.0h0M616.5 416.1h0M606.1 415.0h0M623.1 458.6h0M618.6 415.8h0M618.4 412.9h0M598.8 406.4h0M606.8 401.7h0M612.4 411.0h0M607.8 400.3h0M609.0 400.4h0M621.8 430.4h0M610.8 405.6h0M610.0 408.4h0M615.5 413.9h0M629.2 455.2h0M602.5 425.6h0M598.3 418.9h0M618.7 417.3h0M606.0 405.5h0M606.5 459.4h0M576.4 488.4h0M603.6 446.0h0M610.5 408.9h0M641.5 481.1h0M626.6 488.9h0M610.1 404.4h0M596.8 422.6h0M615.3 411.9h0M615.6 442.2h0M604.6 445.3h0M618.2 441.3h0M621.3 427.4h0M605.1 403.0h0M582.2 459.0h0M619.8 411.3h0M613.0 438.1h0M620.5 442.1h0M604.9 400.3h0M616.1 438.7h0M634.1 455.9h0M603.7 406.1h0M618.4 478.5h0M616.4 496.7h0M615.3 425.5h0M602.0 430.8h0M610.8 424.0h0M609.0 399.7h0M635.8 470.5h0M625.0 420.8h0M607.3 485.5h0M592.2 428.3h0M612.3 444.1h0M604.0 409.7h0M616.0 418.6h0M612.9 410.5h0M605.7 403.9h0M611.0 424.9h0M614.5 444.7h0M599.2 445.7h0M597.7 429.1h0M608.4 405.0h0M610.9 445.0h0M617.5 406.8h0M592.0 423.7h0M610.7 403.9h0M613.2 414.1h0M607.4 399.9h0M598.5 413.6h0M598.3 425.5h0M610.1 420.9h0M588.4 447.1h0M591.4 428.6h0M597.0 477.4h0M610.3 411.5h0M597.7 412.9h0M615.0 412.5h0M604.5 402.0h0M610.0 404.3h0M600.9 429.8h0M596.5 430.7h0M623.1 474.6h0M604.5 409.1h0M607.6 483.6h0M611.9 401.6h0M597.9 412.0h0M590.4 429.0h0M619.4 440.3h0M596.7 412.4h0M607.6 403.7h0M609.1 421.3h0M604.2 418.4h0M628.8 430.2h0M614.4 448.8h0M610.1 401.1h0M621.4 413.1h0M608.4 399.7h0M609.0 422.9h0M609.0 401.0h0M598.6 437.4h0M603.1 425.9h0M602.0 412.7h0M605.7 402.2h0M628.7 483.1h0M622.3 442.0h0M601.9 434.7h0M607.1 399.8h0M600.2 436.4h0M597.2 408.8h0M615.0 433.6h0M621.4 475.9h0M618.8 411.0h0M613.7 415.0h0M612.3 480.3h0M609.4 406.8h0M612.1 433.8h0M599.7 419.1h0M599.8 416.8h0M616.9 448.5h0M614.2 409.0h0M593.2 426.2h0M612.6 432.1h0M612.5 410.5h0M605.5 401.5h0M599.5 434.8h0M593.7 421.3h0M600.0 411.4h0M593.9 419.6h0M601.2 407.8h0M610.5 401.0h0M597.3 453.1h0M612.4 492.1h0M612.5 478.5h0M607.1 412.9h0M618.6 408.9h0M593.1 420.2h0M605.7 400.6h0M602.1 434.5h0M617.1 416.6h0M621.5 412.8h0M613.6 431.6h0M618.1 429.0h0M605.7 400.5h0M596.8 455.8h0M621.1 412.7h0M617.4 411.5h0M622.6 419.0h0M615.4 422.0h0M610.7 409.8h0M611.1 437.3h0M608.4 411.3h0M614.8 435.3h0M603.2 412.4h0M620.2 440.2h0M613.1 425.3h0M624.5 506.9h0M589.7 464.2h0M605.7 400.6h0M623.4 420.8h0M630.8 467.6h0M610.7 447.7h0M606.2 489.1h0M610.0 408.4h0M591.9 422.0h0M602.8 404.9h0M598.1 407.2h0M601.6 419.6h0M598.8 424.2h0M610.2 407.1h0M609.6 416.2h0M605.2 405.2h0M630.1 463.5h0M615.5 405.2h0M619.7 411.8h0M622.9 430.3h0M620.9 415.4h0M620.5 412.9h0M604.3 401.5h0M615.0 434.6h0M606.7 416.2h0M592.9 449.6h0M612.9 466.5h0M603.9 409.5h0M606.1 486.9h0M617.8 466.3h0M612.4 405.1h0M609.8 420.3h0M603.9 402.9h0M611.9 405.8h0M609.5 407.2h0M598.6 426.3h0M619.4 436.1h0M613.0 413.6h0M605.0 401.2h0M585.5 434.8h0M607.3 418.8h0M613.1 409.0h0M612.5 482.0h0M610.3 402.6h0M598.9 407.0h0M607.5 447.6h0M601.5 425.6h0M584.5 475.8h0M596.5 411.7h0M612.8 420.0h0M611.5 402.4h0M597.9 411.8h0M636.5 473.2h0M599.8 422.1h0M597.8 431.6h0M610.7 420.3h0M603.6 415.6h0M616.4 472.5h0M591.1 420.2h0M621.1 417.5h0M628.3 434.2h0M607.8 430.7h0M588.1 432.6h0M598.4 410.0h0M604.4 513.4h0M593.8 424.9h0M601.9 403.2h0M607.8 399.6h0M622.4 425.0h0M625.3 468.4h0M617.6 506.2h0M608.5 455.7h0M598.8 490.1h0M608.8 399.7h0M590.2 432.5h0M607.8 412.2h0M614.4 411.9h0M630.6 472.0h0M604.4 438.4h0M606.2 417.7h0M620.6 411.8h0M610.6 436.6h0M610.7 412.5h0M595.1 427.4h0M586.6 479.6h0M611.1 420.4h0M608.0 468.4h0M598.5 406.2h0M606.6 422.6h0M602.8 421.0h0M598.6 469.7h0M606.2 425.0h0M610.2 484.3h0M604.2 402.1h0M619.2 410.3h0M619.0 413.4h0M601.9 505.1h0M599.6 405.2h0M613.4 404.5h0M623.4 469.1h0M633.9 430.5h0M608.5 400.5h0M607.8 402.1h0M599.8 474.4h0M614.4 412.7h0M621.9 447.6h0M606.7 400.1h0M618.8 418.1h0M620.9 438.8h0M611.4 461.0h0M602.0 402.6h0M604.9 400.8h0M596.0 437.1h0M612.5 414.2h0M608.2 405.0h0M599.8 418.6h0M594.7 418.9h0M608.3 414.6h0M608.4 399.7h0M602.6 406.2h0M624.6 422.8h0M600.4 425.0h0M609.3 401.4h0M605.2 400.8h0M603.9 418.9h0M610.8 423.2h0M613.9 442.6h0M599.5 445.7h0M597.4 418.3h0M609.3 402.8h0M606.6 442.4h0M615.8 424.7h0M594.5 424.5h0M610.4 436.4h0M619.0 437.0h0M622.1 426.6h0M608.8 440.8h0M635.3 505.0h0M629.4 455.4h0M608.8 412.5h0M605.2 437.3h0M613.6 405.9h0M606.4 466.3h0M605.3 408.1h0M628.8 427.2h0M601.7 415.0h0M622.1 424.0h0M598.7 424.0h0M594.9 417.3h0M599.8 422.8h0M601.7 411.1h0M612.4 403.4h0M613.1 436.2h0M603.7 404.4h0M614.6 408.5h0M609.1 414.9h0M607.0 401.2h0M596.4 424.7h0M596.3 429.4h0M608.9 422.8h0M622.5 420.6h0M617.1 434.6h0M598.9 447.5h0M612.5 407.9h0M615.1 437.7h0M605.7 436.6h0M611.2 445.0h0M616.8 414.0h0M608.5 422.3h0M599.4 413.8h0M617.1 465.6h0M618.4 414.5h0M581.7 435.9h0M587.1 431.7h0M596.2 413.8h0M600.8 414.8h0M601.5 456.5h0M614.3 449.3h0M621.2 421.0h0M618.2 421.9h0M617.6 411.4h0M601.8 427.1h0M607.6 399.6h0M609.5 404.8h0M581.2 469.1h0M619.7 458.1h0M607.3 399.5h0M625.8 423.8h0M606.7 408.1h0M585.1 457.9h0M604.4 469.7h0M613.1 441.8h0M602.6 473.7h0M614.7 421.7h0M603.1 427.8h0M587.7 462.7h0M602.0 415.5h0M609.9 402.3h0M613.4 406.6h0M610.1 406.2h0M601.1 420.8h0M620.1 439.5h0M602.9 408.3h0M611.3 421.8h0M600.1 492.3h0M608.9 399.8h0M603.6 402.6h0M601.3 455.7h0M616.1 434.0h0M610.2 406.8h0M608.2 400.2h0M605.0 419.4h0M598.8 440.8h0M597.7 412.8h0M617.0 412.1h0M604.4 404.9h0M594.5 442.1h0M622.0 442.0h0M632.4 450.1h0M613.5 455.6h0M612.6 402.2h0M600.5 413.6h0M610.7 419.6h0M601.2 409.7h0M614.0 404.2h0M617.8 446.1h0M608.7 417.2h0M609.2 412.6h0M614.9 407.7h0M580.5 452.8h0M613.1 410.0h0M604.4 401.3h0M616.4 457.7h0M600.7 407.9h0M604.5 406.6h0M608.4 404.2h0M598.9 408.0h0M605.4 400.9h0M603.1 404.4h0M599.3 416.4h0M621.0 412.8h0M600.5 435.7h0M607.2 450.9h0M605.0 400.5h0M611.1 401.1h0M621.0 433.7h0M605.4 400.5h0M617.3 406.9h0M611.8 401.7h0M609.0 409.1h0M595.7 438.3h0M608.1 427.5h0M620.1 414.1h0M607.7 401.3h0M600.6 420.9h0M608.7 427.4h0M620.8 466.6h0M610.9 411.7h0M604.2 413.1h0M614.3 409.1h0M598.0 417.4h0M617.0 431.2h0M602.1 438.8h0M601.0 406.9h0M603.5 420.3h0M617.2 424.4h0M648.1 486.7h0M616.0 419.9h0M608.9 405.1h0M616.4 410.8h0M622.9 463.6h0M614.0 411.5h0M597.1 428.8h0M600.0 465.9h0M601.3 404.3h0M610.1 429.5h0M633.6 455.1h0M609.9 404.8h0M597.8 482.2h0M608.0 432.8h0M620.5 424.1h0M617.9 423.6h0M609.1 400.7h0M617.8 412.3h0M615.4 408.8h0M633.8 494.6h0M609.5 407.1h0M608.7 409.7h0M609.6 429.7h0M599.5 478.2h0M599.5 419.7h0M597.8 433.2h0M608.3 405.0h0M604.8 454.0h0M626.0 424.2h0M635.1 438.4h0M600.9 424.6h0M606.1 402.2h0M602.5 413.5h0M617.8 409.8h0M608.4 413.1h0M620.0 422.4h0M599.5 418.4h0M614.9 423.7h0M622.5 419.5h0M608.4 402.5h0M612.7 414.0h0M607.8 408.0h0M604.8 424.8h0M595.7 416.5h0M618.8 418.9h0M616.9 410.4h0M599.2 421.0h0M615.7 411.2h0M618.3 447.3h0M605.1 426.9h0M603.8 403.8h0M645.5 466.8h0M608.8 416.8h0M604.3 404.8h0M611.6 420.4h0M610.4 414.4h0M621.2 498.4h0M606.7 432.2h0M608.9 443.3h0M628.3 438.7h0M601.9 480.1h0M598.1 429.5h0M623.6 425.6h0M612.3 426.7h0M608.2 417.6h0M616.8 412.1h0M600.3 410.5h0M607.2 416.2h0M617.8 426.2h0M603.5 410.3h0M620.1 444.4h0M601.7 486.6h0M605.6 401.2h0M616.2 406.0h0M610.6 400.8h0M608.7 400.2h0M606.5 419.8h0M617.0 467.6h0M610.8 403.8h0M609.9 402.2h0M623.0 421.9h0M610.6 405.3h0M603.8 405.1h0M609.6 400.6h0M605.7 409.9h0M613.0 453.8h0M601.0 412.7h0M603.2 427.7h0M617.7 412.4h0M608.1 400.1h0M607.4 421.5h0M628.9 435.9h0M592.6 446.2h0M623.1 422.2h0M640.6 473.3h0M595.6 415.9h0M610.9 402.1h0M599.1 417.5h0M616.4 409.1h0M616.0 497.6h0M611.8 445.0h0M584.0 443.0h0M609.1 425.1h0M606.6 468.8h0M609.3 449.8h0M605.3 496.9h0M608.9 411.8h0M596.2 412.7h0M613.1 410.1h0M593.6 449.5h0M607.9 399.5h0M609.0 460.2h0M611.4 402.2h0M626.2 463.3h0M612.9 418.1h0M607.7 401.0h0M605.5 400.2h0M600.3 423.8h0M606.3 402.2h0M609.8 406.8h0M593.6 423.0h0M625.9 424.4h0M602.1 407.9h0M618.7 426.2h0M601.2 420.7h0M593.8 418.5h0M610.8 403.5h0M611.3 409.3h0M601.3 424.0h0M621.8 491.2h0M597.9 428.3h0M603.9 498.6h0M614.8 410.2h0M618.3 406.4h0M593.4 453.0h0M611.7 406.3h0M633.5 498.6h0M598.7 427.7h0M610.0 438.5h0M608.3 502.7h0M594.4 421.3h0M620.6 412.6h0M599.8 438.7h0M619.1 467.7h0M612.1 428.4h0M605.0 403.0h0M588.7 463.3h0M606.9 451.5h0M622.7 430.3h0M608.8 401.7h0M610.1 403.2h0M598.7 415.6h0M621.7 429.9h0M609.5 403.7h0M598.7 415.9h0M603.3 422.0h0M606.7 399.9h0M617.7 464.3h0M595.6 416.9h0M608.9 406.1h0M606.5 400.1h0M602.1 445.1h0M599.1 462.4h0M646.1 458.9h0M603.3 412.7h0M596.8 458.3h0M603.4 428.6h0M608.3 401.1h0M613.3 442.5h0M604.7 415.9h0M609.9 403.0h0M601.7 433.4h0M610.5 401.7h0M607.9 423.5h0M617.8 407.1h0M611.3 425.2h0M605.1 446.7h0M591.2 485.7h0M617.9 429.8h0M600.0 427.2h0M591.5 427.4h0M604.8 405.4h0M628.3 445.0h0M604.5 491.9h0M625.9 484.7h0M608.1 404.6h0M574.7 471.2h0M582.2 439.9h0M602.6 421.1h0M609.6 402.3h0M589.4 433.9h0M607.5 426.6h0M605.8 402.4h0M604.3 405.9h0M604.0 417.1h0M596.4 411.9h0M606.7 401.8h0M610.9 437.2h0M619.9 416.5h0M608.9 492.2h0M613.8 423.6h0M586.4 460.0h0M612.1 497.5h0M608.3 419.2h0M616.9 449.2h0M622.4 419.3h0M619.7 422.3h0M606.0 421.6h0M604.7 401.2h0M614.3 420.8h0M620.7 494.7h0M613.8 407.4h0M607.1 431.0h0M637.0 444.1h0M603.8 401.5h0M601.4 417.8h0M608.4 414.5h0M614.5 404.2h0M598.4 411.5h0M606.4 405.1h0M609.6 401.1h0M618.9 500.6h0M618.8 413.8h0M608.5 400.6h0M600.2 411.0h0M608.0 400.8h0M593.4 449.5h0M599.9 433.2h0M638.1 481.5h0M600.7 417.1h0M599.6 422.7h0M604.5 405.8h0M605.4 483.9h0M598.7 414.8h0M623.2 483.8h0M617.3 407.0h0M620.8 412.3h0M611.3 411.2h0M603.8 471.3h0M605.0 450.6h0M600.4 481.6h0M595.1 438.6h0M611.2 402.6h0M601.4 455.4h0M615.1 415.5h0M582.1 492.2h0M604.6 416.7h0M611.4 402.5h0M609.3 400.1h0M615.3 404.9h0M612.5 449.7h0M604.6 418.5h0M587.7 439.8h0M606.8 400.5h0M603.7 425.9h0M614.5 406.6h0M617.3 458.6h0M605.4 435.8h0M603.7 404.4h0M593.6 424.9h0M616.3 463.5h0M617.5 420.2h0M609.2 403.8h0M608.7 405.0h0M585.4 429.4h0M614.3 462.9h0M611.4 411.3h0M601.3 412.0h0M606.9 400.4h0M607.6 401.0h0M612.2 426.2h0M610.7 401.7h0M604.3 474.2h0M608.1 427.1h0M615.8 429.5h0M611.1 494.5h0M606.1 411.7h0M605.4 412.8h0M615.6 467.2h0M612.6 404.0h0M598.9 406.7h0M589.4 442.7h0M609.8 462.6h0M593.4 416.8h0M598.0 438.0h0M609.0 403.0h0M607.6 399.7h0M622.5 431.5h0M608.0 425.2h0M612.2 414.3h0M603.2 425.1h0M618.7 463.3h0M601.5 422.4h0M620.0 451.2h0M605.9 463.5h0M607.1 468.7h0M603.8 439.6h0M598.0 430.3h0M619.0 439.9h0M605.3 478.7h0M606.6 486.7h0M611.5 451.5h0M606.0 401.1h0M613.5 405.0h0M610.7 477.8h0M610.2 401.3h0M607.2 400.2h0M608.4 416.1h0M607.4 431.4h0M597.5 410.1h0M613.1 406.6h0M598.7 416.6h0M595.9 413.4h0M609.7 400.3h0M606.4 407.6h0M619.5 496.3h0M612.4 404.0h0M605.5 407.8h0M608.9 407.1h0M609.3 400.1h0M596.5 435.8h0M618.9 422.0h0M596.9 413.1h0M615.9 466.6h0M616.6 430.4h0M619.9 441.1h0M607.2 404.0h0M614.6 423.9h0M609.9 409.1h0M605.9 416.1h0M615.2 406.6h0M607.4 402.3h0M612.1 423.0h0M600.3 406.5h0M605.6 427.2h0M632.8 462.2h0M609.7 422.1h0M611.7 426.7h0M599.2 446.3h0M608.4 414.2h0M596.7 414.1h0M610.0 410.9h0M626.1 439.3h0M603.5 422.4h0M609.3 418.6h0M611.4 416.6h0M616.4 414.8h0M609.0 405.8h0M604.0 438.9h0M618.0 440.7h0M613.5 403.3h0M640.8 502.5h0M613.1 413.5h0M604.3 411.1h0M602.4 416.3h0M614.1 421.9h0M603.2 418.0h0M609.7 414.6h0M606.4 403.7h0M607.6 405.9h0M621.9 432.3h0M610.6 403.9h0M614.8 413.0h0M614.4 424.5h0M604.8 400.7h0M605.8 439.7h0M595.1 427.2h0M608.6 413.7h0M603.8 477.3h0M601.7 426.2h0M593.0 436.4h0M608.5 497.9h0M621.4 462.6h0M607.7 474.3h0M618.4 409.4h0M614.5 409.7h0M619.1 422.0h0M602.3 402.9h0M616.1 442.8h0M607.4 408.4h0M609.9 404.0h0M611.3 417.8h0M601.3 404.5h0M608.4 410.9h0M619.6 461.3h0M594.9 431.6h0M605.2 402.2h0M597.6 412.8h0M608.9 400.4h0M583.1 443.1h0M606.9 418.7h0M618.3 432.6h0M609.2 430.6h0M605.5 438.8h0M602.8 437.7h0M628.8 449.1h0M598.1 443.5h0M626.5 423.1h0M615.7 422.6h0M602.9 415.6h0M601.6 405.3h0M623.6 437.8h0M595.6 431.5h0M572.7 452.6h0M639.0 490.3h0M605.4 400.3h0M596.5 415.6h0M606.3 413.3h0M598.8 409.5h0M610.4 400.8h0M588.3 430.4h0M631.8 436.4h0M607.2 399.7h0M627.8 453.5h0M600.7 406.8h0M603.5 406.0h0M611.3 409.1h0M594.0 415.8h0M608.4 403.3h0M637.7 464.5h0M608.7 411.2h0M606.7 431.1h0M609.8 414.1h0M602.4 410.4h0M592.6 438.2h0M600.6 455.7h0M594.7 420.5h0M598.6 417.4h0M610.5 412.0h0M595.4 418.7h0M610.8 422.0h0M604.3 463.5h0M617.6 423.5h0M610.6 464.6h0M611.9 428.3h0M619.3 454.1h0M607.5 406.1h0M601.3 467.0h0M604.9 460.2h0M597.7 415.8h0M614.3 485.3h0M620.4 419.7h0M619.6 428.8h0M582.1 473.2h0M616.0 418.4h0M598.0 509.8h0M613.2 468.5h0M614.1 412.2h0M610.7 457.8h0M601.7 456.4h0M613.1 434.2h0M601.5 411.8h0M604.0 507.5h0M617.4 420.7h0M610.1 425.4h0M604.5 421.3h0M630.2 432.4h0M621.2 417.7h0M593.1 429.3h0M611.0 428.2h0M608.4 401.3h0M618.3 457.4h0M607.6 408.7h0M610.4 407.7h0M603.8 404.9h0M604.0 455.2h0M607.8 432.2h0M605.1 426.9h0M610.5 405.3h0M616.0 425.9h0M614.2 429.9h0M608.7 401.7h0M613.5 403.3h0M582.2 437.2h0M594.0 424.3h0M598.4 439.7h0M609.2 414.6h0M606.2 411.5h0M601.1 490.7h0M628.0 449.9h0M606.5 498.7h0M609.3 418.1h0M616.9 407.5h0M608.5 400.0h0M597.7 440.3h0M596.9 461.7h0M614.9 486.8h0M598.3 420.8h0M599.6 433.8h0M598.7 409.1h0M606.0 430.3h0M602.1 412.0h0M608.7 404.1h0M606.3 414.1h0M604.8 455.8h0M611.0 409.8h0M595.9 413.2h0M613.7 485.5h0M605.2 479.4h0M595.6 446.4h0M596.2 419.2h0M618.7 415.9h0M601.1 470.0h0M596.8 435.0h0M615.4 418.5h0M611.4 403.0h0M615.0 414.0h0M615.2 417.1h0M593.5 437.9h0M607.0 432.1h0M608.2 405.2h0M598.1 465.5h0M621.3 447.2h0M579.3 448.0h0M612.8 406.0h0M621.4 472.1h0M610.1 491.2h0M615.2 407.0h0M607.4 400.7h0M603.5 424.8h0M592.5 420.6h0M613.5 415.5h0M603.8 401.7h0M611.0 463.2h0M614.0 417.7h0M603.7 423.2h0M604.5 405.0h0M612.2 411.9h0M606.1 402.5h0M602.9 403.4h0M601.2 404.2h0M598.4 443.4h0M594.4 423.6h0M599.8 418.7h0M614.1 404.8h0M601.9 434.3h0M609.1 425.3h0M617.9 459.2h0M617.7 430.1h0M603.3 418.8h0M622.6 424.9h0M618.3 406.8h0M587.4 458.7h0M619.8 412.4h0M604.2 465.4h0M609.1 403.1h0M623.9 421.0h0M611.8 403.6h0M597.6 424.6h0M600.5 413.3h0M608.0 413.2h0M615.7 417.1h0M617.8 423.4h0M612.1 414.0h0M620.5 412.3h0M601.5 407.2h0M618.9 454.2h0M597.7 419.7h0M637.0 479.7h0M612.6 402.6h0M605.6 453.8h0M609.3 401.5h0M609.6 403.7h0M604.2 402.6h0M602.0 413.2h0M608.2 421.1h0M602.8 406.4h0M603.4 446.7h0M606.1 428.4h0M613.2 421.6h0M613.5 406.2h0M603.0 472.6h0M602.8 409.8h0M614.5 484.8h0M608.1 418.9h0M611.4 408.6h0M614.4 418.0h0M606.0 401.0h0M611.9 408.0h0M605.7 412.6h0M619.1 420.2h0M605.1 401.5h0M595.8 457.6h0M608.1 422.0h0M606.0 424.2h0M616.4 406.4h0M573.1 478.3h0M612.8 487.0h0M608.3 399.6h0M614.1 411.7h0M594.5 417.0h0M595.8 505.1h0M607.5 399.8h0M605.5 497.7h0M618.8 415.9h0M611.2 401.6h0M588.7 423.2h0M621.6 482.5h0M609.3 400.7h0M608.5 399.5h0M605.5 406.9h0M603.2 448.9h0M628.2 423.6h0M591.2 428.6h0M611.4 461.3h0M614.8 437.2h0M606.3 421.3h0M615.6 416.3h0M605.5 471.4h0M620.7 416.2h0M598.3 416.4h0M592.4 420.2h0M599.8 425.5h0M615.4 476.0h0M606.1 402.1h0M608.1 404.3h0M611.1 420.2h0M616.5 433.4h0M617.7 422.5h0M614.2 406.7h0M613.9 409.1h0M607.7 400.2h0M612.1 410.5h0M610.4 413.4h0M599.2 413.8h0M613.5 461.1h0M605.9 433.7h0M610.1 400.9h0M601.8 462.6h0M622.6 420.7h0M602.2 446.9h0M619.3 424.6h0M598.5 408.7h0M616.4 409.8h0M609.1 421.9h0M596.4 412.7h0M618.9 417.6h0M621.5 423.3h0M638.6 437.4h0M618.7 416.8h0M613.1 458.0h0M597.0 455.0h0M611.8 417.5h0M608.7 406.4h0M615.3 414.5h0M596.0 455.0h0M607.1 399.9h0M617.2 411.8h0M607.9 400.0h0M608.6 400.0h0M582.1 453.1h0M617.5 412.6h0M622.1 472.4h0M583.9 456.0h0M627.4 432.6h0M623.7 421.0h0M618.2 454.5h0M603.8 412.7h0M616.9 489.5h0M611.3 416.0h0M605.8 413.6h0M611.6 402.8h0M606.5 406.1h0M598.2 410.3h0M626.9 469.8h0M606.1 404.5h0M606.8 401.3h0M598.7 412.3h0M617.9 415.4h0M597.3 453.4h0M616.6 457.8h0M604.7 414.0h0M610.0 402.3h0M606.6 402.3h0M603.8 426.4h0M606.8 400.2h0M600.4 404.5h0M611.7 407.6h0M603.1 428.5h0M620.9 416.5h0M613.7 423.8h0M616.8 459.5h0M602.6 460.0h0M593.4 428.5h0M609.0 437.2h0M608.9 400.5h0M609.5 506.2h0M608.1 405.8h0M605.4 403.9h0M615.5 413.6h0M607.5 409.0h0M597.2 410.2h0M612.3 437.9h0M596.8 427.9h0M610.0 401.4h0M616.9 448.0h0M615.8 441.3h0M608.1 401.5h0M596.3 430.3h0M621.6 460.3h0M594.9 422.3h0M595.2 458.6h0M610.6 403.2h0M612.1 418.0h0M618.3 412.2h0M606.3 427.8h0M602.2 425.8h0M604.7 446.4h0M618.8 437.1h0M621.3 423.6h0M594.5 417.5h0M606.5 402.2h0M614.3 417.5h0M613.6 409.2h0M622.0 423.3h0M607.6 417.9h0M599.4 413.8h0M619.0 467.9h0M607.2 430.2h0M614.9 404.9h0M616.6 419.7h0M610.4 401.0h0M608.1 494.3h0M610.9 417.6h0M596.7 420.7h0M597.6 410.9h0M610.2 405.2h0M621.0 457.0h0M607.5 402.5h0M596.4 435.9h0M611.2 409.4h0M606.2 401.9h0M606.9 400.4h0M617.0 498.8h0M618.9 416.1h0M608.0 414.4h0M637.5 472.1h0M593.3 445.2h0M606.1 411.5h0M601.5 406.1h0M619.5 418.0h0M616.7 409.1h0M609.0 437.2h0M612.2 423.8h0M605.7 417.5h0M619.3 413.7h0M621.7 429.8h0M597.9 419.0h0M595.6 425.9h0M599.3 473.8h0M603.8 407.0h0M602.0 405.4h0M582.6 437.6h0M608.5 406.6h0M604.8 402.2h0M617.5 452.1h0M609.8 465.0h0M607.9 431.6h0M609.0 409.8h0M610.7 406.0h0M616.0 405.5h0M609.7 410.1h0M601.3 412.2h0M597.4 431.4h0M596.3 455.7h0M602.3 402.7h0M596.5 412.1h0M600.0 475.5h0M618.3 422.3h0M602.0 424.8h0M635.0 459.2h0M600.1 405.4h0M619.7 420.1h0M607.6 402.0h0M606.9 404.1h0M615.5 428.1h0M606.6 403.2h0M603.4 406.1h0M596.3 442.3h0M607.1 417.1h0M619.1 434.4h0M595.1 420.2h0M603.1 462.2h0M603.3 478.8h0M619.5 410.5h0M608.2 405.6h0M624.1 500.3h0M615.7 405.0h0M617.0 458.3h0M602.8 436.9h0M597.6 413.3h0M598.2 420.2h0M629.0 467.7h0M597.8 444.1h0M617.9 407.0h0M609.3 432.9h0M605.8 401.9h0M607.3 404.2h0M615.7 454.7h0M618.8 421.8h0M612.3 415.8h0M597.4 415.4h0M606.7 399.8h0M618.9 507.6h0M588.2 453.0h0M607.1 402.2h0M624.2 422.8h0M605.7 408.1h0M626.5 422.5h0M599.1 413.1h0M591.6 431.3h0M606.6 418.4h0M596.2 418.5h0M614.3 424.4h0M614.8 474.7h0M603.7 412.9h0M612.4 477.0h0M627.7 492.0h0M621.4 488.8h0M610.2 404.1h0M596.1 414.5h0M595.7 430.8h0M616.9 446.5h0M600.5 406.6h0M602.2 421.1h0M579.7 473.7h0M601.9 420.8h0M597.4 429.2h0M611.6 404.5h0M618.1 496.0h0M615.6 417.0h0M613.5 450.1h0M592.3 421.6h0M609.2 400.3h0M605.9 400.4h0M601.0 419.9h0M616.6 405.0h0M618.8 422.9h0M627.9 432.0h0M644.1 448.5h0M596.1 464.2h0M598.1 409.2h0M610.8 406.5h0M605.8 428.6h0M610.3 430.6h0M615.9 410.5h0M614.0 416.5h0M618.8 464.1h0M614.3 481.4h0M599.6 406.3h0M591.2 442.3h0M603.1 421.8h0M610.3 440.7h0M618.1 482.4h0M612.2 402.2h0M612.0 420.0h0M613.9 423.2h0M612.2 409.7h0M600.4 422.8h0M617.2 420.1h0M603.5 453.3h0M606.8 422.6h0M602.3 434.7h0M604.5 403.4h0M609.5 469.4h0M590.9 421.3h0M617.5 436.0h0M618.2 422.2h0M599.7 408.7h0M606.4 423.2h0M599.7 409.0h0M601.9 489.5h0M585.2 453.5h0M610.4 458.6h0M615.6 408.3h0M614.4 409.1h0M624.5 445.7h0M598.5 466.1h0M596.8 453.2h0M622.2 429.1h0M597.8 422.9h0M614.1 423.3h0M601.0 476.8h0M610.5 433.4h0M605.2 422.8h0M610.6 438.4h0M604.3 401.9h0M608.2 401.3h0M595.1 418.4h0M602.0 449.4h0M601.7 408.0h0M613.1 498.7h0M606.9 420.3h0M614.9 418.5h0M616.3 407.0h0M615.6 491.8h0M617.7 409.1h0M599.8 452.7h0M607.3 463.8h0M605.4 469.4h0M611.8 428.5h0M604.6 446.8h0M612.5 436.6h0M606.4 416.6h0M601.7 408.8h0M604.5 414.1h0M596.0 421.6h0M606.4 399.6h0M618.7 413.2h0M608.0 507.4h0M600.4 412.0h0M607.9 406.4h0M613.9 410.7h0M610.6 464.5h0M590.4 424.1h0M605.7 411.0h0M618.1 480.4h0M610.3 406.5h0M620.7 442.2h0M608.7 400.6h0M597.2 448.1h0M617.1 421.4h0M622.0 444.7h0M598.7 422.6h0M610.5 432.6h0M601.4 445.0h0M611.5 403.4h0M595.1 423.9h0M616.5 412.5h0M610.3 409.2h0M589.0 447.4h0M594.4 418.8h0M603.7 414.2h0M606.1 467.5h0M607.5 400.9h0M607.4 407.7h0M614.3 419.4h0M609.6 403.6h0M609.8 490.7h0M612.7 409.0h0M620.2 447.2h0M602.6 446.2h0M613.2 427.8h0M603.9 405.1h0M609.2 421.5h0M617.6 468.1h0M621.7 468.3h0M608.6 404.5h0M613.3 412.4h0M581.3 433.7h0M612.8 412.4h0M622.0 423.2h0M616.8 421.9h0M619.1 497.6h0M605.1 401.8h0M615.2 414.3h0M601.1 417.5h0M616.0 408.6h0M598.9 409.6h0M607.4 423.7h0M598.6 409.6h0M595.4 420.4h0M584.5 462.4h0M612.1 478.5h0M607.8 404.1h0M599.9 432.2h0M604.1 411.8h0M619.3 418.2h0M617.0 436.8h0M605.4 407.0h0M598.4 461.2h0M601.1 441.7h0M608.4 408.2h0M604.5 401.3h0M615.8 457.7h0M606.1 404.8h0M599.4 432.5h0M609.5 402.4h0M608.6 407.0h0M605.3 401.9h0M607.2 475.1h0M612.5 444.9h0M610.0 410.8h0M595.7 435.2h0M601.2 404.6h0M595.6 424.6h0M620.4 412.9h0M590.2 422.7h0M606.0 400.5h0M615.4 418.1h0M608.0 400.3h0M608.8 460.2h0M605.8 400.0h0M632.1 484.8h0M620.0 448.5h0M596.3 443.6h0M607.8 400.8h0M612.6 408.4h0M609.7 442.2h0M606.0 505.3h0M601.9 402.7h0M610.8 430.1h0M608.7 402.9h0M615.1 408.2h0M602.1 445.5h0M612.9 402.8h0M595.9 425.0h0M605.6 422.2h0M606.1 400.1h0M605.7 414.6h0M598.0 468.9h0M642.7 452.1h0M598.6 438.7h0M608.5 402.9h0"/>
<line x1="533.60" y1="400.30" x2="682.50" y2="400.30" stroke="#2b2bdd" stroke-width="1.0"/>
<line x1="533.60" y1="425.20" x2="682.50" y2="425.20" stroke="#2b2bdd" stroke-width="1.0"/>
<line x1="597.60" y1="394.10" x2="597.60" y2="540.80" stroke="#2121d9" stroke-width="1.0"/>
<line x1="618.70" y1="394.10" x2="618.70" y2="540.80" stroke="#2121d9" stroke-width="1.0"/>
<text x="536.00" y="399.30" font-size="6.2" text-anchor="start" fill="#231f20">6,233</text>
<text x="680.00" y="399.30" font-size="6.2" text-anchor="end" fill="#231f20">6,100</text>
<text x="536.00" y="407.20" font-size="6.2" text-anchor="start" fill="#ff00ff">147</text>
<text x="680.00" y="407.20" font-size="6.2" text-anchor="end" fill="#ff00ff">48</text>
<path stroke="#ff00ff" stroke-width="3.2" stroke-linecap="round" d="M607.1 425.2h0M599.5 437.3h0M608.5 429.6h0M607.1 419.2h0M600.4 437.3h0M603.1 405.8h0M607.6 419.3h0M612.8 423.3h0M607.9 402.0h0M611.8 436.3h0M612.2 430.6h0M611.5 406.8h0M607.7 425.0h0M607.7 434.6h0M609.3 409.5h0M615.5 434.7h0M611.4 412.5h0M606.1 427.3h0M611.6 409.3h0M604.4 438.2h0M606.0 435.5h0M610.0 407.8h0M609.6 407.0h0M609.0 424.4h0M606.6 401.6h0M604.8 413.3h0M603.1 432.6h0M607.9 419.8h0M615.5 428.3h0M609.6 402.4h0M608.0 430.0h0M606.7 431.4h0M607.1 415.4h0M607.4 403.3h0M609.3 408.4h0M606.6 430.2h0M612.3 436.8h0M606.4 415.0h0M607.8 421.4h0M605.2 429.9h0M608.4 431.8h0M606.3 437.4h0M605.7 405.0h0M613.9 436.4h0M611.3 414.4h0M605.6 413.4h0M608.1 413.5h0M608.5 407.2h0M610.3 427.7h0M607.5 403.3h0M601.8 439.0h0M606.9 410.5h0M609.7 424.1h0M603.9 417.5h0M608.0 403.6h0M607.0 420.3h0M613.3 433.4h0M614.2 437.6h0M608.0 425.5h0M605.8 418.0h0M608.8 407.2h0M604.9 418.7h0M615.5 439.5h0M599.5 418.7h0M606.9 420.1h0M603.9 412.6h0M609.6 416.8h0M612.0 439.1h0M602.9 438.0h0M604.7 414.4h0M606.9 404.9h0M615.5 434.5h0M608.8 415.2h0M599.6 427.9h0M607.8 426.7h0M603.0 428.3h0M602.1 412.2h0M608.2 427.8h0M611.9 412.7h0M605.4 423.6h0M605.9 401.9h0M606.5 427.0h0M609.8 419.1h0M600.8 431.8h0M604.1 414.7h0M600.9 433.0h0M611.3 414.8h0M599.7 427.7h0M614.1 438.6h0M606.2 421.6h0M610.9 407.8h0M599.7 419.6h0M606.1 427.8h0M603.1 408.0h0M601.0 431.2h0M604.9 417.5h0M608.5 425.2h0M600.8 428.9h0M608.8 402.5h0M611.6 426.2h0M605.9 409.8h0M604.5 403.1h0M607.7 419.4h0M608.4 406.6h0M608.4 413.6h0M608.9 402.9h0M603.6 419.2h0M611.5 423.9h0M607.6 410.5h0M607.4 416.9h0M606.2 412.1h0M608.9 433.1h0M612.2 415.7h0M608.3 405.1h0M604.6 422.2h0M584.4 438.6h0M589.7 438.6h0M583.5 446.1h0M588.5 450.9h0M595.0 447.4h0M603.0 443.0h0M601.2 446.5h0M610.9 450.9h0M616.2 435.0h0M616.2 446.1h0M623.3 450.0h0M592.4 453.6h0M593.3 458.0h0M597.7 460.6h0M602.1 459.7h0M586.2 460.6h0M584.4 467.7h0M586.2 465.9h0M591.5 470.3h0M597.7 470.3h0M612.7 476.2h0M619.7 481.8h0M620.6 486.2h0M586.2 485.3h0M604.7 448.3h0M608.3 434.1h0"/>
<circle cx="638.40" cy="532.00" r="1.6" fill="#000"/>
<circle cx="651.00" cy="512.00" r="1.6" fill="#000"/>
<circle cx="661.80" cy="510.20" r="1.6" fill="#000"/>
<circle cx="675.20" cy="504.80" r="1.6" fill="#000"/>
<circle cx="676.30" cy="517.40" r="1.6" fill="#000"/>
<circle cx="643.80" cy="504.80" r="1.6" fill="#000"/>
<circle cx="621.00" cy="511.30" r="1.6" fill="#000"/>
<circle cx="593.20" cy="504.00" r="1.6" fill="#000"/>
<circle cx="565.00" cy="466.90" r="1.6" fill="#000"/>
<circle cx="569.70" cy="475.90" r="1.6" fill="#000"/>
<circle cx="587.40" cy="494.00" r="1.6" fill="#000"/>
<circle cx="657.90" cy="486.00" r="1.6" fill="#000"/>
<circle cx="652.80" cy="466.90" r="1.6" fill="#000"/>
<text x="539" y="533" font-size="7" fill="#ff00ff"><tspan font-style="italic">P</tspan> = 9.5 × 10<tspan font-size="5" dy="-3">−13</tspan></text>
<text x="545.20" y="551.60" font-size="7.7" text-anchor="middle" fill="#231f20">0.016</text>
<text x="608.40" y="551.60" font-size="7.7" text-anchor="middle" fill="#231f20">1</text>
<text x="672.50" y="551.60" font-size="7.7" text-anchor="middle" fill="#231f20">64</text>
<circle cx="559.60" cy="379.00" r="2.3" fill="#ff00ff"/>
<text x="566.80" y="381.60" font-size="7.4" text-anchor="start" fill="#231f20" textLength="91" lengthAdjust="spacingAndGlyphs">Adipogenesis up-signature</text>
</svg></body></html>
